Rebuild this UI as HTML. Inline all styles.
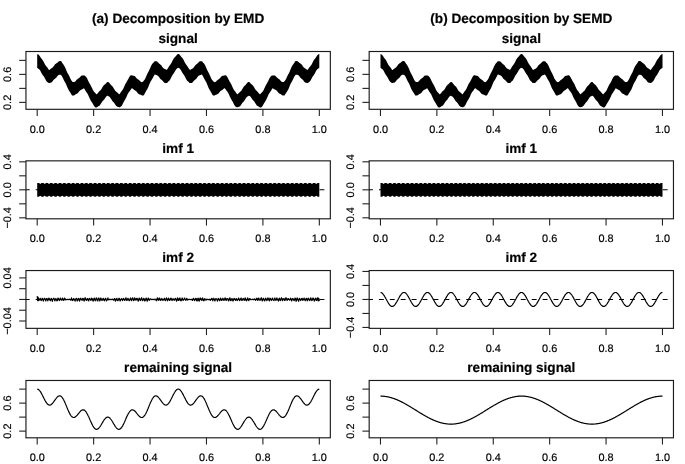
<!DOCTYPE html>
<html><head><meta charset="utf-8"><style>
html,body{margin:0;padding:0;background:#fff;}
svg{display:block;will-change:transform;}
text{font-family:"Liberation Sans", sans-serif;fill:#000;stroke:#000;stroke-width:0.18px;text-rendering:geometricPrecision;}
</style></head><body>
<svg width="685" height="464" viewBox="0 0 685 464">
<rect width="685" height="464" fill="#fff"/>
<text x="178.14" y="22.7" text-anchor="middle" font-size="13.6" font-weight="bold">(a) Decomposition by EMD</text>
<text x="178.14" y="43.00" text-anchor="middle" font-size="13.6" font-weight="bold">signal</text>
<rect x="25.95" y="51.50" width="304.38" height="57.80" fill="none" stroke="#1a1a1a" stroke-width="1.15"/>
<line x1="37.20" y1="109.30" x2="37.20" y2="116.05" stroke="#222" stroke-width="1.1"/>
<text x="37.20" y="132.70" text-anchor="middle" font-size="10.9">0.0</text>
<line x1="93.63" y1="109.30" x2="93.63" y2="116.05" stroke="#222" stroke-width="1.1"/>
<text x="93.63" y="132.70" text-anchor="middle" font-size="10.9">0.2</text>
<line x1="150.05" y1="109.30" x2="150.05" y2="116.05" stroke="#222" stroke-width="1.1"/>
<text x="150.05" y="132.70" text-anchor="middle" font-size="10.9">0.4</text>
<line x1="206.48" y1="109.30" x2="206.48" y2="116.05" stroke="#222" stroke-width="1.1"/>
<text x="206.48" y="132.70" text-anchor="middle" font-size="10.9">0.6</text>
<line x1="262.90" y1="109.30" x2="262.90" y2="116.05" stroke="#222" stroke-width="1.1"/>
<text x="262.90" y="132.70" text-anchor="middle" font-size="10.9">0.8</text>
<line x1="319.33" y1="109.30" x2="319.33" y2="116.05" stroke="#222" stroke-width="1.1"/>
<text x="319.33" y="132.70" text-anchor="middle" font-size="10.9">1.0</text>
<line x1="19.20" y1="102.38" x2="25.95" y2="102.38" stroke="#222" stroke-width="1.1"/>
<text x="11.15" y="102.38" transform="rotate(-90 11.15 102.38)" text-anchor="middle" font-size="10.9">0.2</text>
<line x1="19.20" y1="88.38" x2="25.95" y2="88.38" stroke="#222" stroke-width="1.1"/>
<line x1="19.20" y1="74.38" x2="25.95" y2="74.38" stroke="#222" stroke-width="1.1"/>
<text x="11.15" y="74.38" transform="rotate(-90 11.15 74.38)" text-anchor="middle" font-size="10.9">0.6</text>
<line x1="19.20" y1="60.38" x2="25.95" y2="60.38" stroke="#222" stroke-width="1.1"/>
<polygon points="37.2,54.2 37.4,54.2 37.6,54.2 37.8,54.2 38.0,54.3 38.2,54.4 38.4,54.5 38.6,54.7 38.8,54.9 39.0,55.1 39.2,55.4 39.4,55.6 39.6,55.9 39.8,56.2 40.0,56.5 40.2,56.8 40.4,57.1 40.6,57.4 40.8,57.7 41.0,58.0 41.2,58.2 41.4,58.5 41.6,58.7 41.8,58.9 42.0,59.2 42.2,59.5 42.4,59.7 42.6,60.0 42.8,60.4 43.0,60.7 43.2,61.1 43.5,61.5 43.7,61.9 43.9,62.3 44.1,62.7 44.3,63.1 44.5,63.6 44.7,64.0 44.9,64.3 45.1,64.7 45.3,65.0 45.5,65.3 45.7,65.6 45.9,65.8 46.1,66.1 46.3,66.3 46.5,66.6 46.7,66.8 46.9,67.1 47.1,67.3 47.3,67.6 47.5,67.8 47.7,68.1 47.9,68.4 48.1,68.7 48.3,69.0 48.5,69.3 48.7,69.6 48.9,69.9 49.1,70.1 49.3,70.0 49.5,69.9 49.7,69.7 49.9,69.5 50.1,69.3 50.3,69.2 50.5,69.0 50.7,68.8 50.9,68.7 51.1,68.5 51.3,68.4 51.5,68.3 51.7,68.1 51.9,68.0 52.1,67.9 52.3,67.8 52.5,67.6 52.7,67.4 52.9,67.2 53.1,67.0 53.3,66.8 53.5,66.5 53.7,66.2 53.9,65.9 54.1,65.7 54.3,65.4 54.5,65.1 54.7,64.8 54.9,64.5 55.1,64.3 55.3,64.1 55.6,63.9 55.8,63.7 56.0,63.6 56.2,63.4 56.4,63.3 56.6,63.2 56.8,63.1 57.0,62.9 57.2,62.8 57.4,62.7 57.6,62.5 57.8,62.3 58.0,62.2 58.2,62.0 58.4,61.8 58.6,61.6 58.8,61.5 59.0,61.3 59.2,61.2 59.4,61.1 59.6,61.1 59.8,61.0 60.0,61.0 60.2,61.0 60.4,61.0 60.6,61.0 60.8,61.0 61.0,61.1 61.2,61.2 61.4,61.5 61.6,61.8 61.8,62.1 62.0,62.5 62.2,62.8 62.4,63.1 62.6,63.4 62.8,63.7 63.0,64.0 63.2,64.3 63.4,64.5 63.6,64.8 63.8,65.1 64.0,65.4 64.2,65.7 64.4,66.1 64.6,66.4 64.8,66.8 65.0,67.2 65.2,67.7 65.4,68.1 65.6,68.6 65.8,69.1 66.0,69.6 66.2,70.1 66.4,70.6 66.6,71.1 66.8,71.5 67.0,72.0 67.2,72.4 67.4,72.8 67.7,73.2 67.9,73.5 68.1,73.9 68.3,74.3 68.5,74.6 68.7,75.0 68.9,75.4 69.1,75.8 69.3,76.2 69.5,76.6 69.7,77.0 69.9,77.5 70.1,77.9 70.3,78.3 70.5,78.8 70.7,79.2 70.9,79.6 71.1,80.0 71.3,80.3 71.5,80.6 71.7,80.9 71.9,81.1 72.1,81.4 72.3,81.6 72.5,81.8 72.7,81.9 72.9,82.0 73.1,82.0 73.3,82.0 73.5,82.0 73.7,82.0 73.9,82.0 74.1,81.9 74.3,81.9 74.5,81.9 74.7,81.8 74.9,81.7 75.1,81.5 75.3,81.4 75.5,81.2 75.7,81.0 75.9,80.7 76.1,80.5 76.3,80.2 76.5,80.0 76.7,79.8 76.9,79.6 77.1,79.4 77.3,79.2 77.5,79.0 77.7,78.9 77.9,78.8 78.1,78.6 78.3,78.5 78.5,78.4 78.7,78.3 78.9,78.1 79.1,78.0 79.3,77.8 79.5,77.6 79.8,77.4 80.0,77.2 80.2,76.9 80.4,76.7 80.6,76.5 80.8,76.3 81.0,76.1 81.2,75.9 81.4,75.7 81.6,75.6 81.8,75.5 82.0,75.5 82.2,75.4 82.4,75.4 82.6,75.4 82.8,75.4 83.0,75.4 83.2,75.4 83.4,75.4 83.6,75.4 83.8,75.4 84.0,75.5 84.2,75.5 84.4,75.5 84.6,75.5 84.8,75.6 85.0,75.8 85.2,76.0 85.4,76.2 85.6,76.4 85.8,76.6 86.0,76.8 86.2,77.1 86.4,77.3 86.6,77.6 86.8,77.9 87.0,78.3 87.2,78.7 87.4,79.1 87.6,79.5 87.8,79.9 88.0,80.4 88.2,80.8 88.4,81.2 88.6,81.6 88.8,82.0 89.0,82.4 89.2,82.8 89.4,83.2 89.6,83.5 89.8,83.8 90.0,84.2 90.2,84.5 90.4,84.8 90.6,85.2 90.8,85.6 91.0,86.0 91.2,86.4 91.4,86.8 91.6,87.2 91.9,87.7 92.1,88.1 92.3,88.6 92.5,89.0 92.7,89.4 92.9,89.9 93.1,90.2 93.3,90.6 93.5,90.9 93.7,91.2 93.9,91.5 94.1,91.7 94.3,91.9 94.5,92.2 94.7,92.4 94.9,92.6 95.1,92.8 95.3,93.0 95.5,93.2 95.7,93.5 95.9,93.7 96.1,93.9 96.3,94.2 96.5,94.2 96.7,94.2 96.9,94.0 97.1,93.9 97.3,93.7 97.5,93.5 97.7,93.3 97.9,93.1 98.1,92.8 98.3,92.5 98.5,92.3 98.7,92.0 98.9,91.8 99.1,91.6 99.3,91.3 99.5,91.1 99.7,90.9 99.9,90.8 100.1,90.6 100.3,90.4 100.5,90.2 100.7,90.0 100.9,89.7 101.1,89.5 101.3,89.2 101.5,88.9 101.7,88.5 101.9,88.2 102.1,87.9 102.3,87.5 102.5,87.1 102.7,86.8 102.9,86.5 103.1,86.2 103.3,85.9 103.5,85.6 103.7,85.4 104.0,85.2 104.2,85.0 104.4,84.8 104.6,84.6 104.8,84.5 105.0,84.3 105.2,84.2 105.4,84.0 105.6,83.8 105.8,83.6 106.0,83.4 106.2,83.2 106.4,83.0 106.6,82.7 106.8,82.5 107.0,82.3 107.2,82.2 107.4,82.0 107.6,82.0 107.8,82.0 108.0,82.0 108.2,82.0 108.4,82.1 108.6,82.2 108.8,82.4 109.0,82.6 109.2,82.8 109.4,83.0 109.6,83.2 109.8,83.5 110.0,83.8 110.2,84.0 110.4,84.3 110.6,84.5 110.8,84.8 111.0,85.0 111.2,85.2 111.4,85.4 111.6,85.6 111.8,85.8 112.0,85.9 112.2,86.1 112.4,86.4 112.6,86.6 112.8,86.8 113.0,87.1 113.2,87.4 113.4,87.7 113.6,88.1 113.8,88.4 114.0,88.8 114.2,89.1 114.4,89.5 114.6,89.8 114.8,90.1 115.0,90.4 115.2,90.7 115.4,90.9 115.6,91.2 115.8,91.3 116.1,91.5 116.3,91.7 116.5,91.9 116.7,92.0 116.9,92.2 117.1,92.3 117.3,92.5 117.5,92.7 117.7,92.9 117.9,93.1 118.1,93.3 118.3,93.5 118.5,93.7 118.7,93.9 118.9,94.1 119.1,94.3 119.3,94.4 119.5,94.1 119.7,93.9 119.9,93.6 120.1,93.3 120.3,93.0 120.5,92.7 120.7,92.4 120.9,92.1 121.1,91.8 121.3,91.6 121.5,91.3 121.7,91.0 121.9,90.8 122.1,90.5 122.3,90.3 122.5,90.0 122.7,89.7 122.9,89.3 123.1,89.0 123.3,88.6 123.5,88.2 123.7,87.8 123.9,87.3 124.1,86.8 124.3,86.4 124.5,85.9 124.7,85.4 124.9,85.0 125.1,84.6 125.3,84.1 125.5,83.8 125.7,83.4 125.9,83.0 126.1,82.7 126.3,82.4 126.5,82.0 126.7,81.7 126.9,81.4 127.1,81.1 127.3,80.7 127.5,80.3 127.7,80.0 127.9,79.6 128.2,79.2 128.4,78.8 128.6,78.4 128.8,78.0 129.0,77.6 129.2,77.2 129.4,76.9 129.6,76.6 129.8,76.3 130.0,76.0 130.2,75.8 130.4,75.6 130.6,75.5 130.8,75.3 131.0,75.3 131.2,75.3 131.4,75.3 131.6,75.3 131.8,75.3 132.0,75.4 132.2,75.5 132.4,75.5 132.6,75.6 132.8,75.6 133.0,75.7 133.2,75.7 133.4,75.7 133.6,75.8 133.8,75.8 134.0,75.8 134.2,75.9 134.4,76.0 134.6,76.1 134.8,76.2 135.0,76.4 135.2,76.5 135.4,76.7 135.6,77.0 135.8,77.2 136.0,77.4 136.2,77.7 136.4,77.9 136.6,78.2 136.8,78.4 137.0,78.6 137.2,78.8 137.4,79.0 137.6,79.1 137.8,79.3 138.0,79.4 138.2,79.5 138.4,79.6 138.6,79.7 138.8,79.9 139.0,80.0 139.2,80.2 139.4,80.4 139.6,80.6 139.8,80.8 140.0,81.0 140.3,81.2 140.5,81.4 140.7,81.6 140.9,81.8 141.1,81.9 141.3,82.0 141.5,82.1 141.7,82.2 141.9,82.2 142.1,82.1 142.3,82.1 142.5,82.0 142.7,81.9 142.9,81.6 143.1,81.4 143.3,81.2 143.5,80.9 143.7,80.7 143.9,80.5 144.1,80.3 144.3,80.0 144.5,79.7 144.7,79.4 144.9,79.1 145.1,78.8 145.3,78.4 145.5,78.0 145.7,77.5 145.9,77.1 146.1,76.6 146.3,76.1 146.5,75.7 146.7,75.2 146.9,74.7 147.1,74.3 147.3,73.9 147.5,73.5 147.7,73.1 147.9,72.7 148.1,72.3 148.3,71.9 148.5,71.6 148.7,71.2 148.9,70.8 149.1,70.4 149.3,70.0 149.5,69.6 149.7,69.1 149.9,68.7 150.1,68.2 150.3,67.7 150.5,67.2 150.7,66.8 150.9,66.3 151.1,65.9 151.3,65.5 151.5,65.1 151.7,64.7 151.9,64.4 152.1,64.1 152.4,63.8 152.6,63.6 152.8,63.3 153.0,63.1 153.2,62.9 153.4,62.6 153.6,62.4 153.8,62.2 154.0,61.9 154.2,61.6 154.4,61.4 154.6,61.3 154.8,61.3 155.0,61.3 155.2,61.2 155.4,61.2 155.6,61.2 155.8,61.2 156.0,61.2 156.2,61.2 156.4,61.2 156.6,61.3 156.8,61.4 157.0,61.5 157.2,61.6 157.4,61.8 157.6,62.0 157.8,62.2 158.0,62.4 158.2,62.6 158.4,62.8 158.6,63.0 158.8,63.2 159.0,63.4 159.2,63.6 159.4,63.8 159.6,63.9 159.8,64.1 160.0,64.2 160.2,64.4 160.4,64.5 160.6,64.7 160.8,64.9 161.0,65.1 161.2,65.3 161.4,65.5 161.6,65.8 161.8,66.1 162.0,66.4 162.2,66.7 162.4,66.9 162.6,67.2 162.8,67.5 163.0,67.8 163.2,68.0 163.4,68.2 163.6,68.3 163.8,68.5 164.0,68.6 164.2,68.7 164.5,68.8 164.7,68.9 164.9,69.0 165.1,69.1 165.3,69.2 165.5,69.3 165.7,69.4 165.9,69.5 166.1,69.6 166.3,69.8 166.5,69.9 166.7,69.8 166.9,69.6 167.1,69.4 167.3,69.2 167.5,68.9 167.7,68.6 167.9,68.3 168.1,67.9 168.3,67.6 168.5,67.3 168.7,66.9 168.9,66.6 169.1,66.3 169.3,66.0 169.5,65.7 169.7,65.4 169.9,65.1 170.1,64.9 170.3,64.6 170.5,64.4 170.7,64.1 170.9,63.8 171.1,63.5 171.3,63.1 171.5,62.8 171.7,62.4 171.9,62.0 172.1,61.6 172.3,61.2 172.5,60.8 172.7,60.3 172.9,59.9 173.1,59.6 173.3,59.2 173.5,58.9 173.7,58.6 173.9,58.3 174.1,58.0 174.3,57.8 174.5,57.6 174.7,57.4 174.9,57.1 175.1,56.9 175.3,56.7 175.5,56.5 175.7,56.3 175.9,56.0 176.1,55.8 176.3,55.5 176.6,55.3 176.8,55.0 177.0,54.8 177.2,54.6 177.4,54.4 177.6,54.2 177.8,54.0 178.0,54.0 178.2,54.0 178.4,54.0 178.6,54.0 178.8,54.0 179.0,54.2 179.2,54.3 179.4,54.5 179.6,54.8 179.8,55.0 180.0,55.3 180.2,55.5 180.4,55.8 180.6,56.0 180.8,56.3 181.0,56.5 181.2,56.7 181.4,57.0 181.6,57.2 181.8,57.4 182.0,57.6 182.2,57.8 182.4,58.0 182.6,58.3 182.8,58.6 183.0,58.9 183.2,59.2 183.4,59.6 183.6,59.9 183.8,60.3 184.0,60.7 184.2,61.2 184.4,61.6 184.6,62.0 184.8,62.4 185.0,62.8 185.2,63.1 185.4,63.5 185.6,63.8 185.8,64.1 186.0,64.4 186.2,64.6 186.4,64.9 186.6,65.2 186.8,65.4 187.0,65.7 187.2,66.0 187.4,66.3 187.6,66.6 187.8,66.9 188.0,67.2 188.2,67.6 188.4,67.9 188.7,68.3 188.9,68.6 189.1,68.9 189.3,69.2 189.5,69.4 189.7,69.6 189.9,69.8 190.1,69.9 190.3,69.8 190.5,69.7 190.7,69.5 190.9,69.4 191.1,69.3 191.3,69.2 191.5,69.1 191.7,69.0 191.9,68.9 192.1,68.8 192.3,68.7 192.5,68.6 192.7,68.5 192.9,68.3 193.1,68.2 193.3,68.0 193.5,67.8 193.7,67.5 193.9,67.2 194.1,67.0 194.3,66.7 194.5,66.4 194.7,66.1 194.9,65.8 195.1,65.5 195.3,65.3 195.5,65.1 195.7,64.9 195.9,64.7 196.1,64.5 196.3,64.4 196.5,64.2 196.7,64.1 196.9,63.9 197.1,63.8 197.3,63.6 197.5,63.4 197.7,63.2 197.9,63.0 198.1,62.8 198.3,62.6 198.5,62.4 198.7,62.2 198.9,62.0 199.1,61.8 199.3,61.6 199.5,61.5 199.7,61.4 199.9,61.3 200.1,61.2 200.3,61.2 200.5,61.2 200.8,61.2 201.0,61.2 201.2,61.2 201.4,61.2 201.6,61.2 201.8,61.3 202.0,61.3 202.2,61.4 202.4,61.6 202.6,61.9 202.8,62.2 203.0,62.4 203.2,62.7 203.4,62.9 203.6,63.1 203.8,63.3 204.0,63.6 204.2,63.8 204.4,64.1 204.6,64.4 204.8,64.7 205.0,65.1 205.2,65.5 205.4,65.9 205.6,66.3 205.8,66.8 206.0,67.2 206.2,67.7 206.4,68.2 206.6,68.7 206.8,69.1 207.0,69.6 207.2,70.0 207.4,70.4 207.6,70.8 207.8,71.2 208.0,71.6 208.2,72.0 208.4,72.3 208.6,72.7 208.8,73.1 209.0,73.5 209.2,73.9 209.4,74.3 209.6,74.7 209.8,75.2 210.0,75.7 210.2,76.1 210.4,76.6 210.6,77.1 210.8,77.5 211.0,78.0 211.2,78.4 211.4,78.8 211.6,79.1 211.8,79.4 212.0,79.7 212.2,80.0 212.4,80.3 212.6,80.5 212.9,80.7 213.1,81.0 213.3,81.2 213.5,81.4 213.7,81.6 213.9,81.9 214.1,82.0 214.3,82.1 214.5,82.1 214.7,82.2 214.9,82.2 215.1,82.1 215.3,82.0 215.5,81.9 215.7,81.8 215.9,81.6 216.1,81.4 216.3,81.2 216.5,81.0 216.7,80.8 216.9,80.6 217.1,80.4 217.3,80.2 217.5,80.0 217.7,79.9 217.9,79.7 218.1,79.6 218.3,79.5 218.5,79.4 218.7,79.2 218.9,79.1 219.1,79.0 219.3,78.8 219.5,78.6 219.7,78.4 219.9,78.2 220.1,78.0 220.3,77.7 220.5,77.5 220.7,77.2 220.9,77.0 221.1,76.7 221.3,76.5 221.5,76.4 221.7,76.2 221.9,76.1 222.1,76.0 222.3,75.9 222.5,75.8 222.7,75.8 222.9,75.8 223.1,75.7 223.3,75.7 223.5,75.7 223.7,75.6 223.9,75.6 224.1,75.5 224.3,75.5 224.5,75.4 224.7,75.3 225.0,75.3 225.2,75.3 225.4,75.3 225.6,75.3 225.8,75.3 226.0,75.5 226.2,75.6 226.4,75.8 226.6,76.0 226.8,76.3 227.0,76.6 227.2,76.9 227.4,77.2 227.6,77.6 227.8,78.0 228.0,78.3 228.2,78.8 228.4,79.2 228.6,79.6 228.8,80.0 229.0,80.3 229.2,80.7 229.4,81.1 229.6,81.4 229.8,81.7 230.0,82.1 230.2,82.4 230.4,82.7 230.6,83.0 230.8,83.4 231.0,83.8 231.2,84.1 231.4,84.6 231.6,85.0 231.8,85.4 232.0,85.9 232.2,86.4 232.4,86.8 232.6,87.3 232.8,87.7 233.0,88.2 233.2,88.6 233.4,89.0 233.6,89.3 233.8,89.7 234.0,90.0 234.2,90.3 234.4,90.5 234.6,90.8 234.8,91.1 235.0,91.3 235.2,91.6 235.4,91.8 235.6,92.1 235.8,92.4 236.0,92.7 236.2,93.0 236.4,93.3 236.6,93.6 236.8,93.8 237.1,94.1 237.3,94.4 237.5,94.3 237.7,94.1 237.9,94.0 238.1,93.8 238.3,93.6 238.5,93.3 238.7,93.1 238.9,92.9 239.1,92.7 239.3,92.5 239.5,92.3 239.7,92.2 239.9,92.0 240.1,91.8 240.3,91.7 240.5,91.5 240.7,91.3 240.9,91.1 241.1,90.9 241.3,90.7 241.5,90.4 241.7,90.1 241.9,89.8 242.1,89.5 242.3,89.1 242.5,88.8 242.7,88.4 242.9,88.1 243.1,87.7 243.3,87.4 243.5,87.1 243.7,86.8 243.9,86.6 244.1,86.3 244.3,86.1 244.5,85.9 244.7,85.7 244.9,85.6 245.1,85.4 245.3,85.2 245.5,85.0 245.7,84.8 245.9,84.5 246.1,84.3 246.3,84.0 246.5,83.8 246.7,83.5 246.9,83.3 247.1,83.0 247.3,82.8 247.5,82.6 247.7,82.4 247.9,82.2 248.1,82.1 248.3,82.0 248.5,82.0 248.7,82.0 248.9,82.0 249.2,82.0 249.4,82.1 249.6,82.3 249.8,82.5 250.0,82.7 250.2,83.0 250.4,83.2 250.6,83.4 250.8,83.6 251.0,83.8 251.2,84.0 251.4,84.2 251.6,84.3 251.8,84.5 252.0,84.7 252.2,84.8 252.4,85.0 252.6,85.2 252.8,85.4 253.0,85.6 253.2,85.9 253.4,86.2 253.6,86.5 253.8,86.8 254.0,87.1 254.2,87.5 254.4,87.8 254.6,88.2 254.8,88.5 255.0,88.9 255.2,89.2 255.4,89.5 255.6,89.7 255.8,90.0 256.0,90.2 256.2,90.4 256.4,90.6 256.6,90.8 256.8,91.0 257.0,91.2 257.2,91.4 257.4,91.6 257.6,91.8 257.8,92.0 258.0,92.3 258.2,92.5 258.4,92.8 258.6,93.0 258.8,93.3 259.0,93.5 259.2,93.7 259.4,93.9 259.6,94.0 259.8,94.2 260.0,94.3 260.2,94.2 260.4,94.0 260.6,93.7 260.8,93.5 261.0,93.2 261.3,93.0 261.5,92.8 261.7,92.6 261.9,92.4 262.1,92.1 262.3,91.9 262.5,91.7 262.7,91.5 262.9,91.2 263.1,90.9 263.3,90.6 263.5,90.2 263.7,89.9 263.9,89.5 264.1,89.0 264.3,88.6 264.5,88.1 264.7,87.7 264.9,87.2 265.1,86.8 265.3,86.4 265.5,86.0 265.7,85.6 265.9,85.2 266.1,84.8 266.3,84.5 266.5,84.2 266.7,83.8 266.9,83.5 267.1,83.1 267.3,82.8 267.5,82.4 267.7,82.0 267.9,81.6 268.1,81.2 268.3,80.8 268.5,80.4 268.7,79.9 268.9,79.5 269.1,79.1 269.3,78.7 269.5,78.3 269.7,77.9 269.9,77.6 270.1,77.3 270.3,77.0 270.5,76.8 270.7,76.6 270.9,76.4 271.1,76.2 271.3,76.0 271.5,75.8 271.7,75.6 271.9,75.5 272.1,75.5 272.3,75.5 272.5,75.5 272.7,75.5 272.9,75.4 273.1,75.4 273.4,75.4 273.6,75.4 273.8,75.4 274.0,75.4 274.2,75.4 274.4,75.4 274.6,75.5 274.8,75.5 275.0,75.6 275.2,75.7 275.4,75.9 275.6,76.0 275.8,76.2 276.0,76.5 276.2,76.7 276.4,76.9 276.6,77.1 276.8,77.4 277.0,77.6 277.2,77.8 277.4,78.0 277.6,78.1 277.8,78.3 278.0,78.4 278.2,78.5 278.4,78.7 278.6,78.8 278.8,78.9 279.0,79.0 279.2,79.2 279.4,79.4 279.6,79.6 279.8,79.8 280.0,80.0 280.2,80.2 280.4,80.5 280.6,80.7 280.8,80.9 281.0,81.2 281.2,81.3 281.4,81.5 281.6,81.7 281.8,81.8 282.0,81.9 282.2,81.9 282.4,82.0 282.6,82.0 282.8,82.0 283.0,82.0 283.2,82.0 283.4,82.0 283.6,82.0 283.8,81.9 284.0,81.7 284.2,81.6 284.4,81.4 284.6,81.1 284.8,80.9 285.0,80.6 285.2,80.3 285.5,80.0 285.7,79.6 285.9,79.2 286.1,78.8 286.3,78.4 286.5,77.9 286.7,77.5 286.9,77.0 287.1,76.6 287.3,76.2 287.5,75.8 287.7,75.4 287.9,75.0 288.1,74.6 288.3,74.2 288.5,73.9 288.7,73.5 288.9,73.2 289.1,72.8 289.3,72.4 289.5,72.0 289.7,71.5 289.9,71.1 290.1,70.6 290.3,70.1 290.5,69.6 290.7,69.1 290.9,68.6 291.1,68.1 291.3,67.7 291.5,67.2 291.7,66.8 291.9,66.4 292.1,66.0 292.3,65.7 292.5,65.4 292.7,65.1 292.9,64.8 293.1,64.5 293.3,64.3 293.5,64.0 293.7,63.7 293.9,63.4 294.1,63.1 294.3,62.8 294.5,62.5 294.7,62.2 294.9,61.8 295.1,61.5 295.3,61.2 295.5,61.1 295.7,61.0 295.9,61.0 296.1,61.0 296.3,61.0 296.5,61.0 296.7,61.0 296.9,61.1 297.1,61.1 297.3,61.2 297.6,61.3 297.8,61.4 298.0,61.6 298.2,61.8 298.4,62.0 298.6,62.1 298.8,62.3 299.0,62.5 299.2,62.7 299.4,62.8 299.6,62.9 299.8,63.1 300.0,63.2 300.2,63.3 300.4,63.4 300.6,63.6 300.8,63.7 301.0,63.9 301.2,64.1 301.4,64.3 301.6,64.5 301.8,64.8 302.0,65.0 302.2,65.3 302.4,65.6 302.6,65.9 302.8,66.2 303.0,66.5 303.2,66.8 303.4,67.0 303.6,67.2 303.8,67.4 304.0,67.6 304.2,67.8 304.4,67.9 304.6,68.0 304.8,68.2 305.0,68.3 305.2,68.4 305.4,68.5 305.6,68.7 305.8,68.8 306.0,69.0 306.2,69.1 306.4,69.3 306.6,69.5 306.8,69.7 307.0,69.8 307.2,70.0 307.4,70.1 307.6,69.9 307.8,69.6 308.0,69.3 308.2,69.1 308.4,68.8 308.6,68.4 308.8,68.1 309.0,67.9 309.2,67.6 309.4,67.3 309.7,67.0 309.9,66.8 310.1,66.6 310.3,66.3 310.5,66.1 310.7,65.8 310.9,65.6 311.1,65.3 311.3,65.0 311.5,64.7 311.7,64.3 311.9,64.0 312.1,63.6 312.3,63.2 312.5,62.7 312.7,62.3 312.9,61.9 313.1,61.5 313.3,61.1 313.5,60.7 313.7,60.4 313.9,60.0 314.1,59.7 314.3,59.4 314.5,59.2 314.7,58.9 314.9,58.7 315.1,58.4 315.3,58.2 315.5,57.9 315.7,57.7 315.9,57.4 316.1,57.1 316.3,56.8 316.5,56.5 316.7,56.2 316.9,55.9 317.1,55.6 317.3,55.4 317.5,55.1 317.7,54.9 317.9,54.7 318.1,54.5 318.3,54.4 318.5,54.3 318.7,54.2 318.9,54.1 319.1,54.1 319.3,54.1 319.3,67.8 319.1,67.9 318.9,68.1 318.7,68.3 318.5,68.4 318.3,68.6 318.1,68.7 317.9,68.8 317.7,69.0 317.5,69.1 317.3,69.3 317.1,69.5 316.9,69.8 316.7,70.0 316.5,70.3 316.3,70.6 316.1,71.0 315.9,71.3 315.7,71.7 315.5,72.1 315.3,72.5 315.1,72.9 314.9,73.3 314.7,73.6 314.5,74.0 314.3,74.3 314.1,74.6 313.9,74.9 313.7,75.2 313.5,75.5 313.3,75.8 313.1,76.0 312.9,76.3 312.7,76.6 312.5,76.9 312.3,77.3 312.1,77.6 311.9,78.0 311.7,78.4 311.5,78.8 311.3,79.1 311.1,79.5 310.9,79.9 310.7,80.3 310.5,80.6 310.3,80.9 310.1,81.2 309.9,81.4 309.7,81.6 309.4,81.8 309.2,82.0 309.0,82.2 308.8,82.3 308.6,82.5 308.4,82.6 308.2,82.8 308.0,82.9 307.8,82.9 307.6,82.9 307.4,82.9 307.2,82.9 307.0,82.9 306.8,82.9 306.6,82.9 306.4,82.8 306.2,82.8 306.0,82.8 305.8,82.7 305.6,82.7 305.4,82.6 305.2,82.5 305.0,82.4 304.8,82.2 304.6,82.1 304.4,81.9 304.2,81.6 304.0,81.4 303.8,81.1 303.6,80.8 303.4,80.6 303.2,80.3 303.0,80.1 302.8,79.8 302.6,79.6 302.4,79.4 302.2,79.3 302.0,79.1 301.8,78.9 301.6,78.8 301.4,78.6 301.2,78.5 301.0,78.3 300.8,78.1 300.6,77.9 300.4,77.7 300.2,77.4 300.0,77.2 299.8,76.9 299.6,76.6 299.4,76.4 299.2,76.1 299.0,75.9 298.8,75.6 298.6,75.4 298.4,75.3 298.2,75.1 298.0,75.0 297.8,74.9 297.6,74.9 297.3,74.8 297.1,74.8 296.9,74.8 296.7,74.7 296.5,74.7 296.3,74.7 296.1,74.7 295.9,74.7 295.7,74.8 295.5,75.0 295.3,75.2 295.1,75.5 294.9,75.7 294.7,76.0 294.5,76.3 294.3,76.7 294.1,77.1 293.9,77.5 293.7,77.9 293.5,78.3 293.3,78.7 293.1,79.2 292.9,79.6 292.7,80.0 292.5,80.4 292.3,80.8 292.1,81.2 291.9,81.5 291.7,81.9 291.5,82.2 291.3,82.6 291.1,82.9 290.9,83.3 290.7,83.7 290.5,84.1 290.3,84.6 290.1,85.0 289.9,85.5 289.7,86.0 289.5,86.5 289.3,87.0 289.1,87.5 288.9,88.0 288.7,88.5 288.5,88.9 288.3,89.4 288.1,89.8 287.9,90.1 287.7,90.5 287.5,90.8 287.3,91.1 287.1,91.4 286.9,91.7 286.7,92.0 286.5,92.3 286.3,92.6 286.1,92.9 285.9,93.2 285.7,93.5 285.5,93.9 285.2,94.2 285.0,94.6 284.8,94.9 284.6,95.2 284.4,95.5 284.2,95.6 284.0,95.6 283.8,95.6 283.6,95.6 283.4,95.6 283.2,95.6 283.0,95.6 282.8,95.5 282.6,95.5 282.4,95.4 282.2,95.3 282.0,95.1 281.8,95.0 281.6,94.8 281.4,94.7 281.2,94.5 281.0,94.4 280.8,94.3 280.6,94.1 280.4,94.0 280.2,93.9 280.0,93.9 279.8,93.8 279.6,93.7 279.4,93.6 279.2,93.5 279.0,93.3 278.8,93.2 278.6,93.0 278.4,92.8 278.2,92.5 278.0,92.3 277.8,92.0 277.6,91.8 277.4,91.5 277.2,91.3 277.0,91.0 276.8,90.8 276.6,90.6 276.4,90.4 276.2,90.2 276.0,90.1 275.8,90.0 275.6,89.9 275.4,89.8 275.2,89.7 275.0,89.6 274.8,89.5 274.6,89.4 274.4,89.3 274.2,89.2 274.0,89.1 273.8,88.9 273.6,88.8 273.4,88.7 273.1,88.5 272.9,88.4 272.7,88.3 272.5,88.3 272.3,88.6 272.1,88.9 271.9,89.2 271.7,89.5 271.5,89.9 271.3,90.2 271.1,90.6 270.9,90.9 270.7,91.2 270.5,91.5 270.3,91.8 270.1,92.1 269.9,92.4 269.7,92.7 269.5,93.0 269.3,93.3 269.1,93.6 268.9,93.9 268.7,94.3 268.5,94.6 268.3,95.0 268.1,95.5 267.9,95.9 267.7,96.4 267.5,96.9 267.3,97.3 267.1,97.8 266.9,98.3 266.7,98.7 266.5,99.2 266.3,99.6 266.1,99.9 265.9,100.3 265.7,100.7 265.5,101.0 265.3,101.3 265.1,101.6 264.9,101.9 264.7,102.2 264.5,102.5 264.3,102.9 264.1,103.2 263.9,103.5 263.7,103.9 263.5,104.3 263.3,104.6 263.1,105.0 262.9,105.4 262.7,105.7 262.5,106.0 262.3,106.3 262.1,106.6 261.9,106.8 261.7,107.0 261.5,107.2 261.3,107.3 261.0,107.5 260.8,107.5 260.6,107.5 260.4,107.5 260.2,107.5 260.0,107.4 259.8,107.3 259.6,107.2 259.4,107.0 259.2,106.9 259.0,106.8 258.8,106.7 258.6,106.5 258.4,106.4 258.2,106.3 258.0,106.3 257.8,106.2 257.6,106.0 257.4,105.9 257.2,105.8 257.0,105.6 256.8,105.4 256.6,105.2 256.4,104.9 256.2,104.6 256.0,104.3 255.8,104.0 255.6,103.7 255.4,103.3 255.2,103.0 255.0,102.7 254.8,102.3 254.6,102.1 254.4,101.8 254.2,101.5 254.0,101.3 253.8,101.1 253.6,100.8 253.4,100.6 253.2,100.4 253.0,100.2 252.8,100.0 252.6,99.7 252.4,99.5 252.2,99.2 252.0,98.9 251.8,98.6 251.6,98.3 251.4,98.0 251.2,97.7 251.0,97.4 250.8,97.1 250.6,96.8 250.4,96.6 250.2,96.4 250.0,96.2 249.8,96.1 249.6,96.0 249.4,95.9 249.2,95.8 248.9,95.7 248.7,95.8 248.5,96.0 248.3,96.1 248.1,96.2 247.9,96.3 247.7,96.4 247.5,96.5 247.3,96.6 247.1,96.8 246.9,96.9 246.7,97.1 246.5,97.4 246.3,97.6 246.1,97.9 245.9,98.2 245.7,98.5 245.5,98.8 245.3,99.2 245.1,99.5 244.9,99.8 244.7,100.1 244.5,100.4 244.3,100.7 244.1,101.0 243.9,101.2 243.7,101.4 243.5,101.7 243.3,101.9 243.1,102.1 242.9,102.3 242.7,102.5 242.5,102.8 242.3,103.0 242.1,103.3 241.9,103.6 241.7,103.9 241.5,104.2 241.3,104.5 241.1,104.8 240.9,105.1 240.7,105.4 240.5,105.7 240.3,105.9 240.1,106.1 239.9,106.3 239.7,106.5 239.5,106.6 239.3,106.7 239.1,106.8 238.9,106.8 238.7,106.9 238.5,106.9 238.3,107.0 238.1,107.0 237.9,107.1 237.7,107.2 237.5,107.2 237.3,107.2 237.1,107.2 236.8,107.2 236.6,107.2 236.4,107.1 236.2,107.0 236.0,106.9 235.8,106.7 235.6,106.6 235.4,106.4 235.2,106.2 235.0,106.0 234.8,105.7 234.6,105.4 234.4,105.1 234.2,104.7 234.0,104.4 233.8,104.0 233.6,103.6 233.4,103.2 233.2,102.7 233.0,102.3 232.8,102.0 232.6,101.6 232.4,101.2 232.2,100.9 232.0,100.5 231.8,100.2 231.6,99.9 231.4,99.6 231.2,99.2 231.0,98.9 230.8,98.5 230.6,98.1 230.4,97.7 230.2,97.3 230.0,96.9 229.8,96.4 229.6,96.0 229.4,95.5 229.2,95.0 229.0,94.6 228.8,94.1 228.6,93.7 228.4,93.3 228.2,92.9 228.0,92.6 227.8,92.3 227.6,92.0 227.4,91.7 227.2,91.4 227.0,91.2 226.8,90.9 226.6,90.7 226.4,90.4 226.2,90.2 226.0,89.9 225.8,89.6 225.6,89.3 225.4,89.0 225.2,88.7 225.0,88.4 224.7,88.3 224.5,88.2 224.3,88.3 224.1,88.5 223.9,88.6 223.7,88.8 223.5,88.9 223.3,89.1 223.1,89.3 222.9,89.5 222.7,89.6 222.5,89.8 222.3,89.9 222.1,90.1 221.9,90.2 221.7,90.3 221.5,90.4 221.3,90.5 221.1,90.6 220.9,90.7 220.7,90.9 220.5,91.0 220.3,91.2 220.1,91.4 219.9,91.7 219.7,91.9 219.5,92.1 219.3,92.4 219.1,92.7 218.9,92.9 218.7,93.2 218.5,93.4 218.3,93.6 218.1,93.8 217.9,93.9 217.7,94.1 217.5,94.2 217.3,94.3 217.1,94.3 216.9,94.4 216.7,94.5 216.5,94.5 216.3,94.6 216.1,94.7 215.9,94.7 215.7,94.8 215.5,94.9 215.3,95.1 215.1,95.2 214.9,95.3 214.7,95.4 214.5,95.5 214.3,95.5 214.1,95.6 213.9,95.6 213.7,95.6 213.5,95.6 213.3,95.6 213.1,95.5 212.9,95.2 212.6,95.0 212.4,94.7 212.2,94.3 212.0,94.0 211.8,93.6 211.6,93.2 211.4,92.9 211.2,92.5 211.0,92.1 210.8,91.7 210.6,91.4 210.4,91.0 210.2,90.7 210.0,90.4 209.8,90.0 209.6,89.7 209.4,89.4 209.2,89.0 209.0,88.7 208.8,88.3 208.6,87.9 208.4,87.5 208.2,87.0 208.0,86.5 207.8,86.0 207.6,85.5 207.4,85.0 207.2,84.5 207.0,84.0 206.8,83.5 206.6,83.1 206.4,82.6 206.2,82.2 206.0,81.8 205.8,81.4 205.6,81.1 205.4,80.7 205.2,80.4 205.0,80.1 204.8,79.7 204.6,79.4 204.4,79.0 204.2,78.7 204.0,78.3 203.8,77.9 203.6,77.5 203.4,77.1 203.2,76.8 203.0,76.4 202.8,76.0 202.6,75.7 202.4,75.3 202.2,75.0 202.0,74.8 201.8,74.5 201.6,74.4 201.4,74.5 201.2,74.7 201.0,74.8 200.8,74.9 200.5,75.0 200.3,75.0 200.1,75.1 199.9,75.2 199.7,75.2 199.5,75.3 199.3,75.4 199.1,75.5 198.9,75.6 198.7,75.7 198.5,75.9 198.3,76.0 198.1,76.3 197.9,76.5 197.7,76.7 197.5,77.0 197.3,77.3 197.1,77.6 196.9,77.9 196.7,78.2 196.5,78.4 196.3,78.7 196.1,78.9 195.9,79.1 195.7,79.3 195.5,79.5 195.3,79.6 195.1,79.8 194.9,79.9 194.7,80.1 194.5,80.2 194.3,80.4 194.1,80.6 193.9,80.8 193.7,81.0 193.5,81.2 193.3,81.5 193.1,81.7 192.9,81.9 192.7,82.2 192.5,82.4 192.3,82.6 192.1,82.7 191.9,82.9 191.7,83.0 191.5,83.1 191.3,83.1 191.1,83.1 190.9,83.1 190.7,83.1 190.5,83.1 190.3,83.1 190.1,83.1 189.9,83.1 189.7,83.1 189.5,82.9 189.3,82.7 189.1,82.5 188.9,82.2 188.7,82.0 188.4,81.8 188.2,81.6 188.0,81.5 187.8,81.3 187.6,81.1 187.4,80.9 187.2,80.7 187.0,80.4 186.8,80.2 186.6,79.9 186.4,79.6 186.2,79.2 186.0,78.8 185.8,78.5 185.6,78.1 185.4,77.6 185.2,77.2 185.0,76.8 184.8,76.5 184.6,76.1 184.4,75.7 184.2,75.4 184.0,75.1 183.8,74.8 183.6,74.5 183.4,74.2 183.2,73.9 183.0,73.7 182.8,73.4 182.6,73.1 182.4,72.8 182.2,72.5 182.0,72.1 181.8,71.8 181.6,71.4 181.4,71.1 181.2,70.7 181.0,70.3 180.8,70.0 180.6,69.7 180.4,69.4 180.2,69.1 180.0,68.9 179.8,68.7 179.6,68.5 179.4,68.3 179.2,68.2 179.0,68.1 178.8,68.0 178.6,67.9 178.4,67.8 178.2,67.8 178.0,67.9 177.8,68.0 177.6,68.1 177.4,68.2 177.2,68.3 177.0,68.5 176.8,68.7 176.6,68.9 176.3,69.1 176.1,69.4 175.9,69.7 175.7,70.0 175.5,70.4 175.3,70.7 175.1,71.1 174.9,71.4 174.7,71.8 174.5,72.1 174.3,72.5 174.1,72.8 173.9,73.1 173.7,73.4 173.5,73.7 173.3,73.9 173.1,74.2 172.9,74.5 172.7,74.8 172.5,75.1 172.3,75.4 172.1,75.7 171.9,76.1 171.7,76.5 171.5,76.9 171.3,77.3 171.1,77.7 170.9,78.1 170.7,78.5 170.5,78.9 170.3,79.2 170.1,79.6 169.9,79.9 169.7,80.2 169.5,80.4 169.3,80.7 169.1,80.9 168.9,81.1 168.7,81.3 168.5,81.4 168.3,81.6 168.1,81.8 167.9,82.0 167.7,82.2 167.5,82.5 167.3,82.7 167.1,82.9 166.9,83.1 166.7,83.1 166.5,83.1 166.3,83.1 166.1,83.1 165.9,83.1 165.7,83.1 165.5,83.1 165.3,83.1 165.1,83.1 164.9,83.0 164.7,82.9 164.5,82.7 164.2,82.6 164.0,82.4 163.8,82.1 163.6,81.9 163.4,81.7 163.2,81.4 163.0,81.2 162.8,81.0 162.6,80.8 162.4,80.6 162.2,80.4 162.0,80.2 161.8,80.1 161.6,79.9 161.4,79.8 161.2,79.6 161.0,79.5 160.8,79.3 160.6,79.1 160.4,78.9 160.2,78.7 160.0,78.4 159.8,78.1 159.6,77.9 159.4,77.6 159.2,77.3 159.0,77.0 158.8,76.7 158.6,76.5 158.4,76.2 158.2,76.0 158.0,75.9 157.8,75.7 157.6,75.6 157.4,75.5 157.2,75.4 157.0,75.3 156.8,75.3 156.6,75.2 156.4,75.1 156.2,75.0 156.0,75.0 155.8,74.9 155.6,74.8 155.4,74.6 155.2,74.5 155.0,74.4 154.8,74.5 154.6,74.8 154.4,75.0 154.2,75.3 154.0,75.7 153.8,76.0 153.6,76.4 153.4,76.8 153.2,77.2 153.0,77.6 152.8,77.9 152.6,78.3 152.4,78.7 152.1,79.0 151.9,79.4 151.7,79.7 151.5,80.0 151.3,80.4 151.1,80.7 150.9,81.0 150.7,81.4 150.5,81.8 150.3,82.2 150.1,82.6 149.9,83.1 149.7,83.5 149.5,84.0 149.3,84.5 149.1,85.0 148.9,85.6 148.7,86.1 148.5,86.5 148.3,87.0 148.1,87.5 147.9,87.9 147.7,88.3 147.5,88.7 147.3,89.0 147.1,89.4 146.9,89.7 146.7,90.0 146.5,90.3 146.3,90.7 146.1,91.0 145.9,91.4 145.7,91.7 145.5,92.1 145.3,92.5 145.1,92.9 144.9,93.3 144.7,93.6 144.5,94.0 144.3,94.4 144.1,94.7 143.9,95.0 143.7,95.2 143.5,95.5 143.3,95.6 143.1,95.6 142.9,95.6 142.7,95.6 142.5,95.6 142.3,95.5 142.1,95.4 141.9,95.4 141.7,95.3 141.5,95.2 141.3,95.0 141.1,94.9 140.9,94.8 140.7,94.7 140.5,94.7 140.3,94.6 140.0,94.5 139.8,94.5 139.6,94.4 139.4,94.4 139.2,94.3 139.0,94.2 138.8,94.1 138.6,93.9 138.4,93.8 138.2,93.6 138.0,93.4 137.8,93.2 137.6,92.9 137.4,92.7 137.2,92.4 137.0,92.1 136.8,91.9 136.6,91.6 136.4,91.4 136.2,91.2 136.0,91.0 135.8,90.9 135.6,90.8 135.4,90.6 135.2,90.5 135.0,90.4 134.8,90.3 134.6,90.2 134.4,90.1 134.2,89.9 134.0,89.8 133.8,89.6 133.6,89.5 133.4,89.3 133.2,89.1 133.0,88.9 132.8,88.7 132.6,88.6 132.4,88.4 132.2,88.3 132.0,88.2 131.8,88.3 131.6,88.4 131.4,88.7 131.2,89.0 131.0,89.3 130.8,89.6 130.6,89.9 130.4,90.2 130.2,90.4 130.0,90.7 129.8,90.9 129.6,91.2 129.4,91.4 129.2,91.7 129.0,92.0 128.8,92.3 128.6,92.6 128.4,92.9 128.2,93.3 127.9,93.7 127.7,94.1 127.5,94.6 127.3,95.0 127.1,95.5 126.9,96.0 126.7,96.4 126.5,96.9 126.3,97.3 126.1,97.7 125.9,98.1 125.7,98.5 125.5,98.9 125.3,99.2 125.1,99.5 124.9,99.9 124.7,100.2 124.5,100.5 124.3,100.9 124.1,101.2 123.9,101.6 123.7,102.0 123.5,102.4 123.3,102.8 123.1,103.2 122.9,103.6 122.7,104.0 122.5,104.4 122.3,104.7 122.1,105.1 121.9,105.4 121.7,105.7 121.5,105.9 121.3,106.2 121.1,106.4 120.9,106.5 120.7,106.7 120.5,106.8 120.3,107.0 120.1,107.1 119.9,107.2 119.7,107.2 119.5,107.2 119.3,107.2 119.1,107.2 118.9,107.2 118.7,107.1 118.5,107.0 118.3,107.0 118.1,106.9 117.9,106.9 117.7,106.8 117.5,106.8 117.3,106.7 117.1,106.6 116.9,106.5 116.7,106.3 116.5,106.1 116.3,105.9 116.1,105.7 115.8,105.4 115.6,105.1 115.4,104.8 115.2,104.5 115.0,104.2 114.8,103.9 114.6,103.6 114.4,103.3 114.2,103.0 114.0,102.8 113.8,102.5 113.6,102.3 113.4,102.1 113.2,101.9 113.0,101.7 112.8,101.5 112.6,101.2 112.4,101.0 112.2,100.7 112.0,100.4 111.8,100.1 111.6,99.8 111.4,99.5 111.2,99.1 111.0,98.8 110.8,98.5 110.6,98.2 110.4,97.9 110.2,97.6 110.0,97.4 109.8,97.1 109.6,96.9 109.4,96.8 109.2,96.6 109.0,96.5 108.8,96.4 108.6,96.3 108.4,96.2 108.2,96.1 108.0,96.0 107.8,95.8 107.6,95.7 107.4,95.8 107.2,95.8 107.0,95.9 106.8,96.1 106.6,96.2 106.4,96.4 106.2,96.6 106.0,96.9 105.8,97.1 105.6,97.4 105.4,97.7 105.2,98.0 105.0,98.3 104.8,98.6 104.6,98.9 104.4,99.2 104.2,99.5 104.0,99.7 103.7,100.0 103.5,100.2 103.3,100.4 103.1,100.6 102.9,100.8 102.7,101.0 102.5,101.3 102.3,101.5 102.1,101.8 101.9,102.1 101.7,102.4 101.5,102.7 101.3,103.0 101.1,103.3 100.9,103.7 100.7,104.0 100.5,104.3 100.3,104.6 100.1,104.9 99.9,105.2 99.7,105.4 99.5,105.6 99.3,105.8 99.1,105.9 98.9,106.0 98.7,106.1 98.5,106.2 98.3,106.3 98.1,106.4 97.9,106.5 97.7,106.7 97.5,106.8 97.3,106.9 97.1,107.0 96.9,107.2 96.7,107.3 96.5,107.4 96.3,107.5 96.1,107.5 95.9,107.5 95.7,107.5 95.5,107.5 95.3,107.3 95.1,107.2 94.9,107.0 94.7,106.8 94.5,106.6 94.3,106.3 94.1,106.0 93.9,105.7 93.7,105.3 93.5,105.0 93.3,104.6 93.1,104.3 92.9,103.9 92.7,103.5 92.5,103.2 92.3,102.9 92.1,102.5 91.9,102.2 91.6,101.9 91.4,101.6 91.2,101.3 91.0,101.0 90.8,100.7 90.6,100.3 90.4,100.0 90.2,99.6 90.0,99.1 89.8,98.7 89.6,98.3 89.4,97.8 89.2,97.3 89.0,96.8 88.8,96.4 88.6,95.9 88.4,95.5 88.2,95.0 88.0,94.6 87.8,94.3 87.6,93.9 87.4,93.6 87.2,93.3 87.0,93.0 86.8,92.7 86.6,92.4 86.4,92.1 86.2,91.8 86.0,91.5 85.8,91.2 85.6,90.9 85.4,90.5 85.2,90.2 85.0,89.8 84.8,89.5 84.6,89.2 84.4,88.9 84.2,88.6 84.0,88.3 83.8,88.3 83.6,88.4 83.4,88.5 83.2,88.7 83.0,88.8 82.8,89.0 82.6,89.1 82.4,89.2 82.2,89.3 82.0,89.4 81.8,89.5 81.6,89.6 81.4,89.7 81.2,89.8 81.0,89.8 80.8,89.9 80.6,90.1 80.4,90.2 80.2,90.4 80.0,90.6 79.8,90.8 79.5,91.0 79.3,91.3 79.1,91.5 78.9,91.8 78.7,92.1 78.5,92.3 78.3,92.6 78.1,92.8 77.9,93.0 77.7,93.2 77.5,93.3 77.3,93.4 77.1,93.6 76.9,93.7 76.7,93.7 76.5,93.8 76.3,93.9 76.1,94.0 75.9,94.1 75.7,94.3 75.5,94.4 75.3,94.5 75.1,94.7 74.9,94.9 74.7,95.0 74.5,95.2 74.3,95.3 74.1,95.4 73.9,95.5 73.7,95.6 73.5,95.6 73.3,95.6 73.1,95.6 72.9,95.6 72.7,95.6 72.5,95.6 72.3,95.5 72.1,95.5 71.9,95.2 71.7,94.9 71.5,94.6 71.3,94.2 71.1,93.9 70.9,93.5 70.7,93.2 70.5,92.9 70.3,92.6 70.1,92.3 69.9,92.0 69.7,91.7 69.5,91.4 69.3,91.1 69.1,90.8 68.9,90.5 68.7,90.1 68.5,89.8 68.3,89.3 68.1,88.9 67.9,88.5 67.7,88.0 67.4,87.5 67.2,87.0 67.0,86.5 66.8,86.0 66.6,85.5 66.4,85.0 66.2,84.6 66.0,84.1 65.8,83.7 65.6,83.3 65.4,83.0 65.2,82.6 65.0,82.2 64.8,81.9 64.6,81.5 64.4,81.2 64.2,80.8 64.0,80.4 63.8,80.0 63.6,79.6 63.4,79.2 63.2,78.7 63.0,78.3 62.8,77.9 62.6,77.5 62.4,77.1 62.2,76.7 62.0,76.3 61.8,76.0 61.6,75.7 61.4,75.5 61.2,75.2 61.0,75.0 60.8,74.9 60.6,74.7 60.4,74.7 60.2,74.7 60.0,74.7 59.8,74.7 59.6,74.8 59.4,74.8 59.2,74.8 59.0,74.8 58.8,74.9 58.6,75.0 58.4,75.1 58.2,75.3 58.0,75.4 57.8,75.6 57.6,75.9 57.4,76.1 57.2,76.4 57.0,76.6 56.8,76.9 56.6,77.2 56.4,77.4 56.2,77.7 56.0,77.9 55.8,78.1 55.6,78.3 55.3,78.4 55.1,78.6 54.9,78.8 54.7,78.9 54.5,79.1 54.3,79.2 54.1,79.4 53.9,79.6 53.7,79.9 53.5,80.1 53.3,80.3 53.1,80.6 52.9,80.9 52.7,81.1 52.5,81.4 52.3,81.6 52.1,81.9 51.9,82.1 51.7,82.2 51.5,82.4 51.3,82.5 51.1,82.6 50.9,82.7 50.7,82.7 50.5,82.8 50.3,82.8 50.1,82.8 49.9,82.8 49.7,82.9 49.5,82.9 49.3,82.9 49.1,82.9 48.9,82.9 48.7,82.9 48.5,82.9 48.3,82.8 48.1,82.6 47.9,82.5 47.7,82.3 47.5,82.2 47.3,82.0 47.1,81.8 46.9,81.6 46.7,81.4 46.5,81.2 46.3,80.9 46.1,80.6 45.9,80.2 45.7,79.9 45.5,79.5 45.3,79.1 45.1,78.7 44.9,78.4 44.7,78.0 44.5,77.6 44.3,77.3 44.1,76.9 43.9,76.6 43.7,76.3 43.5,76.1 43.2,75.8 43.0,75.5 42.8,75.2 42.6,74.9 42.4,74.6 42.2,74.3 42.0,74.0 41.8,73.6 41.6,73.2 41.4,72.9 41.2,72.5 41.0,72.1 40.8,71.7 40.6,71.3 40.4,71.0 40.2,70.6 40.0,70.3 39.8,70.0 39.6,69.8 39.4,69.5 39.2,69.3 39.0,69.2 38.8,69.0 38.6,68.9 38.4,68.7 38.2,68.6 38.0,68.4 37.8,68.3 37.6,68.1 37.4,67.9 37.2,67.8" fill="#000"/>
<text x="178.14" y="152.70" text-anchor="middle" font-size="13.6" font-weight="bold">imf 1</text>
<rect x="25.95" y="160.85" width="304.38" height="57.95" fill="none" stroke="#1a1a1a" stroke-width="1.15"/>
<line x1="37.20" y1="218.80" x2="37.20" y2="225.55" stroke="#222" stroke-width="1.1"/>
<text x="37.20" y="242.20" text-anchor="middle" font-size="10.9">0.0</text>
<line x1="93.63" y1="218.80" x2="93.63" y2="225.55" stroke="#222" stroke-width="1.1"/>
<text x="93.63" y="242.20" text-anchor="middle" font-size="10.9">0.2</text>
<line x1="150.05" y1="218.80" x2="150.05" y2="225.55" stroke="#222" stroke-width="1.1"/>
<text x="150.05" y="242.20" text-anchor="middle" font-size="10.9">0.4</text>
<line x1="206.48" y1="218.80" x2="206.48" y2="225.55" stroke="#222" stroke-width="1.1"/>
<text x="206.48" y="242.20" text-anchor="middle" font-size="10.9">0.6</text>
<line x1="262.90" y1="218.80" x2="262.90" y2="225.55" stroke="#222" stroke-width="1.1"/>
<text x="262.90" y="242.20" text-anchor="middle" font-size="10.9">0.8</text>
<line x1="319.33" y1="218.80" x2="319.33" y2="225.55" stroke="#222" stroke-width="1.1"/>
<text x="319.33" y="242.20" text-anchor="middle" font-size="10.9">1.0</text>
<line x1="19.20" y1="217.82" x2="25.95" y2="217.82" stroke="#222" stroke-width="1.1"/>
<text x="11.15" y="217.82" transform="rotate(-90 11.15 217.82)" text-anchor="middle" font-size="10.9">−0.4</text>
<line x1="19.20" y1="203.82" x2="25.95" y2="203.82" stroke="#222" stroke-width="1.1"/>
<line x1="19.20" y1="189.82" x2="25.95" y2="189.82" stroke="#222" stroke-width="1.1"/>
<text x="11.15" y="189.82" transform="rotate(-90 11.15 189.82)" text-anchor="middle" font-size="10.9">0.0</text>
<line x1="19.20" y1="175.82" x2="25.95" y2="175.82" stroke="#222" stroke-width="1.1"/>
<line x1="19.20" y1="161.82" x2="25.95" y2="161.82" stroke="#222" stroke-width="1.1"/>
<text x="11.15" y="161.82" transform="rotate(-90 11.15 161.82)" text-anchor="middle" font-size="10.9">0.4</text>
<line x1="25.95" y1="189.82" x2="330.33" y2="189.82" stroke="#000" stroke-width="1.1" stroke-dasharray="4.9 6.016" stroke-dashoffset="1.19"/>
<polygon points="37.2,183.1 37.4,183.0 37.6,182.9 37.8,182.9 38.0,182.9 38.2,182.9 38.4,182.9 38.6,182.9 38.8,183.0 39.0,183.1 39.2,183.2 39.4,183.3 39.6,183.5 39.8,183.6 40.0,183.8 40.2,183.9 40.4,183.9 40.6,183.7 40.8,183.6 41.0,183.4 41.2,183.3 41.4,183.1 41.6,183.0 41.8,183.0 42.0,182.9 42.2,182.9 42.4,182.9 42.6,182.9 42.8,182.9 43.0,182.9 43.2,183.0 43.5,183.1 43.7,183.2 43.9,183.4 44.1,183.5 44.3,183.7 44.5,183.8 44.7,183.9 44.9,183.8 45.1,183.7 45.3,183.6 45.5,183.4 45.7,183.2 45.9,183.1 46.1,183.0 46.3,182.9 46.5,182.9 46.7,182.9 46.9,182.9 47.1,182.9 47.3,182.9 47.5,183.0 47.7,183.0 47.9,183.1 48.1,183.3 48.3,183.4 48.5,183.6 48.7,183.7 48.9,183.9 49.1,183.9 49.3,183.8 49.5,183.7 49.7,183.5 49.9,183.3 50.1,183.2 50.3,183.1 50.5,183.0 50.7,182.9 50.9,182.9 51.1,182.9 51.3,182.9 51.5,182.9 51.7,182.9 51.9,183.0 52.1,183.0 52.3,183.2 52.5,183.3 52.7,183.5 52.9,183.6 53.1,183.8 53.3,183.9 53.5,183.9 53.7,183.8 53.9,183.6 54.1,183.5 54.3,183.3 54.5,183.2 54.7,183.0 54.9,183.0 55.1,182.9 55.3,182.9 55.6,182.9 55.8,182.9 56.0,182.9 56.2,182.9 56.4,183.0 56.6,183.1 56.8,183.2 57.0,183.4 57.2,183.5 57.4,183.7 57.6,183.8 57.8,183.9 58.0,183.9 58.2,183.7 58.4,183.6 58.6,183.4 58.8,183.3 59.0,183.1 59.2,183.0 59.4,183.0 59.6,182.9 59.8,182.9 60.0,182.9 60.2,182.9 60.4,182.9 60.6,182.9 60.8,183.0 61.0,183.1 61.2,183.2 61.4,183.4 61.6,183.6 61.8,183.7 62.0,183.8 62.2,183.9 62.4,183.8 62.6,183.7 62.8,183.5 63.0,183.4 63.2,183.2 63.4,183.1 63.6,183.0 63.8,182.9 64.0,182.9 64.2,182.9 64.4,182.9 64.6,182.9 64.8,182.9 65.0,183.0 65.2,183.0 65.4,183.1 65.6,183.3 65.8,183.4 66.0,183.6 66.2,183.7 66.4,183.9 66.6,183.9 66.8,183.8 67.0,183.6 67.2,183.5 67.4,183.3 67.7,183.2 67.9,183.1 68.1,183.0 68.3,182.9 68.5,182.9 68.7,182.9 68.9,182.9 69.1,182.9 69.3,182.9 69.5,183.0 69.7,183.1 69.9,183.2 70.1,183.3 70.3,183.5 70.5,183.6 70.7,183.8 70.9,183.9 71.1,183.9 71.3,183.8 71.5,183.6 71.7,183.4 71.9,183.3 72.1,183.2 72.3,183.0 72.5,183.0 72.7,182.9 72.9,182.9 73.1,182.9 73.3,182.9 73.5,182.9 73.7,182.9 73.9,183.0 74.1,183.1 74.3,183.2 74.5,183.4 74.7,183.5 74.9,183.7 75.1,183.8 75.3,183.9 75.5,183.8 75.7,183.7 75.9,183.6 76.1,183.4 76.3,183.2 76.5,183.1 76.7,183.0 76.9,182.9 77.1,182.9 77.3,182.9 77.5,182.9 77.7,182.9 77.9,182.9 78.1,182.9 78.3,183.0 78.5,183.1 78.7,183.3 78.9,183.4 79.1,183.6 79.3,183.7 79.5,183.9 79.8,183.9 80.0,183.8 80.2,183.7 80.4,183.5 80.6,183.4 80.8,183.2 81.0,183.1 81.2,183.0 81.4,182.9 81.6,182.9 81.8,182.9 82.0,182.9 82.2,182.9 82.4,182.9 82.6,183.0 82.8,183.0 83.0,183.2 83.2,183.3 83.4,183.5 83.6,183.6 83.8,183.8 84.0,183.9 84.2,183.9 84.4,183.8 84.6,183.6 84.8,183.5 85.0,183.3 85.2,183.2 85.4,183.1 85.6,183.0 85.8,182.9 86.0,182.9 86.2,182.9 86.4,182.9 86.6,182.9 86.8,182.9 87.0,183.0 87.2,183.1 87.4,183.2 87.6,183.3 87.8,183.5 88.0,183.7 88.2,183.8 88.4,183.9 88.6,183.9 88.8,183.7 89.0,183.6 89.2,183.4 89.4,183.3 89.6,183.1 89.8,183.0 90.0,183.0 90.2,182.9 90.4,182.9 90.6,182.9 90.8,182.9 91.0,182.9 91.2,182.9 91.4,183.0 91.6,183.1 91.9,183.2 92.1,183.4 92.3,183.5 92.5,183.7 92.7,183.8 92.9,183.9 93.1,183.8 93.3,183.7 93.5,183.5 93.7,183.4 93.9,183.2 94.1,183.1 94.3,183.0 94.5,182.9 94.7,182.9 94.9,182.9 95.1,182.9 95.3,182.9 95.5,182.9 95.7,183.0 95.9,183.0 96.1,183.1 96.3,183.3 96.5,183.4 96.7,183.6 96.9,183.7 97.1,183.9 97.3,183.9 97.5,183.8 97.7,183.7 97.9,183.5 98.1,183.3 98.3,183.2 98.5,183.1 98.7,183.0 98.9,182.9 99.1,182.9 99.3,182.9 99.5,182.9 99.7,182.9 99.9,182.9 100.1,183.0 100.3,183.1 100.5,183.2 100.7,183.3 100.9,183.5 101.1,183.6 101.3,183.8 101.5,183.9 101.7,183.9 101.9,183.8 102.1,183.6 102.3,183.5 102.5,183.3 102.7,183.2 102.9,183.0 103.1,183.0 103.3,182.9 103.5,182.9 103.7,182.9 104.0,182.9 104.2,182.9 104.4,182.9 104.6,183.0 104.8,183.1 105.0,183.2 105.2,183.4 105.4,183.5 105.6,183.7 105.8,183.8 106.0,183.9 106.2,183.9 106.4,183.7 106.6,183.6 106.8,183.4 107.0,183.3 107.2,183.1 107.4,183.0 107.6,182.9 107.8,182.9 108.0,182.9 108.2,182.9 108.4,182.9 108.6,182.9 108.8,182.9 109.0,183.0 109.2,183.1 109.4,183.2 109.6,183.4 109.8,183.6 110.0,183.7 110.2,183.8 110.4,183.9 110.6,183.8 110.8,183.7 111.0,183.5 111.2,183.4 111.4,183.2 111.6,183.1 111.8,183.0 112.0,182.9 112.2,182.9 112.4,182.9 112.6,182.9 112.8,182.9 113.0,182.9 113.2,183.0 113.4,183.0 113.6,183.1 113.8,183.3 114.0,183.4 114.2,183.6 114.4,183.7 114.6,183.9 114.8,183.9 115.0,183.8 115.2,183.6 115.4,183.5 115.6,183.3 115.8,183.2 116.1,183.1 116.3,183.0 116.5,182.9 116.7,182.9 116.9,182.9 117.1,182.9 117.3,182.9 117.5,182.9 117.7,183.0 117.9,183.1 118.1,183.2 118.3,183.3 118.5,183.5 118.7,183.6 118.9,183.8 119.1,183.9 119.3,183.9 119.5,183.7 119.7,183.6 119.9,183.4 120.1,183.3 120.3,183.1 120.5,183.0 120.7,183.0 120.9,182.9 121.1,182.9 121.3,182.9 121.5,182.9 121.7,182.9 121.9,182.9 122.1,183.0 122.3,183.1 122.5,183.2 122.7,183.4 122.9,183.5 123.1,183.7 123.3,183.8 123.5,183.9 123.7,183.8 123.9,183.7 124.1,183.6 124.3,183.4 124.5,183.2 124.7,183.1 124.9,183.0 125.1,182.9 125.3,182.9 125.5,182.9 125.7,182.9 125.9,182.9 126.1,182.9 126.3,183.0 126.5,183.0 126.7,183.1 126.9,183.3 127.1,183.4 127.3,183.6 127.5,183.7 127.7,183.9 127.9,183.9 128.2,183.8 128.4,183.7 128.6,183.5 128.8,183.4 129.0,183.2 129.2,183.1 129.4,183.0 129.6,182.9 129.8,182.9 130.0,182.9 130.2,182.9 130.4,182.9 130.6,182.9 130.8,183.0 131.0,183.0 131.2,183.2 131.4,183.3 131.6,183.5 131.8,183.6 132.0,183.8 132.2,183.9 132.4,183.9 132.6,183.8 132.8,183.6 133.0,183.5 133.2,183.3 133.4,183.2 133.6,183.1 133.8,183.0 134.0,182.9 134.2,182.9 134.4,182.9 134.6,182.9 134.8,182.9 135.0,182.9 135.2,183.0 135.4,183.1 135.6,183.2 135.8,183.3 136.0,183.5 136.2,183.7 136.4,183.8 136.6,183.9 136.8,183.9 137.0,183.7 137.2,183.6 137.4,183.4 137.6,183.3 137.8,183.1 138.0,183.0 138.2,183.0 138.4,182.9 138.6,182.9 138.8,182.9 139.0,182.9 139.2,182.9 139.4,182.9 139.6,183.0 139.8,183.1 140.0,183.2 140.3,183.4 140.5,183.5 140.7,183.7 140.9,183.8 141.1,183.9 141.3,183.8 141.5,183.7 141.7,183.5 141.9,183.4 142.1,183.2 142.3,183.1 142.5,183.0 142.7,182.9 142.9,182.9 143.1,182.9 143.3,182.9 143.5,182.9 143.7,182.9 143.9,183.0 144.1,183.0 144.3,183.1 144.5,183.3 144.7,183.4 144.9,183.6 145.1,183.7 145.3,183.9 145.5,183.9 145.7,183.8 145.9,183.6 146.1,183.5 146.3,183.3 146.5,183.2 146.7,183.1 146.9,183.0 147.1,182.9 147.3,182.9 147.5,182.9 147.7,182.9 147.9,182.9 148.1,182.9 148.3,183.0 148.5,183.1 148.7,183.2 148.9,183.3 149.1,183.5 149.3,183.6 149.5,183.8 149.7,183.9 149.9,183.9 150.1,183.8 150.3,183.6 150.5,183.5 150.7,183.3 150.9,183.2 151.1,183.0 151.3,183.0 151.5,182.9 151.7,182.9 151.9,182.9 152.1,182.9 152.4,182.9 152.6,182.9 152.8,183.0 153.0,183.1 153.2,183.2 153.4,183.4 153.6,183.5 153.8,183.7 154.0,183.8 154.2,183.9 154.4,183.8 154.6,183.7 154.8,183.6 155.0,183.4 155.2,183.3 155.4,183.1 155.6,183.0 155.8,182.9 156.0,182.9 156.2,182.9 156.4,182.9 156.6,182.9 156.8,182.9 157.0,182.9 157.2,183.0 157.4,183.1 157.6,183.3 157.8,183.4 158.0,183.6 158.2,183.7 158.4,183.8 158.6,183.9 158.8,183.8 159.0,183.7 159.2,183.5 159.4,183.4 159.6,183.2 159.8,183.1 160.0,183.0 160.2,182.9 160.4,182.9 160.6,182.9 160.8,182.9 161.0,182.9 161.2,182.9 161.4,183.0 161.6,183.0 161.8,183.2 162.0,183.3 162.2,183.5 162.4,183.6 162.6,183.8 162.8,183.9 163.0,183.9 163.2,183.8 163.4,183.6 163.6,183.5 163.8,183.3 164.0,183.2 164.2,183.1 164.5,183.0 164.7,182.9 164.9,182.9 165.1,182.9 165.3,182.9 165.5,182.9 165.7,182.9 165.9,183.0 166.1,183.1 166.3,183.2 166.5,183.3 166.7,183.5 166.9,183.7 167.1,183.8 167.3,183.9 167.5,183.9 167.7,183.7 167.9,183.6 168.1,183.4 168.3,183.3 168.5,183.1 168.7,183.0 168.9,183.0 169.1,182.9 169.3,182.9 169.5,182.9 169.7,182.9 169.9,182.9 170.1,182.9 170.3,183.0 170.5,183.1 170.7,183.2 170.9,183.4 171.1,183.5 171.3,183.7 171.5,183.8 171.7,183.9 171.9,183.8 172.1,183.7 172.3,183.5 172.5,183.4 172.7,183.2 172.9,183.1 173.1,183.0 173.3,182.9 173.5,182.9 173.7,182.9 173.9,182.9 174.1,182.9 174.3,182.9 174.5,183.0 174.7,183.0 174.9,183.1 175.1,183.3 175.3,183.4 175.5,183.6 175.7,183.7 175.9,183.9 176.1,183.9 176.3,183.8 176.6,183.7 176.8,183.5 177.0,183.3 177.2,183.2 177.4,183.1 177.6,183.0 177.8,182.9 178.0,182.9 178.2,182.9 178.4,182.9 178.6,182.9 178.8,182.9 179.0,183.0 179.2,183.1 179.4,183.2 179.6,183.3 179.8,183.5 180.0,183.6 180.2,183.8 180.4,183.9 180.6,183.9 180.8,183.8 181.0,183.6 181.2,183.5 181.4,183.3 181.6,183.2 181.8,183.0 182.0,183.0 182.2,182.9 182.4,182.9 182.6,182.9 182.8,182.9 183.0,182.9 183.2,182.9 183.4,183.0 183.6,183.1 183.8,183.2 184.0,183.4 184.2,183.5 184.4,183.7 184.6,183.8 184.8,183.9 185.0,183.9 185.2,183.7 185.4,183.6 185.6,183.4 185.8,183.3 186.0,183.1 186.2,183.0 186.4,183.0 186.6,182.9 186.8,182.9 187.0,182.9 187.2,182.9 187.4,182.9 187.6,182.9 187.8,183.0 188.0,183.1 188.2,183.2 188.4,183.4 188.7,183.6 188.9,183.7 189.1,183.8 189.3,183.9 189.5,183.8 189.7,183.7 189.9,183.5 190.1,183.4 190.3,183.2 190.5,183.1 190.7,183.0 190.9,182.9 191.1,182.9 191.3,182.9 191.5,182.9 191.7,182.9 191.9,182.9 192.1,183.0 192.3,183.0 192.5,183.1 192.7,183.3 192.9,183.4 193.1,183.6 193.3,183.7 193.5,183.9 193.7,183.9 193.9,183.8 194.1,183.6 194.3,183.5 194.5,183.3 194.7,183.2 194.9,183.1 195.1,183.0 195.3,182.9 195.5,182.9 195.7,182.9 195.9,182.9 196.1,182.9 196.3,182.9 196.5,183.0 196.7,183.1 196.9,183.2 197.1,183.3 197.3,183.5 197.5,183.6 197.7,183.8 197.9,183.9 198.1,183.9 198.3,183.7 198.5,183.6 198.7,183.4 198.9,183.3 199.1,183.1 199.3,183.0 199.5,183.0 199.7,182.9 199.9,182.9 200.1,182.9 200.3,182.9 200.5,182.9 200.8,182.9 201.0,183.0 201.2,183.1 201.4,183.2 201.6,183.4 201.8,183.5 202.0,183.7 202.2,183.8 202.4,183.9 202.6,183.8 202.8,183.7 203.0,183.6 203.2,183.4 203.4,183.2 203.6,183.1 203.8,183.0 204.0,182.9 204.2,182.9 204.4,182.9 204.6,182.9 204.8,182.9 205.0,182.9 205.2,182.9 205.4,183.0 205.6,183.1 205.8,183.3 206.0,183.4 206.2,183.6 206.4,183.7 206.6,183.9 206.8,183.9 207.0,183.8 207.2,183.7 207.4,183.5 207.6,183.4 207.8,183.2 208.0,183.1 208.2,183.0 208.4,182.9 208.6,182.9 208.8,182.9 209.0,182.9 209.2,182.9 209.4,182.9 209.6,183.0 209.8,183.0 210.0,183.2 210.2,183.3 210.4,183.5 210.6,183.6 210.8,183.8 211.0,183.9 211.2,183.9 211.4,183.8 211.6,183.6 211.8,183.5 212.0,183.3 212.2,183.2 212.4,183.1 212.6,183.0 212.9,182.9 213.1,182.9 213.3,182.9 213.5,182.9 213.7,182.9 213.9,182.9 214.1,183.0 214.3,183.1 214.5,183.2 214.7,183.3 214.9,183.5 215.1,183.7 215.3,183.8 215.5,183.9 215.7,183.9 215.9,183.7 216.1,183.6 216.3,183.4 216.5,183.3 216.7,183.1 216.9,183.0 217.1,183.0 217.3,182.9 217.5,182.9 217.7,182.9 217.9,182.9 218.1,182.9 218.3,182.9 218.5,183.0 218.7,183.1 218.9,183.2 219.1,183.4 219.3,183.5 219.5,183.7 219.7,183.8 219.9,183.9 220.1,183.8 220.3,183.7 220.5,183.5 220.7,183.4 220.9,183.2 221.1,183.1 221.3,183.0 221.5,182.9 221.7,182.9 221.9,182.9 222.1,182.9 222.3,182.9 222.5,182.9 222.7,183.0 222.9,183.0 223.1,183.1 223.3,183.3 223.5,183.4 223.7,183.6 223.9,183.7 224.1,183.9 224.3,183.9 224.5,183.8 224.7,183.7 225.0,183.5 225.2,183.3 225.4,183.2 225.6,183.1 225.8,183.0 226.0,182.9 226.2,182.9 226.4,182.9 226.6,182.9 226.8,182.9 227.0,182.9 227.2,183.0 227.4,183.1 227.6,183.2 227.8,183.3 228.0,183.5 228.2,183.6 228.4,183.8 228.6,183.9 228.8,183.9 229.0,183.8 229.2,183.6 229.4,183.5 229.6,183.3 229.8,183.2 230.0,183.0 230.2,183.0 230.4,182.9 230.6,182.9 230.8,182.9 231.0,182.9 231.2,182.9 231.4,182.9 231.6,183.0 231.8,183.1 232.0,183.2 232.2,183.4 232.4,183.5 232.6,183.7 232.8,183.8 233.0,183.9 233.2,183.8 233.4,183.7 233.6,183.6 233.8,183.4 234.0,183.3 234.2,183.1 234.4,183.0 234.6,182.9 234.8,182.9 235.0,182.9 235.2,182.9 235.4,182.9 235.6,182.9 235.8,182.9 236.0,183.0 236.2,183.1 236.4,183.3 236.6,183.4 236.8,183.6 237.1,183.7 237.3,183.8 237.5,183.9 237.7,183.8 237.9,183.7 238.1,183.5 238.3,183.4 238.5,183.2 238.7,183.1 238.9,183.0 239.1,182.9 239.3,182.9 239.5,182.9 239.7,182.9 239.9,182.9 240.1,182.9 240.3,183.0 240.5,183.0 240.7,183.2 240.9,183.3 241.1,183.4 241.3,183.6 241.5,183.8 241.7,183.9 241.9,183.9 242.1,183.8 242.3,183.6 242.5,183.5 242.7,183.3 242.9,183.2 243.1,183.1 243.3,183.0 243.5,182.9 243.7,182.9 243.9,182.9 244.1,182.9 244.3,182.9 244.5,182.9 244.7,183.0 244.9,183.1 245.1,183.2 245.3,183.3 245.5,183.5 245.7,183.6 245.9,183.8 246.1,183.9 246.3,183.9 246.5,183.7 246.7,183.6 246.9,183.4 247.1,183.3 247.3,183.1 247.5,183.0 247.7,183.0 247.9,182.9 248.1,182.9 248.3,182.9 248.5,182.9 248.7,182.9 248.9,182.9 249.2,183.0 249.4,183.1 249.6,183.2 249.8,183.4 250.0,183.5 250.2,183.7 250.4,183.8 250.6,183.9 250.8,183.8 251.0,183.7 251.2,183.6 251.4,183.4 251.6,183.2 251.8,183.1 252.0,183.0 252.2,182.9 252.4,182.9 252.6,182.9 252.8,182.9 253.0,182.9 253.2,182.9 253.4,183.0 253.6,183.0 253.8,183.1 254.0,183.3 254.2,183.4 254.4,183.6 254.6,183.7 254.8,183.9 255.0,183.9 255.2,183.8 255.4,183.7 255.6,183.5 255.8,183.4 256.0,183.2 256.2,183.1 256.4,183.0 256.6,182.9 256.8,182.9 257.0,182.9 257.2,182.9 257.4,182.9 257.6,182.9 257.8,183.0 258.0,183.0 258.2,183.2 258.4,183.3 258.6,183.5 258.8,183.6 259.0,183.8 259.2,183.9 259.4,183.9 259.6,183.8 259.8,183.6 260.0,183.5 260.2,183.3 260.4,183.2 260.6,183.0 260.8,183.0 261.0,182.9 261.3,182.9 261.5,182.9 261.7,182.9 261.9,182.9 262.1,182.9 262.3,183.0 262.5,183.1 262.7,183.2 262.9,183.3 263.1,183.5 263.3,183.7 263.5,183.8 263.7,183.9 263.9,183.9 264.1,183.7 264.3,183.6 264.5,183.4 264.7,183.3 264.9,183.1 265.1,183.0 265.3,183.0 265.5,182.9 265.7,182.9 265.9,182.9 266.1,182.9 266.3,182.9 266.5,182.9 266.7,183.0 266.9,183.1 267.1,183.2 267.3,183.4 267.5,183.6 267.7,183.7 267.9,183.8 268.1,183.9 268.3,183.8 268.5,183.7 268.7,183.5 268.9,183.4 269.1,183.2 269.3,183.1 269.5,183.0 269.7,182.9 269.9,182.9 270.1,182.9 270.3,182.9 270.5,182.9 270.7,182.9 270.9,183.0 271.1,183.0 271.3,183.1 271.5,183.3 271.7,183.4 271.9,183.6 272.1,183.7 272.3,183.9 272.5,183.9 272.7,183.8 272.9,183.6 273.1,183.5 273.4,183.3 273.6,183.2 273.8,183.1 274.0,183.0 274.2,182.9 274.4,182.9 274.6,182.9 274.8,182.9 275.0,182.9 275.2,182.9 275.4,183.0 275.6,183.1 275.8,183.2 276.0,183.3 276.2,183.5 276.4,183.6 276.6,183.8 276.8,183.9 277.0,183.9 277.2,183.8 277.4,183.6 277.6,183.4 277.8,183.3 278.0,183.2 278.2,183.0 278.4,183.0 278.6,182.9 278.8,182.9 279.0,182.9 279.2,182.9 279.4,182.9 279.6,182.9 279.8,183.0 280.0,183.1 280.2,183.2 280.4,183.4 280.6,183.5 280.8,183.7 281.0,183.8 281.2,183.9 281.4,183.8 281.6,183.7 281.8,183.6 282.0,183.4 282.2,183.3 282.4,183.1 282.6,183.0 282.8,182.9 283.0,182.9 283.2,182.9 283.4,182.9 283.6,182.9 283.8,182.9 284.0,182.9 284.2,183.0 284.4,183.1 284.6,183.3 284.8,183.4 285.0,183.6 285.2,183.7 285.5,183.8 285.7,183.9 285.9,183.8 286.1,183.7 286.3,183.5 286.5,183.4 286.7,183.2 286.9,183.1 287.1,183.0 287.3,182.9 287.5,182.9 287.7,182.9 287.9,182.9 288.1,182.9 288.3,182.9 288.5,183.0 288.7,183.0 288.9,183.2 289.1,183.3 289.3,183.5 289.5,183.6 289.7,183.8 289.9,183.9 290.1,183.9 290.3,183.8 290.5,183.6 290.7,183.5 290.9,183.3 291.1,183.2 291.3,183.1 291.5,183.0 291.7,182.9 291.9,182.9 292.1,182.9 292.3,182.9 292.5,182.9 292.7,182.9 292.9,183.0 293.1,183.1 293.3,183.2 293.5,183.3 293.7,183.5 293.9,183.7 294.1,183.8 294.3,183.9 294.5,183.9 294.7,183.7 294.9,183.6 295.1,183.4 295.3,183.3 295.5,183.1 295.7,183.0 295.9,183.0 296.1,182.9 296.3,182.9 296.5,182.9 296.7,182.9 296.9,182.9 297.1,182.9 297.3,183.0 297.6,183.1 297.8,183.2 298.0,183.4 298.2,183.5 298.4,183.7 298.6,183.8 298.8,183.9 299.0,183.8 299.2,183.7 299.4,183.5 299.6,183.4 299.8,183.2 300.0,183.1 300.2,183.0 300.4,182.9 300.6,182.9 300.8,182.9 301.0,182.9 301.2,182.9 301.4,182.9 301.6,183.0 301.8,183.0 302.0,183.1 302.2,183.3 302.4,183.4 302.6,183.6 302.8,183.7 303.0,183.9 303.2,183.9 303.4,183.8 303.6,183.7 303.8,183.5 304.0,183.3 304.2,183.2 304.4,183.1 304.6,183.0 304.8,182.9 305.0,182.9 305.2,182.9 305.4,182.9 305.6,182.9 305.8,182.9 306.0,183.0 306.2,183.1 306.4,183.2 306.6,183.3 306.8,183.5 307.0,183.6 307.2,183.8 307.4,183.9 307.6,183.9 307.8,183.8 308.0,183.6 308.2,183.5 308.4,183.3 308.6,183.2 308.8,183.0 309.0,183.0 309.2,182.9 309.4,182.9 309.7,182.9 309.9,182.9 310.1,182.9 310.3,182.9 310.5,183.0 310.7,183.1 310.9,183.2 311.1,183.4 311.3,183.5 311.5,183.7 311.7,183.8 311.9,183.9 312.1,183.9 312.3,183.7 312.5,183.6 312.7,183.4 312.9,183.3 313.1,183.1 313.3,183.0 313.5,183.0 313.7,182.9 313.9,182.9 314.1,182.9 314.3,182.9 314.5,182.9 314.7,182.9 314.9,183.0 315.1,183.1 315.3,183.2 315.5,183.4 315.7,183.6 315.9,183.7 316.1,183.8 316.3,183.9 316.5,183.8 316.7,183.7 316.9,183.5 317.1,183.4 317.3,183.2 317.5,183.1 317.7,183.0 317.9,182.9 318.1,182.9 318.3,182.9 318.5,182.9 318.7,182.9 318.9,182.9 319.1,183.0 319.3,183.0 319.3,196.6 319.1,196.7 318.9,196.7 318.7,196.7 318.5,196.7 318.3,196.7 318.1,196.7 317.9,196.7 317.7,196.7 317.5,196.6 317.3,196.4 317.1,196.3 316.9,196.1 316.7,196.0 316.5,195.8 316.3,195.7 316.1,195.8 315.9,195.9 315.7,196.1 315.5,196.3 315.3,196.4 315.1,196.5 314.9,196.6 314.7,196.7 314.5,196.7 314.3,196.7 314.1,196.7 313.9,196.7 313.7,196.7 313.5,196.7 313.3,196.6 313.1,196.5 312.9,196.4 312.7,196.2 312.5,196.1 312.3,195.9 312.1,195.8 311.9,195.7 311.7,195.8 311.5,196.0 311.3,196.1 311.1,196.3 310.9,196.4 310.7,196.6 310.5,196.7 310.3,196.7 310.1,196.7 309.9,196.7 309.7,196.7 309.4,196.7 309.2,196.7 309.0,196.7 308.8,196.6 308.6,196.5 308.4,196.3 308.2,196.2 308.0,196.0 307.8,195.9 307.6,195.8 307.4,195.8 307.2,195.9 307.0,196.0 306.8,196.2 306.6,196.3 306.4,196.5 306.2,196.6 306.0,196.7 305.8,196.7 305.6,196.7 305.4,196.7 305.2,196.7 305.0,196.7 304.8,196.7 304.6,196.7 304.4,196.6 304.2,196.5 304.0,196.3 303.8,196.1 303.6,196.0 303.4,195.9 303.2,195.7 303.0,195.8 302.8,195.9 302.6,196.1 302.4,196.2 302.2,196.4 302.0,196.5 301.8,196.6 301.6,196.7 301.4,196.7 301.2,196.7 301.0,196.7 300.8,196.7 300.6,196.7 300.4,196.7 300.2,196.6 300.0,196.5 299.8,196.4 299.6,196.3 299.4,196.1 299.2,196.0 299.0,195.8 298.8,195.7 298.6,195.8 298.4,196.0 298.2,196.1 298.0,196.3 297.8,196.4 297.6,196.5 297.3,196.6 297.1,196.7 296.9,196.7 296.7,196.7 296.5,196.7 296.3,196.7 296.1,196.7 295.9,196.7 295.7,196.6 295.5,196.5 295.3,196.4 295.1,196.2 294.9,196.1 294.7,195.9 294.5,195.8 294.3,195.7 294.1,195.9 293.9,196.0 293.7,196.2 293.5,196.3 293.3,196.5 293.1,196.6 292.9,196.7 292.7,196.7 292.5,196.7 292.3,196.7 292.1,196.7 291.9,196.7 291.7,196.7 291.5,196.7 291.3,196.6 291.1,196.5 290.9,196.3 290.7,196.2 290.5,196.0 290.3,195.9 290.1,195.8 289.9,195.8 289.7,195.9 289.5,196.0 289.3,196.2 289.1,196.4 288.9,196.5 288.7,196.6 288.5,196.7 288.3,196.7 288.1,196.7 287.9,196.7 287.7,196.7 287.5,196.7 287.3,196.7 287.1,196.7 286.9,196.6 286.7,196.4 286.5,196.3 286.3,196.1 286.1,196.0 285.9,195.8 285.7,195.7 285.5,195.8 285.2,195.9 285.0,196.1 284.8,196.2 284.6,196.4 284.4,196.5 284.2,196.6 284.0,196.7 283.8,196.7 283.6,196.7 283.4,196.7 283.2,196.7 283.0,196.7 282.8,196.7 282.6,196.6 282.4,196.5 282.2,196.4 282.0,196.2 281.8,196.1 281.6,195.9 281.4,195.8 281.2,195.7 281.0,195.8 280.8,196.0 280.6,196.1 280.4,196.3 280.2,196.4 280.0,196.6 279.8,196.7 279.6,196.7 279.4,196.7 279.2,196.7 279.0,196.7 278.8,196.7 278.6,196.7 278.4,196.7 278.2,196.6 278.0,196.5 277.8,196.4 277.6,196.2 277.4,196.0 277.2,195.9 277.0,195.8 276.8,195.8 276.6,195.9 276.4,196.0 276.2,196.2 276.0,196.3 275.8,196.5 275.6,196.6 275.4,196.7 275.2,196.7 275.0,196.7 274.8,196.7 274.6,196.7 274.4,196.7 274.2,196.7 274.0,196.7 273.8,196.6 273.6,196.5 273.4,196.3 273.1,196.2 272.9,196.0 272.7,195.9 272.5,195.7 272.3,195.8 272.1,195.9 271.9,196.1 271.7,196.2 271.5,196.4 271.3,196.5 271.1,196.6 270.9,196.7 270.7,196.7 270.5,196.7 270.3,196.7 270.1,196.7 269.9,196.7 269.7,196.7 269.5,196.7 269.3,196.6 269.1,196.4 268.9,196.3 268.7,196.1 268.5,196.0 268.3,195.8 268.1,195.7 267.9,195.8 267.7,195.9 267.5,196.1 267.3,196.3 267.1,196.4 266.9,196.5 266.7,196.6 266.5,196.7 266.3,196.7 266.1,196.7 265.9,196.7 265.7,196.7 265.5,196.7 265.3,196.7 265.1,196.6 264.9,196.5 264.7,196.4 264.5,196.2 264.3,196.1 264.1,195.9 263.9,195.8 263.7,195.7 263.5,195.8 263.3,196.0 263.1,196.1 262.9,196.3 262.7,196.4 262.5,196.6 262.3,196.7 262.1,196.7 261.9,196.7 261.7,196.7 261.5,196.7 261.3,196.7 261.0,196.7 260.8,196.7 260.6,196.6 260.4,196.5 260.2,196.3 260.0,196.2 259.8,196.0 259.6,195.9 259.4,195.8 259.2,195.8 259.0,195.9 258.8,196.0 258.6,196.2 258.4,196.3 258.2,196.5 258.0,196.6 257.8,196.7 257.6,196.7 257.4,196.7 257.2,196.7 257.0,196.7 256.8,196.7 256.6,196.7 256.4,196.7 256.2,196.6 256.0,196.4 255.8,196.3 255.6,196.1 255.4,196.0 255.2,195.8 255.0,195.7 254.8,195.8 254.6,195.9 254.4,196.1 254.2,196.2 254.0,196.4 253.8,196.5 253.6,196.6 253.4,196.7 253.2,196.7 253.0,196.7 252.8,196.7 252.6,196.7 252.4,196.7 252.2,196.7 252.0,196.6 251.8,196.5 251.6,196.4 251.4,196.3 251.2,196.1 251.0,195.9 250.8,195.8 250.6,195.7 250.4,195.8 250.2,196.0 250.0,196.1 249.8,196.3 249.6,196.4 249.4,196.6 249.2,196.7 248.9,196.7 248.7,196.7 248.5,196.7 248.3,196.7 248.1,196.7 247.9,196.7 247.7,196.7 247.5,196.6 247.3,196.5 247.1,196.4 246.9,196.2 246.7,196.1 246.5,195.9 246.3,195.8 246.1,195.7 245.9,195.9 245.7,196.0 245.5,196.2 245.3,196.3 245.1,196.5 244.9,196.6 244.7,196.7 244.5,196.7 244.3,196.7 244.1,196.7 243.9,196.7 243.7,196.7 243.5,196.7 243.3,196.7 243.1,196.6 242.9,196.5 242.7,196.3 242.5,196.2 242.3,196.0 242.1,195.9 241.9,195.8 241.7,195.8 241.5,195.9 241.3,196.0 241.1,196.2 240.9,196.4 240.7,196.5 240.5,196.6 240.3,196.7 240.1,196.7 239.9,196.7 239.7,196.7 239.5,196.7 239.3,196.7 239.1,196.7 238.9,196.7 238.7,196.6 238.5,196.4 238.3,196.3 238.1,196.1 237.9,196.0 237.7,195.8 237.5,195.7 237.3,195.8 237.1,195.9 236.8,196.1 236.6,196.2 236.4,196.4 236.2,196.5 236.0,196.6 235.8,196.7 235.6,196.7 235.4,196.7 235.2,196.7 235.0,196.7 234.8,196.7 234.6,196.7 234.4,196.6 234.2,196.5 234.0,196.4 233.8,196.2 233.6,196.1 233.4,195.9 233.2,195.8 233.0,195.7 232.8,195.8 232.6,196.0 232.4,196.1 232.2,196.3 232.0,196.4 231.8,196.6 231.6,196.7 231.4,196.7 231.2,196.7 231.0,196.7 230.8,196.7 230.6,196.7 230.4,196.7 230.2,196.7 230.0,196.6 229.8,196.5 229.6,196.4 229.4,196.2 229.2,196.0 229.0,195.9 228.8,195.8 228.6,195.8 228.4,195.9 228.2,196.0 228.0,196.2 227.8,196.3 227.6,196.5 227.4,196.6 227.2,196.7 227.0,196.7 226.8,196.7 226.6,196.7 226.4,196.7 226.2,196.7 226.0,196.7 225.8,196.7 225.6,196.6 225.4,196.5 225.2,196.3 225.0,196.2 224.7,196.0 224.5,195.9 224.3,195.7 224.1,195.8 223.9,195.9 223.7,196.1 223.5,196.2 223.3,196.4 223.1,196.5 222.9,196.6 222.7,196.7 222.5,196.7 222.3,196.7 222.1,196.7 221.9,196.7 221.7,196.7 221.5,196.7 221.3,196.6 221.1,196.5 220.9,196.4 220.7,196.3 220.5,196.1 220.3,196.0 220.1,195.8 219.9,195.7 219.7,195.8 219.5,196.0 219.3,196.1 219.1,196.3 218.9,196.4 218.7,196.5 218.5,196.6 218.3,196.7 218.1,196.7 217.9,196.7 217.7,196.7 217.5,196.7 217.3,196.7 217.1,196.7 216.9,196.6 216.7,196.5 216.5,196.4 216.3,196.2 216.1,196.1 215.9,195.9 215.7,195.8 215.5,195.7 215.3,195.9 215.1,196.0 214.9,196.1 214.7,196.3 214.5,196.5 214.3,196.6 214.1,196.7 213.9,196.7 213.7,196.7 213.5,196.7 213.3,196.7 213.1,196.7 212.9,196.7 212.6,196.7 212.4,196.6 212.2,196.5 212.0,196.3 211.8,196.2 211.6,196.0 211.4,195.9 211.2,195.8 211.0,195.8 210.8,195.9 210.6,196.0 210.4,196.2 210.2,196.3 210.0,196.5 209.8,196.6 209.6,196.7 209.4,196.7 209.2,196.7 209.0,196.7 208.8,196.7 208.6,196.7 208.4,196.7 208.2,196.7 208.0,196.6 207.8,196.4 207.6,196.3 207.4,196.1 207.2,196.0 207.0,195.8 206.8,195.7 206.6,195.8 206.4,195.9 206.2,196.1 206.0,196.2 205.8,196.4 205.6,196.5 205.4,196.6 205.2,196.7 205.0,196.7 204.8,196.7 204.6,196.7 204.4,196.7 204.2,196.7 204.0,196.7 203.8,196.6 203.6,196.5 203.4,196.4 203.2,196.3 203.0,196.1 202.8,195.9 202.6,195.8 202.4,195.7 202.2,195.8 202.0,196.0 201.8,196.1 201.6,196.3 201.4,196.4 201.2,196.6 201.0,196.7 200.8,196.7 200.5,196.7 200.3,196.7 200.1,196.7 199.9,196.7 199.7,196.7 199.5,196.7 199.3,196.6 199.1,196.5 198.9,196.4 198.7,196.2 198.5,196.0 198.3,195.9 198.1,195.8 197.9,195.7 197.7,195.9 197.5,196.0 197.3,196.2 197.1,196.3 196.9,196.5 196.7,196.6 196.5,196.7 196.3,196.7 196.1,196.7 195.9,196.7 195.7,196.7 195.5,196.7 195.3,196.7 195.1,196.7 194.9,196.6 194.7,196.5 194.5,196.3 194.3,196.2 194.1,196.0 193.9,195.9 193.7,195.7 193.5,195.8 193.3,195.9 193.1,196.1 192.9,196.2 192.7,196.4 192.5,196.5 192.3,196.6 192.1,196.7 191.9,196.7 191.7,196.7 191.5,196.7 191.3,196.7 191.1,196.7 190.9,196.7 190.7,196.7 190.5,196.6 190.3,196.4 190.1,196.3 189.9,196.1 189.7,196.0 189.5,195.8 189.3,195.7 189.1,195.8 188.9,195.9 188.7,196.1 188.4,196.3 188.2,196.4 188.0,196.5 187.8,196.6 187.6,196.7 187.4,196.7 187.2,196.7 187.0,196.7 186.8,196.7 186.6,196.7 186.4,196.7 186.2,196.6 186.0,196.5 185.8,196.4 185.6,196.2 185.4,196.1 185.2,195.9 185.0,195.8 184.8,195.7 184.6,195.8 184.4,196.0 184.2,196.1 184.0,196.3 183.8,196.4 183.6,196.6 183.4,196.7 183.2,196.7 183.0,196.7 182.8,196.7 182.6,196.7 182.4,196.7 182.2,196.7 182.0,196.7 181.8,196.6 181.6,196.5 181.4,196.3 181.2,196.2 181.0,196.0 180.8,195.9 180.6,195.8 180.4,195.8 180.2,195.9 180.0,196.0 179.8,196.2 179.6,196.3 179.4,196.5 179.2,196.6 179.0,196.7 178.8,196.7 178.6,196.7 178.4,196.7 178.2,196.7 178.0,196.7 177.8,196.7 177.6,196.7 177.4,196.6 177.2,196.5 177.0,196.3 176.8,196.1 176.6,196.0 176.3,195.9 176.1,195.7 175.9,195.8 175.7,195.9 175.5,196.1 175.3,196.2 175.1,196.4 174.9,196.5 174.7,196.6 174.5,196.7 174.3,196.7 174.1,196.7 173.9,196.7 173.7,196.7 173.5,196.7 173.3,196.7 173.1,196.6 172.9,196.5 172.7,196.4 172.5,196.3 172.3,196.1 172.1,195.9 171.9,195.8 171.7,195.7 171.5,195.8 171.3,196.0 171.1,196.1 170.9,196.3 170.7,196.4 170.5,196.6 170.3,196.6 170.1,196.7 169.9,196.7 169.7,196.7 169.5,196.7 169.3,196.7 169.1,196.7 168.9,196.7 168.7,196.6 168.5,196.5 168.3,196.4 168.1,196.2 167.9,196.1 167.7,195.9 167.5,195.8 167.3,195.7 167.1,195.9 166.9,196.0 166.7,196.2 166.5,196.3 166.3,196.5 166.1,196.6 165.9,196.7 165.7,196.7 165.5,196.7 165.3,196.7 165.1,196.7 164.9,196.7 164.7,196.7 164.5,196.7 164.2,196.6 164.0,196.5 163.8,196.3 163.6,196.2 163.4,196.0 163.2,195.9 163.0,195.8 162.8,195.8 162.6,195.9 162.4,196.0 162.2,196.2 162.0,196.4 161.8,196.5 161.6,196.6 161.4,196.7 161.2,196.7 161.0,196.7 160.8,196.7 160.6,196.7 160.4,196.7 160.2,196.7 160.0,196.7 159.8,196.6 159.6,196.4 159.4,196.3 159.2,196.1 159.0,196.0 158.8,195.8 158.6,195.7 158.4,195.8 158.2,195.9 158.0,196.1 157.8,196.2 157.6,196.4 157.4,196.5 157.2,196.6 157.0,196.7 156.8,196.7 156.6,196.7 156.4,196.7 156.2,196.7 156.0,196.7 155.8,196.7 155.6,196.6 155.4,196.5 155.2,196.4 155.0,196.2 154.8,196.1 154.6,195.9 154.4,195.8 154.2,195.7 154.0,195.8 153.8,196.0 153.6,196.1 153.4,196.3 153.2,196.4 153.0,196.6 152.8,196.7 152.6,196.7 152.4,196.7 152.1,196.7 151.9,196.7 151.7,196.7 151.5,196.7 151.3,196.7 151.1,196.6 150.9,196.5 150.7,196.4 150.5,196.2 150.3,196.0 150.1,195.9 149.9,195.8 149.7,195.8 149.5,195.9 149.3,196.0 149.1,196.2 148.9,196.3 148.7,196.5 148.5,196.6 148.3,196.7 148.1,196.7 147.9,196.7 147.7,196.7 147.5,196.7 147.3,196.7 147.1,196.7 146.9,196.7 146.7,196.6 146.5,196.5 146.3,196.3 146.1,196.2 145.9,196.0 145.7,195.9 145.5,195.7 145.3,195.8 145.1,195.9 144.9,196.1 144.7,196.2 144.5,196.4 144.3,196.5 144.1,196.6 143.9,196.7 143.7,196.7 143.5,196.7 143.3,196.7 143.1,196.7 142.9,196.7 142.7,196.7 142.5,196.7 142.3,196.6 142.1,196.4 141.9,196.3 141.7,196.1 141.5,196.0 141.3,195.8 141.1,195.7 140.9,195.8 140.7,195.9 140.5,196.1 140.3,196.3 140.0,196.4 139.8,196.5 139.6,196.6 139.4,196.7 139.2,196.7 139.0,196.7 138.8,196.7 138.6,196.7 138.4,196.7 138.2,196.7 138.0,196.6 137.8,196.5 137.6,196.4 137.4,196.2 137.2,196.1 137.0,195.9 136.8,195.8 136.6,195.7 136.4,195.8 136.2,196.0 136.0,196.1 135.8,196.3 135.6,196.4 135.4,196.6 135.2,196.7 135.0,196.7 134.8,196.7 134.6,196.7 134.4,196.7 134.2,196.7 134.0,196.7 133.8,196.7 133.6,196.6 133.4,196.5 133.2,196.3 133.0,196.2 132.8,196.0 132.6,195.9 132.4,195.8 132.2,195.8 132.0,195.9 131.8,196.0 131.6,196.2 131.4,196.3 131.2,196.5 131.0,196.6 130.8,196.7 130.6,196.7 130.4,196.7 130.2,196.7 130.0,196.7 129.8,196.7 129.6,196.7 129.4,196.7 129.2,196.6 129.0,196.4 128.8,196.3 128.6,196.1 128.4,196.0 128.2,195.8 127.9,195.7 127.7,195.8 127.5,195.9 127.3,196.1 127.1,196.2 126.9,196.4 126.7,196.5 126.5,196.6 126.3,196.7 126.1,196.7 125.9,196.7 125.7,196.7 125.5,196.7 125.3,196.7 125.1,196.7 124.9,196.6 124.7,196.5 124.5,196.4 124.3,196.3 124.1,196.1 123.9,195.9 123.7,195.8 123.5,195.7 123.3,195.8 123.1,196.0 122.9,196.1 122.7,196.3 122.5,196.4 122.3,196.6 122.1,196.7 121.9,196.7 121.7,196.7 121.5,196.7 121.3,196.7 121.1,196.7 120.9,196.7 120.7,196.7 120.5,196.6 120.3,196.5 120.1,196.4 119.9,196.2 119.7,196.1 119.5,195.9 119.3,195.8 119.1,195.7 118.9,195.9 118.7,196.0 118.5,196.2 118.3,196.3 118.1,196.5 117.9,196.6 117.7,196.7 117.5,196.7 117.3,196.7 117.1,196.7 116.9,196.7 116.7,196.7 116.5,196.7 116.3,196.7 116.1,196.6 115.8,196.5 115.6,196.3 115.4,196.2 115.2,196.0 115.0,195.9 114.8,195.7 114.6,195.8 114.4,195.9 114.2,196.0 114.0,196.2 113.8,196.4 113.6,196.5 113.4,196.6 113.2,196.7 113.0,196.7 112.8,196.7 112.6,196.7 112.4,196.7 112.2,196.7 112.0,196.7 111.8,196.7 111.6,196.6 111.4,196.4 111.2,196.3 111.0,196.1 110.8,196.0 110.6,195.8 110.4,195.7 110.2,195.8 110.0,195.9 109.8,196.1 109.6,196.2 109.4,196.4 109.2,196.5 109.0,196.6 108.8,196.7 108.6,196.7 108.4,196.7 108.2,196.7 108.0,196.7 107.8,196.7 107.6,196.7 107.4,196.6 107.2,196.5 107.0,196.4 106.8,196.2 106.6,196.1 106.4,195.9 106.2,195.8 106.0,195.7 105.8,195.8 105.6,196.0 105.4,196.1 105.2,196.3 105.0,196.4 104.8,196.6 104.6,196.7 104.4,196.7 104.2,196.7 104.0,196.7 103.7,196.7 103.5,196.7 103.3,196.7 103.1,196.7 102.9,196.6 102.7,196.5 102.5,196.3 102.3,196.2 102.1,196.0 101.9,195.9 101.7,195.8 101.5,195.8 101.3,195.9 101.1,196.0 100.9,196.2 100.7,196.3 100.5,196.5 100.3,196.6 100.1,196.7 99.9,196.7 99.7,196.7 99.5,196.7 99.3,196.7 99.1,196.7 98.9,196.7 98.7,196.7 98.5,196.6 98.3,196.5 98.1,196.3 97.9,196.1 97.7,196.0 97.5,195.9 97.3,195.7 97.1,195.8 96.9,195.9 96.7,196.1 96.5,196.2 96.3,196.4 96.1,196.5 95.9,196.6 95.7,196.7 95.5,196.7 95.3,196.7 95.1,196.7 94.9,196.7 94.7,196.7 94.5,196.7 94.3,196.6 94.1,196.5 93.9,196.4 93.7,196.3 93.5,196.1 93.3,196.0 93.1,195.8 92.9,195.7 92.7,195.8 92.5,196.0 92.3,196.1 92.1,196.3 91.9,196.4 91.6,196.5 91.4,196.6 91.2,196.7 91.0,196.7 90.8,196.7 90.6,196.7 90.4,196.7 90.2,196.7 90.0,196.7 89.8,196.6 89.6,196.5 89.4,196.4 89.2,196.2 89.0,196.1 88.8,195.9 88.6,195.8 88.4,195.7 88.2,195.9 88.0,196.0 87.8,196.2 87.6,196.3 87.4,196.5 87.2,196.6 87.0,196.7 86.8,196.7 86.6,196.7 86.4,196.7 86.2,196.7 86.0,196.7 85.8,196.7 85.6,196.7 85.4,196.6 85.2,196.5 85.0,196.3 84.8,196.2 84.6,196.0 84.4,195.9 84.2,195.8 84.0,195.8 83.8,195.9 83.6,196.0 83.4,196.2 83.2,196.4 83.0,196.5 82.8,196.6 82.6,196.7 82.4,196.7 82.2,196.7 82.0,196.7 81.8,196.7 81.6,196.7 81.4,196.7 81.2,196.7 81.0,196.6 80.8,196.4 80.6,196.3 80.4,196.1 80.2,196.0 80.0,195.8 79.8,195.7 79.5,195.8 79.3,195.9 79.1,196.1 78.9,196.2 78.7,196.4 78.5,196.5 78.3,196.6 78.1,196.7 77.9,196.7 77.7,196.7 77.5,196.7 77.3,196.7 77.1,196.7 76.9,196.7 76.7,196.6 76.5,196.5 76.3,196.4 76.1,196.2 75.9,196.1 75.7,195.9 75.5,195.8 75.3,195.7 75.1,195.8 74.9,196.0 74.7,196.1 74.5,196.3 74.3,196.4 74.1,196.6 73.9,196.7 73.7,196.7 73.5,196.7 73.3,196.7 73.1,196.7 72.9,196.7 72.7,196.7 72.5,196.7 72.3,196.6 72.1,196.5 71.9,196.4 71.7,196.2 71.5,196.0 71.3,195.9 71.1,195.8 70.9,195.8 70.7,195.9 70.5,196.0 70.3,196.2 70.1,196.3 69.9,196.5 69.7,196.6 69.5,196.7 69.3,196.7 69.1,196.7 68.9,196.7 68.7,196.7 68.5,196.7 68.3,196.7 68.1,196.7 67.9,196.6 67.7,196.5 67.4,196.3 67.2,196.2 67.0,196.0 66.8,195.9 66.6,195.7 66.4,195.8 66.2,195.9 66.0,196.1 65.8,196.2 65.6,196.4 65.4,196.5 65.2,196.6 65.0,196.7 64.8,196.7 64.6,196.7 64.4,196.7 64.2,196.7 64.0,196.7 63.8,196.7 63.6,196.7 63.4,196.6 63.2,196.4 63.0,196.3 62.8,196.1 62.6,196.0 62.4,195.8 62.2,195.7 62.0,195.8 61.8,195.9 61.6,196.1 61.4,196.3 61.2,196.4 61.0,196.5 60.8,196.6 60.6,196.7 60.4,196.7 60.2,196.7 60.0,196.7 59.8,196.7 59.6,196.7 59.4,196.7 59.2,196.6 59.0,196.5 58.8,196.4 58.6,196.2 58.4,196.1 58.2,195.9 58.0,195.8 57.8,195.7 57.6,195.8 57.4,196.0 57.2,196.1 57.0,196.3 56.8,196.4 56.6,196.6 56.4,196.7 56.2,196.7 56.0,196.7 55.8,196.7 55.6,196.7 55.3,196.7 55.1,196.7 54.9,196.7 54.7,196.6 54.5,196.5 54.3,196.3 54.1,196.2 53.9,196.0 53.7,195.9 53.5,195.8 53.3,195.8 53.1,195.9 52.9,196.0 52.7,196.2 52.5,196.3 52.3,196.5 52.1,196.6 51.9,196.7 51.7,196.7 51.5,196.7 51.3,196.7 51.1,196.7 50.9,196.7 50.7,196.7 50.5,196.7 50.3,196.6 50.1,196.4 49.9,196.3 49.7,196.1 49.5,196.0 49.3,195.8 49.1,195.7 48.9,195.8 48.7,195.9 48.5,196.1 48.3,196.2 48.1,196.4 47.9,196.5 47.7,196.6 47.5,196.7 47.3,196.7 47.1,196.7 46.9,196.7 46.7,196.7 46.5,196.7 46.3,196.7 46.1,196.6 45.9,196.5 45.7,196.4 45.5,196.3 45.3,196.1 45.1,195.9 44.9,195.8 44.7,195.7 44.5,195.8 44.3,196.0 44.1,196.1 43.9,196.3 43.7,196.4 43.5,196.6 43.2,196.7 43.0,196.7 42.8,196.7 42.6,196.7 42.4,196.7 42.2,196.7 42.0,196.7 41.8,196.7 41.6,196.6 41.4,196.5 41.2,196.4 41.0,196.2 40.8,196.1 40.6,195.9 40.4,195.8 40.2,195.7 40.0,195.9 39.8,196.0 39.6,196.2 39.4,196.3 39.2,196.5 39.0,196.6 38.8,196.7 38.6,196.7 38.4,196.7 38.2,196.7 38.0,196.7 37.8,196.7 37.6,196.7 37.4,196.7 37.2,196.6" fill="#000"/>
<text x="178.14" y="262.40" text-anchor="middle" font-size="13.6" font-weight="bold">imf 2</text>
<rect x="25.95" y="270.55" width="304.38" height="57.80" fill="none" stroke="#1a1a1a" stroke-width="1.15"/>
<line x1="37.20" y1="328.35" x2="37.20" y2="335.10" stroke="#222" stroke-width="1.1"/>
<text x="37.20" y="351.75" text-anchor="middle" font-size="10.9">0.0</text>
<line x1="93.63" y1="328.35" x2="93.63" y2="335.10" stroke="#222" stroke-width="1.1"/>
<text x="93.63" y="351.75" text-anchor="middle" font-size="10.9">0.2</text>
<line x1="150.05" y1="328.35" x2="150.05" y2="335.10" stroke="#222" stroke-width="1.1"/>
<text x="150.05" y="351.75" text-anchor="middle" font-size="10.9">0.4</text>
<line x1="206.48" y1="328.35" x2="206.48" y2="335.10" stroke="#222" stroke-width="1.1"/>
<text x="206.48" y="351.75" text-anchor="middle" font-size="10.9">0.6</text>
<line x1="262.90" y1="328.35" x2="262.90" y2="335.10" stroke="#222" stroke-width="1.1"/>
<text x="262.90" y="351.75" text-anchor="middle" font-size="10.9">0.8</text>
<line x1="319.33" y1="328.35" x2="319.33" y2="335.10" stroke="#222" stroke-width="1.1"/>
<text x="319.33" y="351.75" text-anchor="middle" font-size="10.9">1.0</text>
<line x1="19.20" y1="321.00" x2="25.95" y2="321.00" stroke="#222" stroke-width="1.1"/>
<text x="11.15" y="321.00" transform="rotate(-90 11.15 321.00)" text-anchor="middle" font-size="10.9">−0.04</text>
<line x1="19.20" y1="310.23" x2="25.95" y2="310.23" stroke="#222" stroke-width="1.1"/>
<line x1="19.20" y1="299.45" x2="25.95" y2="299.45" stroke="#222" stroke-width="1.1"/>
<line x1="19.20" y1="288.68" x2="25.95" y2="288.68" stroke="#222" stroke-width="1.1"/>
<line x1="19.20" y1="277.90" x2="25.95" y2="277.90" stroke="#222" stroke-width="1.1"/>
<text x="11.15" y="277.90" transform="rotate(-90 11.15 277.90)" text-anchor="middle" font-size="10.9">0.04</text>
<line x1="25.95" y1="299.45" x2="330.33" y2="299.45" stroke="#000" stroke-width="1.1" stroke-dasharray="4.9 6.016" stroke-dashoffset="1.19"/>
<polyline points="37.2,296.1 37.7,300.7 38.2,297.3 38.7,300.7 39.2,300.2 39.7,298.9 40.2,298.3 40.7,299.7 41.2,300.6 41.7,299.6 42.2,298.2 42.8,299.5 43.3,301.2 43.8,299.5 44.3,298.3 44.8,298.5 45.3,299.8 45.8,301.0 46.3,298.8 46.8,298.5 47.3,299.0 47.8,300.9 48.3,299.5 48.8,298.2 49.3,298.4 49.8,300.0 50.3,300.7 50.8,299.3 51.3,298.4 51.8,299.2 52.3,301.3 52.8,299.2 53.4,298.8 53.9,298.2 54.4,299.9 54.9,300.9 55.4,299.4 55.9,298.5 56.4,299.9 56.9,300.8 57.4,300.7 57.9,298.0 58.4,298.6 58.9,299.8 59.4,300.5 59.9,299.1 60.4,298.0 60.9,299.6 61.4,300.2 61.9,300.0 62.4,298.1 62.9,298.9 63.4,300.3 63.9,300.3 64.5,298.1 65.0,298.4 65.5,299.7 66.0,299.9 66.5,299.5 67.0,299.3 67.5,299.4 68.0,299.7 68.5,299.6 69.0,299.2 69.5,299.0 70.0,299.7 70.5,300.2 71.0,300.0 71.5,297.9 72.0,299.7 72.5,300.5 73.0,300.2 73.5,298.6 74.0,298.6 74.5,299.9 75.1,301.1 75.6,299.2 76.1,298.5 76.6,298.3 77.1,301.0 77.6,300.8 78.1,298.8 78.6,298.3 79.1,299.6 79.6,301.1 80.1,299.0 80.6,298.2 81.1,298.9 81.6,299.7 82.1,300.4 82.6,298.6 83.1,298.3 83.6,299.6 84.1,301.1 84.6,299.5 85.1,297.6 85.7,299.4 86.2,300.3 86.7,300.5 87.2,298.5 87.7,298.5 88.2,299.7 88.7,300.9 89.2,298.9 89.7,298.3 90.2,299.3 90.7,300.3 91.2,300.2 91.7,298.2 92.2,298.7 92.7,300.2 93.2,301.1 93.7,299.3 94.2,298.1 94.7,299.0 95.2,300.9 95.7,299.6 96.3,297.9 96.8,298.3 97.3,300.8 97.8,301.0 98.3,298.9 98.8,297.9 99.3,298.9 99.8,301.0 100.3,299.7 100.8,298.0 101.3,298.8 101.8,300.4 102.3,300.4 102.8,298.9 103.3,298.3 103.8,300.0 104.3,300.8 104.8,299.5 105.3,298.4 105.8,298.4 106.3,300.9 106.8,300.6 107.4,299.4 107.9,297.9 108.4,299.7 108.9,299.9 109.4,299.4 109.9,299.2 110.4,299.4 110.9,299.6 111.4,299.6 111.9,299.3 112.4,299.1 112.9,299.5 113.4,300.2 113.9,299.9 114.4,298.5 114.9,298.8 115.4,301.1 115.9,300.2 116.4,298.9 116.9,298.3 117.4,300.5 118.0,300.8 118.5,299.4 119.0,298.3 119.5,298.6 120.0,301.0 120.5,300.4 121.0,299.1 121.5,298.7 122.0,299.6 122.5,300.6 123.0,299.1 123.5,298.4 124.0,298.9 124.5,300.4 125.0,300.1 125.5,299.1 126.0,297.7 126.5,300.3 127.0,300.5 127.5,299.1 128.0,298.3 128.6,299.5 129.1,300.7 129.6,300.3 130.1,298.9 130.6,298.0 131.1,299.9 131.6,300.7 132.1,299.0 132.6,297.8 133.1,299.0 133.6,300.6 134.1,300.0 134.6,297.9 135.1,298.4 135.6,300.2 136.1,300.2 136.6,298.3 137.1,298.3 137.6,299.2 138.1,301.2 138.6,300.0 139.2,298.0 139.7,298.7 140.2,300.7 140.7,300.2 141.2,298.7 141.7,297.7 142.2,299.7 142.7,300.7 143.2,300.0 143.7,298.4 144.2,298.7 144.7,301.0 145.2,300.5 145.7,298.8 146.2,298.1 146.7,299.6 147.2,301.2 147.7,299.8 148.2,298.0 148.7,298.6 149.2,300.4 149.7,299.8 150.3,298.9 150.8,299.0 151.3,299.3 151.8,299.7 152.3,299.4 152.8,299.3 153.3,299.4 153.8,299.6 154.3,299.6 154.8,299.1 155.3,299.2 155.8,299.7 156.3,300.8 156.8,299.7 157.3,297.9 157.8,298.6 158.3,300.4 158.8,299.4 159.3,298.0 159.8,298.2 160.3,300.5 160.9,300.3 161.4,299.2 161.9,298.4 162.4,299.5 162.9,300.5 163.4,299.6 163.9,299.3 164.4,298.2 164.9,300.0 165.4,300.6 165.9,299.3 166.4,297.9 166.9,299.0 167.4,300.8 167.9,300.0 168.4,298.2 168.9,298.7 169.4,300.3 169.9,300.4 170.4,299.1 170.9,298.0 171.5,298.8 172.0,300.5 172.5,300.0 173.0,298.7 173.5,299.0 174.0,300.1 174.5,300.2 175.0,298.7 175.5,298.3 176.0,299.4 176.5,301.2 177.0,300.4 177.5,297.9 178.0,298.4 178.5,300.5 179.0,300.3 179.5,298.8 180.0,297.9 180.5,300.4 181.0,300.9 181.5,300.1 182.1,298.0 182.6,298.5 183.1,300.5 183.6,299.8 184.1,299.4 184.6,298.0 185.1,299.2 185.6,300.3 186.1,300.1 186.6,298.4 187.1,298.7 187.6,300.1 188.1,299.7 188.6,299.4 189.1,299.2 189.6,299.5 190.1,299.7 190.6,299.5 191.1,299.3 191.6,299.3 192.1,300.1 192.6,300.4 193.2,298.4 193.7,298.4 194.2,299.8 194.7,300.6 195.2,299.5 195.7,298.3 196.2,298.5 196.7,300.8 197.2,301.0 197.7,298.6 198.2,298.1 198.7,300.5 199.2,301.2 199.7,298.9 200.2,298.0 200.7,298.4 201.2,300.0 201.7,300.4 202.2,298.4 202.7,298.0 203.2,300.4 203.8,300.9 204.3,299.9 204.8,298.5 205.3,299.8 205.8,300.1 206.3,299.9 206.8,299.2 207.3,299.3 207.8,299.6 208.3,299.7 208.8,299.4 209.3,299.2 209.8,299.5 210.3,300.4 210.8,299.5 211.3,298.9 211.8,298.3 212.3,299.0 212.8,300.8 213.3,299.1 213.8,298.2 214.4,299.5 214.9,301.0 215.4,299.6 215.9,298.6 216.4,298.8 216.9,299.5 217.4,301.2 217.9,299.2 218.4,298.4 218.9,299.5 219.4,300.6 219.9,300.4 220.4,298.1 220.9,298.7 221.4,300.3 221.9,300.4 222.4,299.1 222.9,298.2 223.4,299.4 223.9,300.5 224.4,299.8 225.0,297.9 225.5,298.2 226.0,300.4 226.5,300.4 227.0,298.7 227.5,298.6 228.0,299.2 228.5,300.9 229.0,300.2 229.5,298.0 230.0,297.9 230.5,300.6 231.0,300.6 231.5,299.2 232.0,298.5 232.5,300.0 233.0,301.1 233.5,299.8 234.0,298.4 234.5,298.7 235.0,299.7 235.5,300.4 236.1,298.6 236.6,298.8 237.1,300.6 237.6,300.3 238.1,299.4 238.6,298.0 239.1,299.0 239.6,300.7 240.1,300.0 240.6,298.8 241.1,298.0 241.6,300.3 242.1,300.5 242.6,299.2 243.1,298.5 243.6,299.0 244.1,300.3 244.6,300.2 245.1,297.9 245.6,298.6 246.1,300.5 246.7,300.8 247.2,299.4 247.7,297.9 248.2,299.0 248.7,300.6 249.2,299.7 249.7,298.6 250.2,298.8 250.7,299.6 251.2,299.7 251.7,299.5 252.2,299.2 252.7,299.5 253.2,299.7 253.7,299.6 254.2,298.9 254.7,299.0 255.2,299.8 255.7,300.4 256.2,299.1 256.7,298.2 257.3,298.6 257.8,300.5 258.3,299.5 258.8,298.0 259.3,299.3 259.8,300.3 260.3,300.1 260.8,298.7 261.3,297.7 261.8,299.7 262.3,300.9 262.8,299.6 263.3,298.2 263.8,299.1 264.3,300.6 264.8,300.9 265.3,298.8 265.8,298.2 266.3,299.5 266.8,300.6 267.3,299.8 267.9,297.9 268.4,298.8 268.9,300.1 269.4,300.8 269.9,298.1 270.4,298.5 270.9,299.8 271.4,300.3 271.9,299.7 272.4,298.0 272.9,299.3 273.4,300.3 273.9,300.6 274.4,298.9 274.9,298.0 275.4,299.5 275.9,300.5 276.4,299.4 276.9,297.9 277.4,299.1 277.9,300.2 278.4,301.0 279.0,298.7 279.5,298.2 280.0,300.3 280.5,300.6 281.0,299.0 281.5,297.7 282.0,298.5 282.5,300.6 283.0,299.8 283.5,298.9 284.0,298.5 284.5,300.4 285.0,300.5 285.5,298.6 286.0,297.7 286.5,298.8 287.0,300.4 287.5,300.1 288.0,298.5 288.5,298.7 289.0,299.4 289.6,300.2 290.1,299.5 290.6,298.1 291.1,299.2 291.6,301.0 292.1,299.7 292.6,298.6 293.1,298.7 293.6,300.0 294.1,300.7 294.6,299.2 295.1,298.1 295.6,299.1 296.1,301.3 296.6,300.2 297.1,297.9 297.6,298.8 298.1,300.1 298.6,301.3 299.1,299.3 299.6,298.3 300.2,299.5 300.7,300.5 301.2,299.5 301.7,298.5 302.2,298.3 302.7,300.4 303.2,300.0 303.7,298.6 304.2,298.1 304.7,299.8 305.2,300.7 305.7,299.4 306.2,298.3 306.7,298.7 307.2,300.8 307.7,300.4 308.2,298.2 308.7,298.7 309.2,299.4 309.7,300.6 310.2,299.7 310.8,297.8 311.3,299.1 311.8,300.6 312.3,300.1 312.8,298.1 313.3,298.2 313.8,299.4 314.3,301.1 314.8,300.1 315.3,298.5 315.8,298.1 316.3,300.4 316.8,300.4 317.3,298.8 317.8,297.7 318.3,300.9 318.8,298.4 319.3,301.1" fill="none" stroke="#000" stroke-width="1.2" stroke-linejoin="round"/>
<text x="178.14" y="372.10" text-anchor="middle" font-size="13.6" font-weight="bold">remaining signal</text>
<rect x="25.95" y="380.48" width="304.38" height="57.32" fill="none" stroke="#1a1a1a" stroke-width="1.15"/>
<line x1="37.20" y1="437.80" x2="37.20" y2="444.55" stroke="#222" stroke-width="1.1"/>
<text x="37.20" y="461.20" text-anchor="middle" font-size="10.9">0.0</text>
<line x1="93.63" y1="437.80" x2="93.63" y2="444.55" stroke="#222" stroke-width="1.1"/>
<text x="93.63" y="461.20" text-anchor="middle" font-size="10.9">0.2</text>
<line x1="150.05" y1="437.80" x2="150.05" y2="444.55" stroke="#222" stroke-width="1.1"/>
<text x="150.05" y="461.20" text-anchor="middle" font-size="10.9">0.4</text>
<line x1="206.48" y1="437.80" x2="206.48" y2="444.55" stroke="#222" stroke-width="1.1"/>
<text x="206.48" y="461.20" text-anchor="middle" font-size="10.9">0.6</text>
<line x1="262.90" y1="437.80" x2="262.90" y2="444.55" stroke="#222" stroke-width="1.1"/>
<text x="262.90" y="461.20" text-anchor="middle" font-size="10.9">0.8</text>
<line x1="319.33" y1="437.80" x2="319.33" y2="444.55" stroke="#222" stroke-width="1.1"/>
<text x="319.33" y="461.20" text-anchor="middle" font-size="10.9">1.0</text>
<line x1="19.20" y1="431.12" x2="25.95" y2="431.12" stroke="#222" stroke-width="1.1"/>
<text x="11.15" y="431.12" transform="rotate(-90 11.15 431.12)" text-anchor="middle" font-size="10.9">0.2</text>
<line x1="19.20" y1="417.12" x2="25.95" y2="417.12" stroke="#222" stroke-width="1.1"/>
<line x1="19.20" y1="403.12" x2="25.95" y2="403.12" stroke="#222" stroke-width="1.1"/>
<text x="11.15" y="403.12" transform="rotate(-90 11.15 403.12)" text-anchor="middle" font-size="10.9">0.6</text>
<line x1="19.20" y1="389.12" x2="25.95" y2="389.12" stroke="#222" stroke-width="1.1"/>
<polyline points="37.2,389.1 37.6,389.2 37.9,389.3 38.3,389.4 38.6,389.6 39.0,389.9 39.3,390.3 39.7,390.7 40.0,391.1 40.4,391.6 40.7,392.2 41.1,392.8 41.4,393.4 41.8,394.1 42.1,394.7 42.5,395.4 42.8,396.1 43.2,396.9 43.6,397.6 43.9,398.3 44.3,399.0 44.6,399.7 45.0,400.3 45.3,401.0 45.7,401.6 46.0,402.2 46.4,402.7 46.7,403.2 47.1,403.6 47.4,404.0 47.8,404.3 48.1,404.6 48.5,404.8 48.9,405.0 49.2,405.1 49.6,405.1 49.9,405.1 50.3,405.0 50.6,404.9 51.0,404.7 51.3,404.4 51.7,404.2 52.0,403.8 52.4,403.5 52.7,403.1 53.1,402.6 53.4,402.2 53.8,401.7 54.1,401.2 54.5,400.7 54.9,400.2 55.2,399.7 55.6,399.2 55.9,398.7 56.3,398.3 56.6,397.8 57.0,397.4 57.3,397.1 57.7,396.7 58.0,396.4 58.4,396.2 58.7,396.0 59.1,395.9 59.4,395.8 59.8,395.8 60.2,395.9 60.5,396.0 60.9,396.2 61.2,396.5 61.6,396.8 61.9,397.1 62.3,397.6 62.6,398.1 63.0,398.6 63.3,399.2 63.7,399.9 64.0,400.6 64.4,401.3 64.7,402.1 65.1,402.9 65.4,403.7 65.8,404.6 66.2,405.4 66.5,406.3 66.9,407.2 67.2,408.0 67.6,408.9 67.9,409.7 68.3,410.6 68.6,411.4 69.0,412.1 69.3,412.9 69.7,413.5 70.0,414.2 70.4,414.8 70.7,415.3 71.1,415.8 71.5,416.2 71.8,416.6 72.2,416.9 72.5,417.1 72.9,417.3 73.2,417.4 73.6,417.5 73.9,417.5 74.3,417.4 74.6,417.3 75.0,417.2 75.3,416.9 75.7,416.7 76.0,416.4 76.4,416.0 76.7,415.7 77.1,415.3 77.5,414.9 77.8,414.4 78.2,414.0 78.5,413.5 78.9,413.1 79.2,412.6 79.6,412.2 79.9,411.8 80.3,411.4 80.6,411.1 81.0,410.8 81.3,410.5 81.7,410.3 82.0,410.1 82.4,409.9 82.8,409.8 83.1,409.8 83.5,409.8 83.8,409.9 84.2,410.1 84.5,410.3 84.9,410.6 85.2,410.9 85.6,411.3 85.9,411.7 86.3,412.2 86.6,412.8 87.0,413.4 87.3,414.0 87.7,414.7 88.0,415.4 88.4,416.2 88.8,416.9 89.1,417.7 89.5,418.5 89.8,419.4 90.2,420.2 90.5,421.0 90.9,421.8 91.2,422.6 91.6,423.3 91.9,424.1 92.3,424.8 92.6,425.5 93.0,426.1 93.3,426.7 93.7,427.2 94.0,427.7 94.4,428.1 94.8,428.5 95.1,428.8 95.5,429.0 95.8,429.2 96.2,429.3 96.5,429.3 96.9,429.3 97.2,429.2 97.6,429.1 97.9,428.9 98.3,428.6 98.6,428.3 99.0,427.9 99.3,427.5 99.7,427.0 100.1,426.6 100.4,426.0 100.8,425.5 101.1,424.9 101.5,424.3 101.8,423.7 102.2,423.1 102.5,422.5 102.9,421.9 103.2,421.3 103.6,420.8 103.9,420.2 104.3,419.7 104.6,419.2 105.0,418.8 105.3,418.4 105.7,418.1 106.1,417.8 106.4,417.5 106.8,417.3 107.1,417.2 107.5,417.1 107.8,417.1 108.2,417.2 108.5,417.3 108.9,417.4 109.2,417.6 109.6,417.9 109.9,418.2 110.3,418.6 110.6,419.0 111.0,419.5 111.4,420.0 111.7,420.5 112.1,421.0 112.4,421.6 112.8,422.2 113.1,422.8 113.5,423.4 113.8,424.0 114.2,424.6 114.5,425.2 114.9,425.8 115.2,426.3 115.6,426.8 115.9,427.3 116.3,427.7 116.6,428.1 117.0,428.5 117.4,428.7 117.7,429.0 118.1,429.2 118.4,429.3 118.8,429.3 119.1,429.3 119.5,429.2 119.8,429.1 120.2,428.9 120.5,428.6 120.9,428.3 121.2,427.9 121.6,427.5 121.9,427.0 122.3,426.4 122.7,425.8 123.0,425.1 123.4,424.4 123.7,423.7 124.1,423.0 124.4,422.2 124.8,421.4 125.1,420.6 125.5,419.8 125.8,418.9 126.2,418.1 126.5,417.3 126.9,416.6 127.2,415.8 127.6,415.1 127.9,414.4 128.3,413.7 128.7,413.1 129.0,412.5 129.4,412.0 129.7,411.5 130.1,411.1 130.4,410.7 130.8,410.4 131.1,410.2 131.5,410.0 131.8,409.9 132.2,409.8 132.5,409.8 132.9,409.9 133.2,410.0 133.6,410.2 134.0,410.4 134.3,410.6 134.7,410.9 135.0,411.3 135.4,411.6 135.7,412.0 136.1,412.4 136.4,412.9 136.8,413.3 137.1,413.8 137.5,414.2 137.8,414.6 138.2,415.1 138.5,415.5 138.9,415.9 139.2,416.2 139.6,416.5 140.0,416.8 140.3,417.1 140.7,417.3 141.0,417.4 141.4,417.5 141.7,417.5 142.1,417.5 142.4,417.4 142.8,417.2 143.1,417.0 143.5,416.8 143.8,416.4 144.2,416.0 144.5,415.6 144.9,415.1 145.2,414.5 145.6,413.9 146.0,413.2 146.3,412.5 146.7,411.8 147.0,411.0 147.4,410.2 147.7,409.3 148.1,408.5 148.4,407.6 148.8,406.7 149.1,405.9 149.5,405.0 149.8,404.1 150.2,403.3 150.5,402.5 150.9,401.7 151.3,400.9 151.6,400.2 152.0,399.5 152.3,398.9 152.7,398.3 153.0,397.8 153.4,397.4 153.7,396.9 154.1,396.6 154.4,396.3 154.8,396.1 155.1,396.0 155.5,395.9 155.8,395.8 156.2,395.9 156.5,396.0 156.9,396.1 157.3,396.3 157.6,396.6 158.0,396.9 158.3,397.2 158.7,397.6 159.0,398.0 159.4,398.5 159.7,399.0 160.1,399.4 160.4,399.9 160.8,400.4 161.1,400.9 161.5,401.4 161.8,401.9 162.2,402.4 162.6,402.8 162.9,403.3 163.3,403.7 163.6,404.0 164.0,404.3 164.3,404.6 164.7,404.8 165.0,404.9 165.4,405.0 165.7,405.1 166.1,405.1 166.4,405.0 166.8,404.9 167.1,404.7 167.5,404.5 167.8,404.2 168.2,403.8 168.6,403.4 168.9,402.9 169.3,402.4 169.6,401.9 170.0,401.3 170.3,400.7 170.7,400.0 171.0,399.3 171.4,398.6 171.7,397.9 172.1,397.2 172.4,396.5 172.8,395.8 173.1,395.1 173.5,394.4 173.9,393.7 174.2,393.1 174.6,392.5 174.9,391.9 175.3,391.4 175.6,390.9 176.0,390.5 176.3,390.1 176.7,389.8 177.0,389.5 177.4,389.3 177.7,389.2 178.1,389.1 178.4,389.1 178.8,389.2 179.1,389.3 179.5,389.5 179.9,389.8 180.2,390.1 180.6,390.5 180.9,390.9 181.3,391.4 181.6,391.9 182.0,392.5 182.3,393.1 182.7,393.7 183.0,394.4 183.4,395.1 183.7,395.8 184.1,396.5 184.4,397.2 184.8,397.9 185.2,398.6 185.5,399.3 185.9,400.0 186.2,400.7 186.6,401.3 186.9,401.9 187.3,402.4 187.6,402.9 188.0,403.4 188.3,403.8 188.7,404.2 189.0,404.5 189.4,404.7 189.7,404.9 190.1,405.0 190.4,405.1 190.8,405.1 191.2,405.0 191.5,404.9 191.9,404.8 192.2,404.6 192.6,404.3 192.9,404.0 193.3,403.7 193.6,403.3 194.0,402.8 194.3,402.4 194.7,401.9 195.0,401.4 195.4,400.9 195.7,400.4 196.1,399.9 196.4,399.4 196.8,399.0 197.2,398.5 197.5,398.0 197.9,397.6 198.2,397.2 198.6,396.9 198.9,396.6 199.3,396.3 199.6,396.1 200.0,396.0 200.3,395.9 200.7,395.8 201.0,395.9 201.4,396.0 201.7,396.1 202.1,396.3 202.5,396.6 202.8,396.9 203.2,397.4 203.5,397.8 203.9,398.3 204.2,398.9 204.6,399.5 204.9,400.2 205.3,400.9 205.6,401.7 206.0,402.5 206.3,403.3 206.7,404.1 207.0,405.0 207.4,405.9 207.7,406.7 208.1,407.6 208.5,408.5 208.8,409.3 209.2,410.2 209.5,411.0 209.9,411.8 210.2,412.5 210.6,413.2 210.9,413.9 211.3,414.5 211.6,415.1 212.0,415.6 212.3,416.0 212.7,416.4 213.0,416.8 213.4,417.0 213.8,417.2 214.1,417.4 214.5,417.5 214.8,417.5 215.2,417.5 215.5,417.4 215.9,417.3 216.2,417.1 216.6,416.8 216.9,416.5 217.3,416.2 217.6,415.9 218.0,415.5 218.3,415.1 218.7,414.6 219.0,414.2 219.4,413.8 219.8,413.3 220.1,412.9 220.5,412.4 220.8,412.0 221.2,411.6 221.5,411.3 221.9,410.9 222.2,410.6 222.6,410.4 222.9,410.2 223.3,410.0 223.6,409.9 224.0,409.8 224.3,409.8 224.7,409.9 225.1,410.0 225.4,410.2 225.8,410.4 226.1,410.7 226.5,411.1 226.8,411.5 227.2,412.0 227.5,412.5 227.9,413.1 228.2,413.7 228.6,414.4 228.9,415.1 229.3,415.8 229.6,416.6 230.0,417.3 230.3,418.1 230.7,418.9 231.1,419.8 231.4,420.6 231.8,421.4 232.1,422.2 232.5,423.0 232.8,423.7 233.2,424.4 233.5,425.1 233.9,425.8 234.2,426.4 234.6,427.0 234.9,427.5 235.3,427.9 235.6,428.3 236.0,428.6 236.4,428.9 236.7,429.1 237.1,429.2 237.4,429.3 237.8,429.3 238.1,429.3 238.5,429.2 238.8,429.0 239.2,428.7 239.5,428.5 239.9,428.1 240.2,427.7 240.6,427.3 240.9,426.8 241.3,426.3 241.6,425.8 242.0,425.2 242.4,424.6 242.7,424.0 243.1,423.4 243.4,422.8 243.8,422.2 244.1,421.6 244.5,421.0 244.8,420.5 245.2,420.0 245.5,419.5 245.9,419.0 246.2,418.6 246.6,418.2 246.9,417.9 247.3,417.6 247.6,417.4 248.0,417.3 248.4,417.2 248.7,417.1 249.1,417.1 249.4,417.2 249.8,417.3 250.1,417.5 250.5,417.8 250.8,418.1 251.2,418.4 251.5,418.8 251.9,419.2 252.2,419.7 252.6,420.2 252.9,420.8 253.3,421.3 253.7,421.9 254.0,422.5 254.4,423.1 254.7,423.7 255.1,424.3 255.4,424.9 255.8,425.5 256.1,426.0 256.5,426.6 256.8,427.0 257.2,427.5 257.5,427.9 257.9,428.3 258.2,428.6 258.6,428.9 258.9,429.1 259.3,429.2 259.7,429.3 260.0,429.3 260.4,429.3 260.7,429.2 261.1,429.0 261.4,428.8 261.8,428.5 262.1,428.1 262.5,427.7 262.8,427.2 263.2,426.7 263.5,426.1 263.9,425.5 264.2,424.8 264.6,424.1 265.0,423.3 265.3,422.6 265.7,421.8 266.0,421.0 266.4,420.2 266.7,419.4 267.1,418.5 267.4,417.7 267.8,416.9 268.1,416.2 268.5,415.4 268.8,414.7 269.2,414.0 269.5,413.4 269.9,412.8 270.2,412.2 270.6,411.7 271.0,411.3 271.3,410.9 271.7,410.6 272.0,410.3 272.4,410.1 272.7,409.9 273.1,409.8 273.4,409.8 273.8,409.8 274.1,409.9 274.5,410.1 274.8,410.3 275.2,410.5 275.5,410.8 275.9,411.1 276.3,411.4 276.6,411.8 277.0,412.2 277.3,412.6 277.7,413.1 278.0,413.5 278.4,414.0 278.7,414.4 279.1,414.9 279.4,415.3 279.8,415.7 280.1,416.0 280.5,416.4 280.8,416.7 281.2,416.9 281.5,417.2 281.9,417.3 282.3,417.4 282.6,417.5 283.0,417.5 283.3,417.4 283.7,417.3 284.0,417.1 284.4,416.9 284.7,416.6 285.1,416.2 285.4,415.8 285.8,415.3 286.1,414.8 286.5,414.2 286.8,413.5 287.2,412.9 287.6,412.1 287.9,411.4 288.3,410.6 288.6,409.7 289.0,408.9 289.3,408.0 289.7,407.2 290.0,406.3 290.4,405.4 290.7,404.6 291.1,403.7 291.4,402.9 291.8,402.1 292.1,401.3 292.5,400.6 292.8,399.9 293.2,399.2 293.6,398.6 293.9,398.1 294.3,397.6 294.6,397.1 295.0,396.8 295.3,396.5 295.7,396.2 296.0,396.0 296.4,395.9 296.7,395.8 297.1,395.8 297.4,395.9 297.8,396.0 298.1,396.2 298.5,396.4 298.8,396.7 299.2,397.1 299.6,397.4 299.9,397.8 300.3,398.3 300.6,398.7 301.0,399.2 301.3,399.7 301.7,400.2 302.0,400.7 302.4,401.2 302.7,401.7 303.1,402.2 303.4,402.6 303.8,403.1 304.1,403.5 304.5,403.8 304.9,404.2 305.2,404.4 305.6,404.7 305.9,404.9 306.3,405.0 306.6,405.1 307.0,405.1 307.3,405.1 307.7,405.0 308.0,404.8 308.4,404.6 308.7,404.3 309.1,404.0 309.4,403.6 309.8,403.2 310.1,402.7 310.5,402.2 310.9,401.6 311.2,401.0 311.6,400.3 311.9,399.7 312.3,399.0 312.6,398.3 313.0,397.6 313.3,396.9 313.7,396.1 314.0,395.4 314.4,394.7 314.7,394.1 315.1,393.4 315.4,392.8 315.8,392.2 316.2,391.6 316.5,391.1 316.9,390.7 317.2,390.3 317.6,389.9 317.9,389.6 318.3,389.4 318.6,389.3 319.0,389.2 319.3,389.1" fill="none" stroke="#000" stroke-width="1.2" stroke-linejoin="round"/>
<text x="521.32" y="22.7" text-anchor="middle" font-size="13.6" font-weight="bold">(b) Decomposition by SEMD</text>
<text x="521.32" y="43.00" text-anchor="middle" font-size="13.6" font-weight="bold">signal</text>
<rect x="369.17" y="51.50" width="304.29" height="57.80" fill="none" stroke="#1a1a1a" stroke-width="1.15"/>
<line x1="380.46" y1="109.30" x2="380.46" y2="116.05" stroke="#222" stroke-width="1.1"/>
<text x="380.46" y="132.70" text-anchor="middle" font-size="10.9">0.0</text>
<line x1="436.86" y1="109.30" x2="436.86" y2="116.05" stroke="#222" stroke-width="1.1"/>
<text x="436.86" y="132.70" text-anchor="middle" font-size="10.9">0.2</text>
<line x1="493.26" y1="109.30" x2="493.26" y2="116.05" stroke="#222" stroke-width="1.1"/>
<text x="493.26" y="132.70" text-anchor="middle" font-size="10.9">0.4</text>
<line x1="549.66" y1="109.30" x2="549.66" y2="116.05" stroke="#222" stroke-width="1.1"/>
<text x="549.66" y="132.70" text-anchor="middle" font-size="10.9">0.6</text>
<line x1="606.06" y1="109.30" x2="606.06" y2="116.05" stroke="#222" stroke-width="1.1"/>
<text x="606.06" y="132.70" text-anchor="middle" font-size="10.9">0.8</text>
<line x1="662.46" y1="109.30" x2="662.46" y2="116.05" stroke="#222" stroke-width="1.1"/>
<text x="662.46" y="132.70" text-anchor="middle" font-size="10.9">1.0</text>
<line x1="362.42" y1="102.38" x2="369.17" y2="102.38" stroke="#222" stroke-width="1.1"/>
<text x="354.37" y="102.38" transform="rotate(-90 354.37 102.38)" text-anchor="middle" font-size="10.9">0.2</text>
<line x1="362.42" y1="88.38" x2="369.17" y2="88.38" stroke="#222" stroke-width="1.1"/>
<line x1="362.42" y1="74.38" x2="369.17" y2="74.38" stroke="#222" stroke-width="1.1"/>
<text x="354.37" y="74.38" transform="rotate(-90 354.37 74.38)" text-anchor="middle" font-size="10.9">0.6</text>
<line x1="362.42" y1="60.38" x2="369.17" y2="60.38" stroke="#222" stroke-width="1.1"/>
<polygon points="380.5,54.2 380.7,54.2 380.9,54.2 381.1,54.2 381.3,54.3 381.5,54.4 381.7,54.5 381.9,54.7 382.1,54.9 382.3,55.1 382.5,55.4 382.7,55.6 382.9,55.9 383.1,56.2 383.3,56.5 383.5,56.8 383.7,57.1 383.9,57.4 384.1,57.7 384.3,58.0 384.5,58.2 384.7,58.5 384.9,58.7 385.1,58.9 385.3,59.2 385.5,59.5 385.7,59.7 385.9,60.0 386.1,60.4 386.3,60.7 386.5,61.1 386.7,61.5 386.9,61.9 387.1,62.3 387.3,62.7 387.5,63.1 387.7,63.6 387.9,64.0 388.1,64.3 388.3,64.7 388.5,65.0 388.7,65.3 388.9,65.6 389.1,65.8 389.3,66.1 389.5,66.3 389.7,66.6 389.9,66.8 390.1,67.1 390.3,67.3 390.5,67.6 390.7,67.8 390.9,68.1 391.1,68.4 391.3,68.7 391.5,69.0 391.7,69.3 391.9,69.6 392.2,69.9 392.4,70.1 392.6,70.0 392.8,69.9 393.0,69.7 393.2,69.5 393.4,69.3 393.6,69.2 393.8,69.0 394.0,68.8 394.2,68.7 394.4,68.5 394.6,68.4 394.8,68.3 395.0,68.1 395.2,68.0 395.4,67.9 395.6,67.8 395.8,67.6 396.0,67.4 396.2,67.2 396.4,67.0 396.6,66.8 396.8,66.5 397.0,66.2 397.2,65.9 397.4,65.7 397.6,65.4 397.8,65.1 398.0,64.8 398.2,64.5 398.4,64.3 398.6,64.1 398.8,63.9 399.0,63.7 399.2,63.6 399.4,63.4 399.6,63.3 399.8,63.2 400.0,63.1 400.2,62.9 400.4,62.8 400.6,62.7 400.8,62.5 401.0,62.3 401.2,62.2 401.4,62.0 401.6,61.8 401.8,61.6 402.0,61.5 402.2,61.3 402.4,61.2 402.6,61.1 402.8,61.1 403.0,61.0 403.2,61.0 403.4,61.0 403.6,61.0 403.8,61.0 404.0,61.0 404.2,61.1 404.4,61.2 404.6,61.5 404.9,61.8 405.1,62.1 405.3,62.5 405.5,62.8 405.7,63.1 405.9,63.4 406.1,63.7 406.3,64.0 406.5,64.3 406.7,64.5 406.9,64.8 407.1,65.1 407.3,65.4 407.5,65.7 407.7,66.1 407.9,66.4 408.1,66.8 408.3,67.2 408.5,67.7 408.7,68.1 408.9,68.6 409.1,69.1 409.3,69.6 409.5,70.1 409.7,70.6 409.9,71.1 410.1,71.5 410.3,72.0 410.5,72.4 410.7,72.8 410.9,73.2 411.1,73.5 411.3,73.9 411.5,74.3 411.7,74.6 411.9,75.0 412.1,75.4 412.3,75.8 412.5,76.2 412.7,76.6 412.9,77.0 413.1,77.5 413.3,77.9 413.5,78.3 413.7,78.8 413.9,79.2 414.1,79.6 414.3,80.0 414.5,80.3 414.7,80.6 414.9,80.9 415.1,81.1 415.3,81.4 415.5,81.6 415.7,81.8 415.9,81.9 416.1,82.0 416.3,82.0 416.5,82.0 416.7,82.0 416.9,82.0 417.1,82.0 417.3,81.9 417.5,81.9 417.8,81.9 418.0,81.8 418.2,81.7 418.4,81.5 418.6,81.4 418.8,81.2 419.0,81.0 419.2,80.7 419.4,80.5 419.6,80.2 419.8,80.0 420.0,79.8 420.2,79.6 420.4,79.4 420.6,79.2 420.8,79.0 421.0,78.9 421.2,78.8 421.4,78.6 421.6,78.5 421.8,78.4 422.0,78.3 422.2,78.1 422.4,78.0 422.6,77.8 422.8,77.6 423.0,77.4 423.2,77.2 423.4,76.9 423.6,76.7 423.8,76.5 424.0,76.3 424.2,76.1 424.4,75.9 424.6,75.7 424.8,75.6 425.0,75.5 425.2,75.5 425.4,75.4 425.6,75.4 425.8,75.4 426.0,75.4 426.2,75.4 426.4,75.4 426.6,75.4 426.8,75.4 427.0,75.4 427.2,75.5 427.4,75.5 427.6,75.5 427.8,75.5 428.0,75.6 428.2,75.8 428.4,76.0 428.6,76.2 428.8,76.4 429.0,76.6 429.2,76.8 429.4,77.1 429.6,77.3 429.8,77.6 430.0,77.9 430.2,78.3 430.4,78.7 430.7,79.1 430.9,79.5 431.1,79.9 431.3,80.4 431.5,80.8 431.7,81.2 431.9,81.6 432.1,82.0 432.3,82.4 432.5,82.8 432.7,83.2 432.9,83.5 433.1,83.8 433.3,84.2 433.5,84.5 433.7,84.8 433.9,85.2 434.1,85.6 434.3,86.0 434.5,86.4 434.7,86.8 434.9,87.2 435.1,87.7 435.3,88.1 435.5,88.6 435.7,89.0 435.9,89.4 436.1,89.9 436.3,90.2 436.5,90.6 436.7,90.9 436.9,91.2 437.1,91.5 437.3,91.7 437.5,91.9 437.7,92.2 437.9,92.4 438.1,92.6 438.3,92.8 438.5,93.0 438.7,93.2 438.9,93.5 439.1,93.7 439.3,93.9 439.5,94.2 439.7,94.2 439.9,94.2 440.1,94.0 440.3,93.9 440.5,93.7 440.7,93.5 440.9,93.3 441.1,93.1 441.3,92.8 441.5,92.5 441.7,92.3 441.9,92.0 442.1,91.8 442.3,91.6 442.5,91.3 442.7,91.1 442.9,90.9 443.1,90.8 443.4,90.6 443.6,90.4 443.8,90.2 444.0,90.0 444.2,89.7 444.4,89.5 444.6,89.2 444.8,88.9 445.0,88.5 445.2,88.2 445.4,87.9 445.6,87.5 445.8,87.1 446.0,86.8 446.2,86.5 446.4,86.2 446.6,85.9 446.8,85.6 447.0,85.4 447.2,85.2 447.4,85.0 447.6,84.8 447.8,84.6 448.0,84.5 448.2,84.3 448.4,84.2 448.6,84.0 448.8,83.8 449.0,83.6 449.2,83.4 449.4,83.2 449.6,83.0 449.8,82.7 450.0,82.5 450.2,82.3 450.4,82.2 450.6,82.0 450.8,82.0 451.0,82.0 451.2,82.0 451.4,82.0 451.6,82.1 451.8,82.2 452.0,82.4 452.2,82.6 452.4,82.8 452.6,83.0 452.8,83.2 453.0,83.5 453.2,83.8 453.4,84.0 453.6,84.3 453.8,84.5 454.0,84.8 454.2,85.0 454.4,85.2 454.6,85.4 454.8,85.6 455.0,85.8 455.2,85.9 455.4,86.1 455.6,86.4 455.8,86.6 456.0,86.8 456.3,87.1 456.5,87.4 456.7,87.7 456.9,88.1 457.1,88.4 457.3,88.8 457.5,89.1 457.7,89.5 457.9,89.8 458.1,90.1 458.3,90.4 458.5,90.7 458.7,90.9 458.9,91.2 459.1,91.3 459.3,91.5 459.5,91.7 459.7,91.9 459.9,92.0 460.1,92.2 460.3,92.3 460.5,92.5 460.7,92.7 460.9,92.9 461.1,93.1 461.3,93.3 461.5,93.5 461.7,93.7 461.9,93.9 462.1,94.1 462.3,94.3 462.5,94.4 462.7,94.1 462.9,93.9 463.1,93.6 463.3,93.3 463.5,93.0 463.7,92.7 463.9,92.4 464.1,92.1 464.3,91.8 464.5,91.6 464.7,91.3 464.9,91.0 465.1,90.8 465.3,90.5 465.5,90.3 465.7,90.0 465.9,89.7 466.1,89.3 466.3,89.0 466.5,88.6 466.7,88.2 466.9,87.8 467.1,87.3 467.3,86.8 467.5,86.4 467.7,85.9 467.9,85.4 468.1,85.0 468.3,84.6 468.5,84.1 468.7,83.8 469.0,83.4 469.2,83.0 469.4,82.7 469.6,82.4 469.8,82.0 470.0,81.7 470.2,81.4 470.4,81.1 470.6,80.7 470.8,80.3 471.0,80.0 471.2,79.6 471.4,79.2 471.6,78.8 471.8,78.4 472.0,78.0 472.2,77.6 472.4,77.2 472.6,76.9 472.8,76.6 473.0,76.3 473.2,76.0 473.4,75.8 473.6,75.6 473.8,75.5 474.0,75.3 474.2,75.3 474.4,75.3 474.6,75.3 474.8,75.3 475.0,75.3 475.2,75.4 475.4,75.5 475.6,75.5 475.8,75.6 476.0,75.6 476.2,75.7 476.4,75.7 476.6,75.7 476.8,75.8 477.0,75.8 477.2,75.8 477.4,75.9 477.6,76.0 477.8,76.1 478.0,76.2 478.2,76.4 478.4,76.5 478.6,76.7 478.8,77.0 479.0,77.2 479.2,77.4 479.4,77.7 479.6,77.9 479.8,78.2 480.0,78.4 480.2,78.6 480.4,78.8 480.6,79.0 480.8,79.1 481.0,79.3 481.2,79.4 481.4,79.5 481.6,79.6 481.9,79.7 482.1,79.9 482.3,80.0 482.5,80.2 482.7,80.4 482.9,80.6 483.1,80.8 483.3,81.0 483.5,81.2 483.7,81.4 483.9,81.6 484.1,81.8 484.3,81.9 484.5,82.0 484.7,82.1 484.9,82.2 485.1,82.2 485.3,82.1 485.5,82.1 485.7,82.0 485.9,81.9 486.1,81.6 486.3,81.4 486.5,81.2 486.7,80.9 486.9,80.7 487.1,80.5 487.3,80.3 487.5,80.0 487.7,79.7 487.9,79.4 488.1,79.1 488.3,78.8 488.5,78.4 488.7,78.0 488.9,77.5 489.1,77.1 489.3,76.6 489.5,76.1 489.7,75.7 489.9,75.2 490.1,74.7 490.3,74.3 490.5,73.9 490.7,73.5 490.9,73.1 491.1,72.7 491.3,72.3 491.5,71.9 491.7,71.6 491.9,71.2 492.1,70.8 492.3,70.4 492.5,70.0 492.7,69.6 492.9,69.1 493.1,68.7 493.3,68.2 493.5,67.7 493.7,67.2 493.9,66.8 494.1,66.3 494.3,65.9 494.6,65.5 494.8,65.1 495.0,64.7 495.2,64.4 495.4,64.1 495.6,63.8 495.8,63.6 496.0,63.3 496.2,63.1 496.4,62.9 496.6,62.6 496.8,62.4 497.0,62.2 497.2,61.9 497.4,61.6 497.6,61.4 497.8,61.3 498.0,61.3 498.2,61.3 498.4,61.2 498.6,61.2 498.8,61.2 499.0,61.2 499.2,61.2 499.4,61.2 499.6,61.2 499.8,61.3 500.0,61.4 500.2,61.5 500.4,61.6 500.6,61.8 500.8,62.0 501.0,62.2 501.2,62.4 501.4,62.6 501.6,62.8 501.8,63.0 502.0,63.2 502.2,63.4 502.4,63.6 502.6,63.8 502.8,63.9 503.0,64.1 503.2,64.2 503.4,64.4 503.6,64.5 503.8,64.7 504.0,64.9 504.2,65.1 504.4,65.3 504.6,65.5 504.8,65.8 505.0,66.1 505.2,66.4 505.4,66.7 505.6,66.9 505.8,67.2 506.0,67.5 506.2,67.8 506.4,68.0 506.6,68.2 506.8,68.3 507.0,68.5 507.2,68.6 507.5,68.7 507.7,68.8 507.9,68.9 508.1,69.0 508.3,69.1 508.5,69.2 508.7,69.3 508.9,69.4 509.1,69.5 509.3,69.6 509.5,69.8 509.7,69.9 509.9,69.8 510.1,69.6 510.3,69.4 510.5,69.2 510.7,68.9 510.9,68.6 511.1,68.3 511.3,67.9 511.5,67.6 511.7,67.3 511.9,66.9 512.1,66.6 512.3,66.3 512.5,66.0 512.7,65.7 512.9,65.4 513.1,65.1 513.3,64.9 513.5,64.6 513.7,64.4 513.9,64.1 514.1,63.8 514.3,63.5 514.5,63.1 514.7,62.8 514.9,62.4 515.1,62.0 515.3,61.6 515.5,61.2 515.7,60.8 515.9,60.3 516.1,59.9 516.3,59.6 516.5,59.2 516.7,58.9 516.9,58.6 517.1,58.3 517.3,58.0 517.5,57.8 517.7,57.6 517.9,57.4 518.1,57.1 518.3,56.9 518.5,56.7 518.7,56.5 518.9,56.3 519.1,56.0 519.3,55.8 519.5,55.5 519.7,55.3 519.9,55.0 520.1,54.8 520.4,54.6 520.6,54.4 520.8,54.2 521.0,54.0 521.2,54.0 521.4,54.0 521.6,54.0 521.8,54.0 522.0,54.0 522.2,54.2 522.4,54.3 522.6,54.5 522.8,54.8 523.0,55.0 523.2,55.3 523.4,55.5 523.6,55.8 523.8,56.0 524.0,56.3 524.2,56.5 524.4,56.7 524.6,57.0 524.8,57.2 525.0,57.4 525.2,57.6 525.4,57.8 525.6,58.0 525.8,58.3 526.0,58.6 526.2,58.9 526.4,59.2 526.6,59.6 526.8,59.9 527.0,60.3 527.2,60.7 527.4,61.2 527.6,61.6 527.8,62.0 528.0,62.4 528.2,62.8 528.4,63.1 528.6,63.5 528.8,63.8 529.0,64.1 529.2,64.4 529.4,64.6 529.6,64.9 529.8,65.2 530.0,65.4 530.2,65.7 530.4,66.0 530.6,66.3 530.8,66.6 531.0,66.9 531.2,67.2 531.4,67.6 531.6,67.9 531.8,68.3 532.0,68.6 532.2,68.9 532.4,69.2 532.6,69.4 532.8,69.6 533.1,69.8 533.3,69.9 533.5,69.8 533.7,69.7 533.9,69.5 534.1,69.4 534.3,69.3 534.5,69.2 534.7,69.1 534.9,69.0 535.1,68.9 535.3,68.8 535.5,68.7 535.7,68.6 535.9,68.5 536.1,68.3 536.3,68.2 536.5,68.0 536.7,67.8 536.9,67.5 537.1,67.2 537.3,67.0 537.5,66.7 537.7,66.4 537.9,66.1 538.1,65.8 538.3,65.5 538.5,65.3 538.7,65.1 538.9,64.9 539.1,64.7 539.3,64.5 539.5,64.4 539.7,64.2 539.9,64.1 540.1,63.9 540.3,63.8 540.5,63.6 540.7,63.4 540.9,63.2 541.1,63.0 541.3,62.8 541.5,62.6 541.7,62.4 541.9,62.2 542.1,62.0 542.3,61.8 542.5,61.6 542.7,61.5 542.9,61.4 543.1,61.3 543.3,61.2 543.5,61.2 543.7,61.2 543.9,61.2 544.1,61.2 544.3,61.2 544.5,61.2 544.7,61.2 544.9,61.3 545.1,61.3 545.3,61.4 545.5,61.6 545.7,61.9 546.0,62.2 546.2,62.4 546.4,62.7 546.6,62.9 546.8,63.1 547.0,63.3 547.2,63.6 547.4,63.8 547.6,64.1 547.8,64.4 548.0,64.7 548.2,65.1 548.4,65.5 548.6,65.9 548.8,66.3 549.0,66.8 549.2,67.2 549.4,67.7 549.6,68.2 549.8,68.7 550.0,69.1 550.2,69.6 550.4,70.0 550.6,70.4 550.8,70.8 551.0,71.2 551.2,71.6 551.4,72.0 551.6,72.3 551.8,72.7 552.0,73.1 552.2,73.5 552.4,73.9 552.6,74.3 552.8,74.7 553.0,75.2 553.2,75.7 553.4,76.1 553.6,76.6 553.8,77.1 554.0,77.5 554.2,78.0 554.4,78.4 554.6,78.8 554.8,79.1 555.0,79.4 555.2,79.7 555.4,80.0 555.6,80.3 555.8,80.5 556.0,80.7 556.2,81.0 556.4,81.2 556.6,81.4 556.8,81.6 557.0,81.9 557.2,82.0 557.4,82.1 557.6,82.1 557.8,82.2 558.0,82.2 558.2,82.1 558.4,82.0 558.7,81.9 558.9,81.8 559.1,81.6 559.3,81.4 559.5,81.2 559.7,81.0 559.9,80.8 560.1,80.6 560.3,80.4 560.5,80.2 560.7,80.0 560.9,79.9 561.1,79.7 561.3,79.6 561.5,79.5 561.7,79.4 561.9,79.2 562.1,79.1 562.3,79.0 562.5,78.8 562.7,78.6 562.9,78.4 563.1,78.2 563.3,78.0 563.5,77.7 563.7,77.5 563.9,77.2 564.1,77.0 564.3,76.7 564.5,76.5 564.7,76.4 564.9,76.2 565.1,76.1 565.3,76.0 565.5,75.9 565.7,75.8 565.9,75.8 566.1,75.8 566.3,75.7 566.5,75.7 566.7,75.7 566.9,75.6 567.1,75.6 567.3,75.5 567.5,75.5 567.7,75.4 567.9,75.3 568.1,75.3 568.3,75.3 568.5,75.3 568.7,75.3 568.9,75.3 569.1,75.5 569.3,75.6 569.5,75.8 569.7,76.0 569.9,76.3 570.1,76.6 570.3,76.9 570.5,77.2 570.7,77.6 570.9,78.0 571.1,78.3 571.3,78.8 571.6,79.2 571.8,79.6 572.0,80.0 572.2,80.3 572.4,80.7 572.6,81.1 572.8,81.4 573.0,81.7 573.2,82.1 573.4,82.4 573.6,82.7 573.8,83.0 574.0,83.4 574.2,83.8 574.4,84.1 574.6,84.6 574.8,85.0 575.0,85.4 575.2,85.9 575.4,86.4 575.6,86.8 575.8,87.3 576.0,87.7 576.2,88.2 576.4,88.6 576.6,89.0 576.8,89.3 577.0,89.7 577.2,90.0 577.4,90.3 577.6,90.5 577.8,90.8 578.0,91.1 578.2,91.3 578.4,91.6 578.6,91.8 578.8,92.1 579.0,92.4 579.2,92.7 579.4,93.0 579.6,93.3 579.8,93.6 580.0,93.8 580.2,94.1 580.4,94.4 580.6,94.3 580.8,94.1 581.0,94.0 581.2,93.8 581.4,93.6 581.6,93.3 581.8,93.1 582.0,92.9 582.2,92.7 582.4,92.5 582.6,92.3 582.8,92.2 583.0,92.0 583.2,91.8 583.4,91.7 583.6,91.5 583.8,91.3 584.0,91.1 584.2,90.9 584.5,90.7 584.7,90.4 584.9,90.1 585.1,89.8 585.3,89.5 585.5,89.1 585.7,88.8 585.9,88.4 586.1,88.1 586.3,87.7 586.5,87.4 586.7,87.1 586.9,86.8 587.1,86.6 587.3,86.3 587.5,86.1 587.7,85.9 587.9,85.7 588.1,85.6 588.3,85.4 588.5,85.2 588.7,85.0 588.9,84.8 589.1,84.5 589.3,84.3 589.5,84.0 589.7,83.8 589.9,83.5 590.1,83.3 590.3,83.0 590.5,82.8 590.7,82.6 590.9,82.4 591.1,82.2 591.3,82.1 591.5,82.0 591.7,82.0 591.9,82.0 592.1,82.0 592.3,82.0 592.5,82.1 592.7,82.3 592.9,82.5 593.1,82.7 593.3,83.0 593.5,83.2 593.7,83.4 593.9,83.6 594.1,83.8 594.3,84.0 594.5,84.2 594.7,84.3 594.9,84.5 595.1,84.7 595.3,84.8 595.5,85.0 595.7,85.2 595.9,85.4 596.1,85.6 596.3,85.9 596.5,86.2 596.7,86.5 596.9,86.8 597.2,87.1 597.4,87.5 597.6,87.8 597.8,88.2 598.0,88.5 598.2,88.9 598.4,89.2 598.6,89.5 598.8,89.7 599.0,90.0 599.2,90.2 599.4,90.4 599.6,90.6 599.8,90.8 600.0,91.0 600.2,91.2 600.4,91.4 600.6,91.6 600.8,91.8 601.0,92.0 601.2,92.3 601.4,92.5 601.6,92.8 601.8,93.0 602.0,93.3 602.2,93.5 602.4,93.7 602.6,93.9 602.8,94.0 603.0,94.2 603.2,94.3 603.4,94.2 603.6,94.0 603.8,93.7 604.0,93.5 604.2,93.2 604.4,93.0 604.6,92.8 604.8,92.6 605.0,92.4 605.2,92.1 605.4,91.9 605.6,91.7 605.8,91.5 606.0,91.2 606.2,90.9 606.4,90.6 606.6,90.2 606.8,89.9 607.0,89.5 607.2,89.0 607.4,88.6 607.6,88.1 607.8,87.7 608.0,87.2 608.2,86.8 608.4,86.4 608.6,86.0 608.8,85.6 609.0,85.2 609.2,84.8 609.4,84.5 609.6,84.2 609.8,83.8 610.1,83.5 610.3,83.1 610.5,82.8 610.7,82.4 610.9,82.0 611.1,81.6 611.3,81.2 611.5,80.8 611.7,80.4 611.9,79.9 612.1,79.5 612.3,79.1 612.5,78.7 612.7,78.3 612.9,77.9 613.1,77.6 613.3,77.3 613.5,77.0 613.7,76.8 613.9,76.6 614.1,76.4 614.3,76.2 614.5,76.0 614.7,75.8 614.9,75.6 615.1,75.5 615.3,75.5 615.5,75.5 615.7,75.5 615.9,75.5 616.1,75.4 616.3,75.4 616.5,75.4 616.7,75.4 616.9,75.4 617.1,75.4 617.3,75.4 617.5,75.4 617.7,75.5 617.9,75.5 618.1,75.6 618.3,75.7 618.5,75.9 618.7,76.0 618.9,76.2 619.1,76.5 619.3,76.7 619.5,76.9 619.7,77.1 619.9,77.4 620.1,77.6 620.3,77.8 620.5,78.0 620.7,78.1 620.9,78.3 621.1,78.4 621.3,78.5 621.5,78.7 621.7,78.8 621.9,78.9 622.1,79.0 622.3,79.2 622.5,79.4 622.8,79.6 623.0,79.8 623.2,80.0 623.4,80.2 623.6,80.5 623.8,80.7 624.0,80.9 624.2,81.2 624.4,81.3 624.6,81.5 624.8,81.7 625.0,81.8 625.2,81.9 625.4,81.9 625.6,82.0 625.8,82.0 626.0,82.0 626.2,82.0 626.4,82.0 626.6,82.0 626.8,82.0 627.0,81.9 627.2,81.7 627.4,81.6 627.6,81.4 627.8,81.1 628.0,80.9 628.2,80.6 628.4,80.3 628.6,80.0 628.8,79.6 629.0,79.2 629.2,78.8 629.4,78.4 629.6,77.9 629.8,77.5 630.0,77.0 630.2,76.6 630.4,76.2 630.6,75.8 630.8,75.4 631.0,75.0 631.2,74.6 631.4,74.2 631.6,73.9 631.8,73.5 632.0,73.2 632.2,72.8 632.4,72.4 632.6,72.0 632.8,71.5 633.0,71.1 633.2,70.6 633.4,70.1 633.6,69.6 633.8,69.1 634.0,68.6 634.2,68.1 634.4,67.7 634.6,67.2 634.8,66.8 635.0,66.4 635.2,66.0 635.4,65.7 635.7,65.4 635.9,65.1 636.1,64.8 636.3,64.5 636.5,64.3 636.7,64.0 636.9,63.7 637.1,63.4 637.3,63.1 637.5,62.8 637.7,62.5 637.9,62.2 638.1,61.8 638.3,61.5 638.5,61.2 638.7,61.1 638.9,61.0 639.1,61.0 639.3,61.0 639.5,61.0 639.7,61.0 639.9,61.0 640.1,61.1 640.3,61.1 640.5,61.2 640.7,61.3 640.9,61.4 641.1,61.6 641.3,61.8 641.5,62.0 641.7,62.1 641.9,62.3 642.1,62.5 642.3,62.7 642.5,62.8 642.7,62.9 642.9,63.1 643.1,63.2 643.3,63.3 643.5,63.4 643.7,63.6 643.9,63.7 644.1,63.9 644.3,64.1 644.5,64.3 644.7,64.5 644.9,64.8 645.1,65.0 645.3,65.3 645.5,65.6 645.7,65.9 645.9,66.2 646.1,66.5 646.3,66.8 646.5,67.0 646.7,67.2 646.9,67.4 647.1,67.6 647.3,67.8 647.5,67.9 647.7,68.0 647.9,68.2 648.1,68.3 648.3,68.4 648.6,68.5 648.8,68.7 649.0,68.8 649.2,69.0 649.4,69.1 649.6,69.3 649.8,69.5 650.0,69.7 650.2,69.8 650.4,70.0 650.6,70.1 650.8,69.9 651.0,69.6 651.2,69.3 651.4,69.1 651.6,68.8 651.8,68.4 652.0,68.1 652.2,67.9 652.4,67.6 652.6,67.3 652.8,67.0 653.0,66.8 653.2,66.6 653.4,66.3 653.6,66.1 653.8,65.8 654.0,65.6 654.2,65.3 654.4,65.0 654.6,64.7 654.8,64.3 655.0,64.0 655.2,63.6 655.4,63.2 655.6,62.7 655.8,62.3 656.0,61.9 656.2,61.5 656.4,61.1 656.6,60.7 656.8,60.4 657.0,60.0 657.2,59.7 657.4,59.4 657.6,59.2 657.8,58.9 658.0,58.7 658.2,58.4 658.4,58.2 658.6,57.9 658.8,57.7 659.0,57.4 659.2,57.1 659.4,56.8 659.6,56.5 659.8,56.2 660.0,55.9 660.2,55.6 660.4,55.4 660.6,55.1 660.8,54.9 661.0,54.7 661.3,54.5 661.5,54.4 661.7,54.3 661.9,54.2 662.1,54.1 662.3,54.1 662.5,54.1 662.5,67.8 662.3,67.9 662.1,68.1 661.9,68.3 661.7,68.4 661.5,68.6 661.3,68.7 661.0,68.8 660.8,69.0 660.6,69.1 660.4,69.3 660.2,69.5 660.0,69.8 659.8,70.0 659.6,70.3 659.4,70.6 659.2,71.0 659.0,71.3 658.8,71.7 658.6,72.1 658.4,72.5 658.2,72.9 658.0,73.3 657.8,73.6 657.6,74.0 657.4,74.3 657.2,74.6 657.0,74.9 656.8,75.2 656.6,75.5 656.4,75.8 656.2,76.0 656.0,76.3 655.8,76.6 655.6,76.9 655.4,77.3 655.2,77.6 655.0,78.0 654.8,78.4 654.6,78.8 654.4,79.1 654.2,79.5 654.0,79.9 653.8,80.3 653.6,80.6 653.4,80.9 653.2,81.2 653.0,81.4 652.8,81.6 652.6,81.8 652.4,82.0 652.2,82.2 652.0,82.3 651.8,82.5 651.6,82.6 651.4,82.8 651.2,82.9 651.0,82.9 650.8,82.9 650.6,82.9 650.4,82.9 650.2,82.9 650.0,82.9 649.8,82.9 649.6,82.8 649.4,82.8 649.2,82.8 649.0,82.7 648.8,82.7 648.6,82.6 648.3,82.5 648.1,82.4 647.9,82.2 647.7,82.1 647.5,81.9 647.3,81.6 647.1,81.4 646.9,81.1 646.7,80.8 646.5,80.6 646.3,80.3 646.1,80.1 645.9,79.8 645.7,79.6 645.5,79.4 645.3,79.3 645.1,79.1 644.9,78.9 644.7,78.8 644.5,78.6 644.3,78.5 644.1,78.3 643.9,78.1 643.7,77.9 643.5,77.7 643.3,77.4 643.1,77.2 642.9,76.9 642.7,76.6 642.5,76.4 642.3,76.1 642.1,75.9 641.9,75.6 641.7,75.4 641.5,75.3 641.3,75.1 641.1,75.0 640.9,74.9 640.7,74.9 640.5,74.8 640.3,74.8 640.1,74.8 639.9,74.7 639.7,74.7 639.5,74.7 639.3,74.7 639.1,74.7 638.9,74.8 638.7,75.0 638.5,75.2 638.3,75.5 638.1,75.7 637.9,76.0 637.7,76.3 637.5,76.7 637.3,77.1 637.1,77.5 636.9,77.9 636.7,78.3 636.5,78.7 636.3,79.2 636.1,79.6 635.9,80.0 635.7,80.4 635.4,80.8 635.2,81.2 635.0,81.5 634.8,81.9 634.6,82.2 634.4,82.6 634.2,82.9 634.0,83.3 633.8,83.7 633.6,84.1 633.4,84.6 633.2,85.0 633.0,85.5 632.8,86.0 632.6,86.5 632.4,87.0 632.2,87.5 632.0,88.0 631.8,88.5 631.6,88.9 631.4,89.4 631.2,89.8 631.0,90.1 630.8,90.5 630.6,90.8 630.4,91.1 630.2,91.4 630.0,91.7 629.8,92.0 629.6,92.3 629.4,92.6 629.2,92.9 629.0,93.2 628.8,93.5 628.6,93.9 628.4,94.2 628.2,94.6 628.0,94.9 627.8,95.2 627.6,95.5 627.4,95.6 627.2,95.6 627.0,95.6 626.8,95.6 626.6,95.6 626.4,95.6 626.2,95.6 626.0,95.5 625.8,95.5 625.6,95.4 625.4,95.3 625.2,95.1 625.0,95.0 624.8,94.8 624.6,94.7 624.4,94.5 624.2,94.4 624.0,94.3 623.8,94.1 623.6,94.0 623.4,93.9 623.2,93.9 623.0,93.8 622.8,93.7 622.5,93.6 622.3,93.5 622.1,93.3 621.9,93.2 621.7,93.0 621.5,92.8 621.3,92.5 621.1,92.3 620.9,92.0 620.7,91.8 620.5,91.5 620.3,91.3 620.1,91.0 619.9,90.8 619.7,90.6 619.5,90.4 619.3,90.2 619.1,90.1 618.9,90.0 618.7,89.9 618.5,89.8 618.3,89.7 618.1,89.6 617.9,89.5 617.7,89.4 617.5,89.3 617.3,89.2 617.1,89.1 616.9,88.9 616.7,88.8 616.5,88.7 616.3,88.5 616.1,88.4 615.9,88.3 615.7,88.3 615.5,88.6 615.3,88.9 615.1,89.2 614.9,89.5 614.7,89.9 614.5,90.2 614.3,90.6 614.1,90.9 613.9,91.2 613.7,91.5 613.5,91.8 613.3,92.1 613.1,92.4 612.9,92.7 612.7,93.0 612.5,93.3 612.3,93.6 612.1,93.9 611.9,94.3 611.7,94.6 611.5,95.0 611.3,95.5 611.1,95.9 610.9,96.4 610.7,96.9 610.5,97.3 610.3,97.8 610.1,98.3 609.8,98.7 609.6,99.2 609.4,99.6 609.2,99.9 609.0,100.3 608.8,100.7 608.6,101.0 608.4,101.3 608.2,101.6 608.0,101.9 607.8,102.2 607.6,102.5 607.4,102.9 607.2,103.2 607.0,103.5 606.8,103.9 606.6,104.3 606.4,104.6 606.2,105.0 606.0,105.4 605.8,105.7 605.6,106.0 605.4,106.3 605.2,106.6 605.0,106.8 604.8,107.0 604.6,107.2 604.4,107.3 604.2,107.5 604.0,107.5 603.8,107.5 603.6,107.5 603.4,107.5 603.2,107.4 603.0,107.3 602.8,107.2 602.6,107.0 602.4,106.9 602.2,106.8 602.0,106.7 601.8,106.5 601.6,106.4 601.4,106.3 601.2,106.3 601.0,106.2 600.8,106.0 600.6,105.9 600.4,105.8 600.2,105.6 600.0,105.4 599.8,105.2 599.6,104.9 599.4,104.6 599.2,104.3 599.0,104.0 598.8,103.7 598.6,103.3 598.4,103.0 598.2,102.7 598.0,102.3 597.8,102.1 597.6,101.8 597.4,101.5 597.2,101.3 596.9,101.1 596.7,100.8 596.5,100.6 596.3,100.4 596.1,100.2 595.9,100.0 595.7,99.7 595.5,99.5 595.3,99.2 595.1,98.9 594.9,98.6 594.7,98.3 594.5,98.0 594.3,97.7 594.1,97.4 593.9,97.1 593.7,96.8 593.5,96.6 593.3,96.4 593.1,96.2 592.9,96.1 592.7,96.0 592.5,95.9 592.3,95.8 592.1,95.7 591.9,95.8 591.7,96.0 591.5,96.1 591.3,96.2 591.1,96.3 590.9,96.4 590.7,96.5 590.5,96.6 590.3,96.8 590.1,96.9 589.9,97.1 589.7,97.4 589.5,97.6 589.3,97.9 589.1,98.2 588.9,98.5 588.7,98.8 588.5,99.2 588.3,99.5 588.1,99.8 587.9,100.1 587.7,100.4 587.5,100.7 587.3,101.0 587.1,101.2 586.9,101.4 586.7,101.7 586.5,101.9 586.3,102.1 586.1,102.3 585.9,102.5 585.7,102.8 585.5,103.0 585.3,103.3 585.1,103.6 584.9,103.9 584.7,104.2 584.5,104.5 584.2,104.8 584.0,105.1 583.8,105.4 583.6,105.7 583.4,105.9 583.2,106.1 583.0,106.3 582.8,106.5 582.6,106.6 582.4,106.7 582.2,106.8 582.0,106.8 581.8,106.9 581.6,106.9 581.4,107.0 581.2,107.0 581.0,107.1 580.8,107.2 580.6,107.2 580.4,107.2 580.2,107.2 580.0,107.2 579.8,107.2 579.6,107.1 579.4,107.0 579.2,106.9 579.0,106.7 578.8,106.6 578.6,106.4 578.4,106.2 578.2,106.0 578.0,105.7 577.8,105.4 577.6,105.1 577.4,104.7 577.2,104.4 577.0,104.0 576.8,103.6 576.6,103.2 576.4,102.7 576.2,102.3 576.0,102.0 575.8,101.6 575.6,101.2 575.4,100.9 575.2,100.5 575.0,100.2 574.8,99.9 574.6,99.6 574.4,99.2 574.2,98.9 574.0,98.5 573.8,98.1 573.6,97.7 573.4,97.3 573.2,96.9 573.0,96.4 572.8,96.0 572.6,95.5 572.4,95.0 572.2,94.6 572.0,94.1 571.8,93.7 571.6,93.3 571.3,92.9 571.1,92.6 570.9,92.3 570.7,92.0 570.5,91.7 570.3,91.4 570.1,91.2 569.9,90.9 569.7,90.7 569.5,90.4 569.3,90.2 569.1,89.9 568.9,89.6 568.7,89.3 568.5,89.0 568.3,88.7 568.1,88.4 567.9,88.3 567.7,88.2 567.5,88.3 567.3,88.5 567.1,88.6 566.9,88.8 566.7,88.9 566.5,89.1 566.3,89.3 566.1,89.5 565.9,89.6 565.7,89.8 565.5,89.9 565.3,90.1 565.1,90.2 564.9,90.3 564.7,90.4 564.5,90.5 564.3,90.6 564.1,90.7 563.9,90.9 563.7,91.0 563.5,91.2 563.3,91.4 563.1,91.7 562.9,91.9 562.7,92.1 562.5,92.4 562.3,92.7 562.1,92.9 561.9,93.2 561.7,93.4 561.5,93.6 561.3,93.8 561.1,93.9 560.9,94.1 560.7,94.2 560.5,94.3 560.3,94.3 560.1,94.4 559.9,94.5 559.7,94.5 559.5,94.6 559.3,94.7 559.1,94.7 558.9,94.8 558.7,94.9 558.4,95.1 558.2,95.2 558.0,95.3 557.8,95.4 557.6,95.5 557.4,95.5 557.2,95.6 557.0,95.6 556.8,95.6 556.6,95.6 556.4,95.6 556.2,95.5 556.0,95.2 555.8,95.0 555.6,94.7 555.4,94.3 555.2,94.0 555.0,93.6 554.8,93.2 554.6,92.9 554.4,92.5 554.2,92.1 554.0,91.7 553.8,91.4 553.6,91.0 553.4,90.7 553.2,90.4 553.0,90.0 552.8,89.7 552.6,89.4 552.4,89.0 552.2,88.7 552.0,88.3 551.8,87.9 551.6,87.5 551.4,87.0 551.2,86.5 551.0,86.0 550.8,85.5 550.6,85.0 550.4,84.5 550.2,84.0 550.0,83.5 549.8,83.1 549.6,82.6 549.4,82.2 549.2,81.8 549.0,81.4 548.8,81.1 548.6,80.7 548.4,80.4 548.2,80.1 548.0,79.7 547.8,79.4 547.6,79.0 547.4,78.7 547.2,78.3 547.0,77.9 546.8,77.5 546.6,77.1 546.4,76.8 546.2,76.4 546.0,76.0 545.7,75.7 545.5,75.3 545.3,75.0 545.1,74.8 544.9,74.5 544.7,74.4 544.5,74.5 544.3,74.7 544.1,74.8 543.9,74.9 543.7,75.0 543.5,75.0 543.3,75.1 543.1,75.2 542.9,75.2 542.7,75.3 542.5,75.4 542.3,75.5 542.1,75.6 541.9,75.7 541.7,75.9 541.5,76.0 541.3,76.3 541.1,76.5 540.9,76.7 540.7,77.0 540.5,77.3 540.3,77.6 540.1,77.9 539.9,78.2 539.7,78.4 539.5,78.7 539.3,78.9 539.1,79.1 538.9,79.3 538.7,79.5 538.5,79.6 538.3,79.8 538.1,79.9 537.9,80.1 537.7,80.2 537.5,80.4 537.3,80.6 537.1,80.8 536.9,81.0 536.7,81.2 536.5,81.5 536.3,81.7 536.1,81.9 535.9,82.2 535.7,82.4 535.5,82.6 535.3,82.7 535.1,82.9 534.9,83.0 534.7,83.1 534.5,83.1 534.3,83.1 534.1,83.1 533.9,83.1 533.7,83.1 533.5,83.1 533.3,83.1 533.1,83.1 532.8,83.1 532.6,82.9 532.4,82.7 532.2,82.5 532.0,82.2 531.8,82.0 531.6,81.8 531.4,81.6 531.2,81.5 531.0,81.3 530.8,81.1 530.6,80.9 530.4,80.7 530.2,80.4 530.0,80.2 529.8,79.9 529.6,79.6 529.4,79.2 529.2,78.8 529.0,78.5 528.8,78.1 528.6,77.6 528.4,77.2 528.2,76.8 528.0,76.5 527.8,76.1 527.6,75.7 527.4,75.4 527.2,75.1 527.0,74.8 526.8,74.5 526.6,74.2 526.4,73.9 526.2,73.7 526.0,73.4 525.8,73.1 525.6,72.8 525.4,72.5 525.2,72.1 525.0,71.8 524.8,71.4 524.6,71.1 524.4,70.7 524.2,70.3 524.0,70.0 523.8,69.7 523.6,69.4 523.4,69.1 523.2,68.9 523.0,68.7 522.8,68.5 522.6,68.3 522.4,68.2 522.2,68.1 522.0,68.0 521.8,67.9 521.6,67.8 521.4,67.8 521.2,67.9 521.0,68.0 520.8,68.1 520.6,68.2 520.4,68.3 520.1,68.5 519.9,68.7 519.7,68.9 519.5,69.1 519.3,69.4 519.1,69.7 518.9,70.0 518.7,70.4 518.5,70.7 518.3,71.1 518.1,71.4 517.9,71.8 517.7,72.1 517.5,72.5 517.3,72.8 517.1,73.1 516.9,73.4 516.7,73.7 516.5,73.9 516.3,74.2 516.1,74.5 515.9,74.8 515.7,75.1 515.5,75.4 515.3,75.7 515.1,76.1 514.9,76.5 514.7,76.9 514.5,77.3 514.3,77.7 514.1,78.1 513.9,78.5 513.7,78.9 513.5,79.2 513.3,79.6 513.1,79.9 512.9,80.2 512.7,80.4 512.5,80.7 512.3,80.9 512.1,81.1 511.9,81.3 511.7,81.4 511.5,81.6 511.3,81.8 511.1,82.0 510.9,82.2 510.7,82.5 510.5,82.7 510.3,82.9 510.1,83.1 509.9,83.1 509.7,83.1 509.5,83.1 509.3,83.1 509.1,83.1 508.9,83.1 508.7,83.1 508.5,83.1 508.3,83.1 508.1,83.0 507.9,82.9 507.7,82.7 507.5,82.6 507.2,82.4 507.0,82.1 506.8,81.9 506.6,81.7 506.4,81.4 506.2,81.2 506.0,81.0 505.8,80.8 505.6,80.6 505.4,80.4 505.2,80.2 505.0,80.1 504.8,79.9 504.6,79.8 504.4,79.6 504.2,79.5 504.0,79.3 503.8,79.1 503.6,78.9 503.4,78.7 503.2,78.4 503.0,78.1 502.8,77.9 502.6,77.6 502.4,77.3 502.2,77.0 502.0,76.7 501.8,76.5 501.6,76.2 501.4,76.0 501.2,75.9 501.0,75.7 500.8,75.6 500.6,75.5 500.4,75.4 500.2,75.3 500.0,75.3 499.8,75.2 499.6,75.1 499.4,75.0 499.2,75.0 499.0,74.9 498.8,74.8 498.6,74.6 498.4,74.5 498.2,74.4 498.0,74.5 497.8,74.8 497.6,75.0 497.4,75.3 497.2,75.7 497.0,76.0 496.8,76.4 496.6,76.8 496.4,77.2 496.2,77.6 496.0,77.9 495.8,78.3 495.6,78.7 495.4,79.0 495.2,79.4 495.0,79.7 494.8,80.0 494.6,80.4 494.3,80.7 494.1,81.0 493.9,81.4 493.7,81.8 493.5,82.2 493.3,82.6 493.1,83.1 492.9,83.5 492.7,84.0 492.5,84.5 492.3,85.0 492.1,85.6 491.9,86.1 491.7,86.5 491.5,87.0 491.3,87.5 491.1,87.9 490.9,88.3 490.7,88.7 490.5,89.0 490.3,89.4 490.1,89.7 489.9,90.0 489.7,90.3 489.5,90.7 489.3,91.0 489.1,91.4 488.9,91.7 488.7,92.1 488.5,92.5 488.3,92.9 488.1,93.3 487.9,93.6 487.7,94.0 487.5,94.4 487.3,94.7 487.1,95.0 486.9,95.2 486.7,95.5 486.5,95.6 486.3,95.6 486.1,95.6 485.9,95.6 485.7,95.6 485.5,95.5 485.3,95.4 485.1,95.4 484.9,95.3 484.7,95.2 484.5,95.0 484.3,94.9 484.1,94.8 483.9,94.7 483.7,94.7 483.5,94.6 483.3,94.5 483.1,94.5 482.9,94.4 482.7,94.4 482.5,94.3 482.3,94.2 482.1,94.1 481.9,93.9 481.6,93.8 481.4,93.6 481.2,93.4 481.0,93.2 480.8,92.9 480.6,92.7 480.4,92.4 480.2,92.1 480.0,91.9 479.8,91.6 479.6,91.4 479.4,91.2 479.2,91.0 479.0,90.9 478.8,90.8 478.6,90.6 478.4,90.5 478.2,90.4 478.0,90.3 477.8,90.2 477.6,90.1 477.4,89.9 477.2,89.8 477.0,89.6 476.8,89.5 476.6,89.3 476.4,89.1 476.2,88.9 476.0,88.7 475.8,88.6 475.6,88.4 475.4,88.3 475.2,88.2 475.0,88.3 474.8,88.4 474.6,88.7 474.4,89.0 474.2,89.3 474.0,89.6 473.8,89.9 473.6,90.2 473.4,90.4 473.2,90.7 473.0,90.9 472.8,91.2 472.6,91.4 472.4,91.7 472.2,92.0 472.0,92.3 471.8,92.6 471.6,92.9 471.4,93.3 471.2,93.7 471.0,94.1 470.8,94.6 470.6,95.0 470.4,95.5 470.2,96.0 470.0,96.4 469.8,96.9 469.6,97.3 469.4,97.7 469.2,98.1 469.0,98.5 468.7,98.9 468.5,99.2 468.3,99.5 468.1,99.9 467.9,100.2 467.7,100.5 467.5,100.9 467.3,101.2 467.1,101.6 466.9,102.0 466.7,102.4 466.5,102.8 466.3,103.2 466.1,103.6 465.9,104.0 465.7,104.4 465.5,104.7 465.3,105.1 465.1,105.4 464.9,105.7 464.7,105.9 464.5,106.2 464.3,106.4 464.1,106.5 463.9,106.7 463.7,106.8 463.5,107.0 463.3,107.1 463.1,107.2 462.9,107.2 462.7,107.2 462.5,107.2 462.3,107.2 462.1,107.2 461.9,107.1 461.7,107.0 461.5,107.0 461.3,106.9 461.1,106.9 460.9,106.8 460.7,106.8 460.5,106.7 460.3,106.6 460.1,106.5 459.9,106.3 459.7,106.1 459.5,105.9 459.3,105.7 459.1,105.4 458.9,105.1 458.7,104.8 458.5,104.5 458.3,104.2 458.1,103.9 457.9,103.6 457.7,103.3 457.5,103.0 457.3,102.8 457.1,102.5 456.9,102.3 456.7,102.1 456.5,101.9 456.3,101.7 456.0,101.5 455.8,101.2 455.6,101.0 455.4,100.7 455.2,100.4 455.0,100.1 454.8,99.8 454.6,99.5 454.4,99.1 454.2,98.8 454.0,98.5 453.8,98.2 453.6,97.9 453.4,97.6 453.2,97.4 453.0,97.1 452.8,96.9 452.6,96.8 452.4,96.6 452.2,96.5 452.0,96.4 451.8,96.3 451.6,96.2 451.4,96.1 451.2,96.0 451.0,95.8 450.8,95.7 450.6,95.8 450.4,95.8 450.2,95.9 450.0,96.1 449.8,96.2 449.6,96.4 449.4,96.6 449.2,96.9 449.0,97.1 448.8,97.4 448.6,97.7 448.4,98.0 448.2,98.3 448.0,98.6 447.8,98.9 447.6,99.2 447.4,99.5 447.2,99.7 447.0,100.0 446.8,100.2 446.6,100.4 446.4,100.6 446.2,100.8 446.0,101.0 445.8,101.3 445.6,101.5 445.4,101.8 445.2,102.1 445.0,102.4 444.8,102.7 444.6,103.0 444.4,103.3 444.2,103.7 444.0,104.0 443.8,104.3 443.6,104.6 443.4,104.9 443.1,105.2 442.9,105.4 442.7,105.6 442.5,105.8 442.3,105.9 442.1,106.0 441.9,106.1 441.7,106.2 441.5,106.3 441.3,106.4 441.1,106.5 440.9,106.7 440.7,106.8 440.5,106.9 440.3,107.0 440.1,107.2 439.9,107.3 439.7,107.4 439.5,107.5 439.3,107.5 439.1,107.5 438.9,107.5 438.7,107.5 438.5,107.3 438.3,107.2 438.1,107.0 437.9,106.8 437.7,106.6 437.5,106.3 437.3,106.0 437.1,105.7 436.9,105.3 436.7,105.0 436.5,104.6 436.3,104.3 436.1,103.9 435.9,103.5 435.7,103.2 435.5,102.9 435.3,102.5 435.1,102.2 434.9,101.9 434.7,101.6 434.5,101.3 434.3,101.0 434.1,100.7 433.9,100.3 433.7,100.0 433.5,99.6 433.3,99.1 433.1,98.7 432.9,98.3 432.7,97.8 432.5,97.3 432.3,96.8 432.1,96.4 431.9,95.9 431.7,95.5 431.5,95.0 431.3,94.6 431.1,94.3 430.9,93.9 430.7,93.6 430.4,93.3 430.2,93.0 430.0,92.7 429.8,92.4 429.6,92.1 429.4,91.8 429.2,91.5 429.0,91.2 428.8,90.9 428.6,90.5 428.4,90.2 428.2,89.8 428.0,89.5 427.8,89.2 427.6,88.9 427.4,88.6 427.2,88.3 427.0,88.3 426.8,88.4 426.6,88.5 426.4,88.7 426.2,88.8 426.0,89.0 425.8,89.1 425.6,89.2 425.4,89.3 425.2,89.4 425.0,89.5 424.8,89.6 424.6,89.7 424.4,89.8 424.2,89.8 424.0,89.9 423.8,90.1 423.6,90.2 423.4,90.4 423.2,90.6 423.0,90.8 422.8,91.0 422.6,91.3 422.4,91.5 422.2,91.8 422.0,92.1 421.8,92.3 421.6,92.6 421.4,92.8 421.2,93.0 421.0,93.2 420.8,93.3 420.6,93.4 420.4,93.6 420.2,93.7 420.0,93.7 419.8,93.8 419.6,93.9 419.4,94.0 419.2,94.1 419.0,94.3 418.8,94.4 418.6,94.5 418.4,94.7 418.2,94.9 418.0,95.0 417.8,95.2 417.5,95.3 417.3,95.4 417.1,95.5 416.9,95.6 416.7,95.6 416.5,95.6 416.3,95.6 416.1,95.6 415.9,95.6 415.7,95.6 415.5,95.5 415.3,95.5 415.1,95.2 414.9,94.9 414.7,94.6 414.5,94.2 414.3,93.9 414.1,93.5 413.9,93.2 413.7,92.9 413.5,92.6 413.3,92.3 413.1,92.0 412.9,91.7 412.7,91.4 412.5,91.1 412.3,90.8 412.1,90.5 411.9,90.1 411.7,89.8 411.5,89.3 411.3,88.9 411.1,88.5 410.9,88.0 410.7,87.5 410.5,87.0 410.3,86.5 410.1,86.0 409.9,85.5 409.7,85.0 409.5,84.6 409.3,84.1 409.1,83.7 408.9,83.3 408.7,83.0 408.5,82.6 408.3,82.2 408.1,81.9 407.9,81.5 407.7,81.2 407.5,80.8 407.3,80.4 407.1,80.0 406.9,79.6 406.7,79.2 406.5,78.7 406.3,78.3 406.1,77.9 405.9,77.5 405.7,77.1 405.5,76.7 405.3,76.3 405.1,76.0 404.9,75.7 404.6,75.5 404.4,75.2 404.2,75.0 404.0,74.9 403.8,74.7 403.6,74.7 403.4,74.7 403.2,74.7 403.0,74.7 402.8,74.8 402.6,74.8 402.4,74.8 402.2,74.8 402.0,74.9 401.8,75.0 401.6,75.1 401.4,75.3 401.2,75.4 401.0,75.6 400.8,75.9 400.6,76.1 400.4,76.4 400.2,76.6 400.0,76.9 399.8,77.2 399.6,77.4 399.4,77.7 399.2,77.9 399.0,78.1 398.8,78.3 398.6,78.4 398.4,78.6 398.2,78.8 398.0,78.9 397.8,79.1 397.6,79.2 397.4,79.4 397.2,79.6 397.0,79.9 396.8,80.1 396.6,80.3 396.4,80.6 396.2,80.9 396.0,81.1 395.8,81.4 395.6,81.6 395.4,81.9 395.2,82.1 395.0,82.2 394.8,82.4 394.6,82.5 394.4,82.6 394.2,82.7 394.0,82.7 393.8,82.8 393.6,82.8 393.4,82.8 393.2,82.8 393.0,82.9 392.8,82.9 392.6,82.9 392.4,82.9 392.2,82.9 391.9,82.9 391.7,82.9 391.5,82.8 391.3,82.6 391.1,82.5 390.9,82.3 390.7,82.2 390.5,82.0 390.3,81.8 390.1,81.6 389.9,81.4 389.7,81.2 389.5,80.9 389.3,80.6 389.1,80.2 388.9,79.9 388.7,79.5 388.5,79.1 388.3,78.7 388.1,78.4 387.9,78.0 387.7,77.6 387.5,77.3 387.3,76.9 387.1,76.6 386.9,76.3 386.7,76.1 386.5,75.8 386.3,75.5 386.1,75.2 385.9,74.9 385.7,74.6 385.5,74.3 385.3,74.0 385.1,73.6 384.9,73.2 384.7,72.9 384.5,72.5 384.3,72.1 384.1,71.7 383.9,71.3 383.7,71.0 383.5,70.6 383.3,70.3 383.1,70.0 382.9,69.8 382.7,69.5 382.5,69.3 382.3,69.2 382.1,69.0 381.9,68.9 381.7,68.7 381.5,68.6 381.3,68.4 381.1,68.3 380.9,68.1 380.7,67.9 380.5,67.8" fill="#000"/>
<text x="521.32" y="152.70" text-anchor="middle" font-size="13.6" font-weight="bold">imf 1</text>
<rect x="369.17" y="160.85" width="304.29" height="57.95" fill="none" stroke="#1a1a1a" stroke-width="1.15"/>
<line x1="380.46" y1="218.80" x2="380.46" y2="225.55" stroke="#222" stroke-width="1.1"/>
<text x="380.46" y="242.20" text-anchor="middle" font-size="10.9">0.0</text>
<line x1="436.86" y1="218.80" x2="436.86" y2="225.55" stroke="#222" stroke-width="1.1"/>
<text x="436.86" y="242.20" text-anchor="middle" font-size="10.9">0.2</text>
<line x1="493.26" y1="218.80" x2="493.26" y2="225.55" stroke="#222" stroke-width="1.1"/>
<text x="493.26" y="242.20" text-anchor="middle" font-size="10.9">0.4</text>
<line x1="549.66" y1="218.80" x2="549.66" y2="225.55" stroke="#222" stroke-width="1.1"/>
<text x="549.66" y="242.20" text-anchor="middle" font-size="10.9">0.6</text>
<line x1="606.06" y1="218.80" x2="606.06" y2="225.55" stroke="#222" stroke-width="1.1"/>
<text x="606.06" y="242.20" text-anchor="middle" font-size="10.9">0.8</text>
<line x1="662.46" y1="218.80" x2="662.46" y2="225.55" stroke="#222" stroke-width="1.1"/>
<text x="662.46" y="242.20" text-anchor="middle" font-size="10.9">1.0</text>
<line x1="362.42" y1="217.82" x2="369.17" y2="217.82" stroke="#222" stroke-width="1.1"/>
<text x="354.37" y="217.82" transform="rotate(-90 354.37 217.82)" text-anchor="middle" font-size="10.9">−0.4</text>
<line x1="362.42" y1="203.82" x2="369.17" y2="203.82" stroke="#222" stroke-width="1.1"/>
<line x1="362.42" y1="189.82" x2="369.17" y2="189.82" stroke="#222" stroke-width="1.1"/>
<text x="354.37" y="189.82" transform="rotate(-90 354.37 189.82)" text-anchor="middle" font-size="10.9">0.0</text>
<line x1="362.42" y1="175.82" x2="369.17" y2="175.82" stroke="#222" stroke-width="1.1"/>
<line x1="362.42" y1="161.82" x2="369.17" y2="161.82" stroke="#222" stroke-width="1.1"/>
<text x="354.37" y="161.82" transform="rotate(-90 354.37 161.82)" text-anchor="middle" font-size="10.9">0.4</text>
<line x1="369.17" y1="189.82" x2="673.46" y2="189.82" stroke="#000" stroke-width="1.1" stroke-dasharray="4.9 6.016" stroke-dashoffset="1.19"/>
<polygon points="380.5,183.1 380.7,183.0 380.9,182.9 381.1,182.9 381.3,182.9 381.5,182.9 381.7,182.9 381.9,182.9 382.1,183.0 382.3,183.1 382.5,183.2 382.7,183.3 382.9,183.5 383.1,183.6 383.3,183.8 383.5,183.9 383.7,183.9 383.9,183.7 384.1,183.6 384.3,183.4 384.5,183.3 384.7,183.1 384.9,183.0 385.1,183.0 385.3,182.9 385.5,182.9 385.7,182.9 385.9,182.9 386.1,182.9 386.3,182.9 386.5,183.0 386.7,183.1 386.9,183.2 387.1,183.4 387.3,183.5 387.5,183.7 387.7,183.8 387.9,183.9 388.1,183.8 388.3,183.7 388.5,183.6 388.7,183.4 388.9,183.2 389.1,183.1 389.3,183.0 389.5,182.9 389.7,182.9 389.9,182.9 390.1,182.9 390.3,182.9 390.5,182.9 390.7,183.0 390.9,183.0 391.1,183.1 391.3,183.3 391.5,183.4 391.7,183.6 391.9,183.7 392.2,183.9 392.4,183.9 392.6,183.8 392.8,183.7 393.0,183.5 393.2,183.3 393.4,183.2 393.6,183.1 393.8,183.0 394.0,182.9 394.2,182.9 394.4,182.9 394.6,182.9 394.8,182.9 395.0,182.9 395.2,183.0 395.4,183.0 395.6,183.2 395.8,183.3 396.0,183.5 396.2,183.6 396.4,183.8 396.6,183.9 396.8,183.9 397.0,183.8 397.2,183.6 397.4,183.5 397.6,183.3 397.8,183.2 398.0,183.0 398.2,183.0 398.4,182.9 398.6,182.9 398.8,182.9 399.0,182.9 399.2,182.9 399.4,182.9 399.6,183.0 399.8,183.1 400.0,183.2 400.2,183.4 400.4,183.5 400.6,183.7 400.8,183.8 401.0,183.9 401.2,183.9 401.4,183.7 401.6,183.6 401.8,183.4 402.0,183.3 402.2,183.1 402.4,183.0 402.6,183.0 402.8,182.9 403.0,182.9 403.2,182.9 403.4,182.9 403.6,182.9 403.8,182.9 404.0,183.0 404.2,183.1 404.4,183.2 404.6,183.4 404.9,183.6 405.1,183.7 405.3,183.8 405.5,183.9 405.7,183.8 405.9,183.7 406.1,183.5 406.3,183.4 406.5,183.2 406.7,183.1 406.9,183.0 407.1,182.9 407.3,182.9 407.5,182.9 407.7,182.9 407.9,182.9 408.1,182.9 408.3,183.0 408.5,183.0 408.7,183.1 408.9,183.3 409.1,183.4 409.3,183.6 409.5,183.7 409.7,183.9 409.9,183.9 410.1,183.8 410.3,183.6 410.5,183.5 410.7,183.3 410.9,183.2 411.1,183.1 411.3,183.0 411.5,182.9 411.7,182.9 411.9,182.9 412.1,182.9 412.3,182.9 412.5,182.9 412.7,183.0 412.9,183.1 413.1,183.2 413.3,183.3 413.5,183.5 413.7,183.6 413.9,183.8 414.1,183.9 414.3,183.9 414.5,183.8 414.7,183.6 414.9,183.4 415.1,183.3 415.3,183.2 415.5,183.0 415.7,183.0 415.9,182.9 416.1,182.9 416.3,182.9 416.5,182.9 416.7,182.9 416.9,182.9 417.1,183.0 417.3,183.1 417.5,183.2 417.8,183.4 418.0,183.5 418.2,183.7 418.4,183.8 418.6,183.9 418.8,183.8 419.0,183.7 419.2,183.6 419.4,183.4 419.6,183.2 419.8,183.1 420.0,183.0 420.2,182.9 420.4,182.9 420.6,182.9 420.8,182.9 421.0,182.9 421.2,182.9 421.4,182.9 421.6,183.0 421.8,183.1 422.0,183.3 422.2,183.4 422.4,183.6 422.6,183.7 422.8,183.9 423.0,183.9 423.2,183.8 423.4,183.7 423.6,183.5 423.8,183.4 424.0,183.2 424.2,183.1 424.4,183.0 424.6,182.9 424.8,182.9 425.0,182.9 425.2,182.9 425.4,182.9 425.6,182.9 425.8,183.0 426.0,183.0 426.2,183.2 426.4,183.3 426.6,183.5 426.8,183.6 427.0,183.8 427.2,183.9 427.4,183.9 427.6,183.8 427.8,183.6 428.0,183.5 428.2,183.3 428.4,183.2 428.6,183.1 428.8,183.0 429.0,182.9 429.2,182.9 429.4,182.9 429.6,182.9 429.8,182.9 430.0,182.9 430.2,183.0 430.4,183.1 430.7,183.2 430.9,183.3 431.1,183.5 431.3,183.7 431.5,183.8 431.7,183.9 431.9,183.9 432.1,183.7 432.3,183.6 432.5,183.4 432.7,183.3 432.9,183.1 433.1,183.0 433.3,183.0 433.5,182.9 433.7,182.9 433.9,182.9 434.1,182.9 434.3,182.9 434.5,182.9 434.7,183.0 434.9,183.1 435.1,183.2 435.3,183.4 435.5,183.5 435.7,183.7 435.9,183.8 436.1,183.9 436.3,183.8 436.5,183.7 436.7,183.5 436.9,183.4 437.1,183.2 437.3,183.1 437.5,183.0 437.7,182.9 437.9,182.9 438.1,182.9 438.3,182.9 438.5,182.9 438.7,182.9 438.9,183.0 439.1,183.0 439.3,183.1 439.5,183.3 439.7,183.4 439.9,183.6 440.1,183.7 440.3,183.9 440.5,183.9 440.7,183.8 440.9,183.7 441.1,183.5 441.3,183.3 441.5,183.2 441.7,183.1 441.9,183.0 442.1,182.9 442.3,182.9 442.5,182.9 442.7,182.9 442.9,182.9 443.1,182.9 443.4,183.0 443.6,183.1 443.8,183.2 444.0,183.3 444.2,183.5 444.4,183.6 444.6,183.8 444.8,183.9 445.0,183.9 445.2,183.8 445.4,183.6 445.6,183.5 445.8,183.3 446.0,183.2 446.2,183.0 446.4,183.0 446.6,182.9 446.8,182.9 447.0,182.9 447.2,182.9 447.4,182.9 447.6,182.9 447.8,183.0 448.0,183.1 448.2,183.2 448.4,183.4 448.6,183.5 448.8,183.7 449.0,183.8 449.2,183.9 449.4,183.9 449.6,183.7 449.8,183.6 450.0,183.4 450.2,183.3 450.4,183.1 450.6,183.0 450.8,182.9 451.0,182.9 451.2,182.9 451.4,182.9 451.6,182.9 451.8,182.9 452.0,182.9 452.2,183.0 452.4,183.1 452.6,183.2 452.8,183.4 453.0,183.6 453.2,183.7 453.4,183.8 453.6,183.9 453.8,183.8 454.0,183.7 454.2,183.5 454.4,183.4 454.6,183.2 454.8,183.1 455.0,183.0 455.2,182.9 455.4,182.9 455.6,182.9 455.8,182.9 456.0,182.9 456.3,182.9 456.5,183.0 456.7,183.0 456.9,183.1 457.1,183.3 457.3,183.4 457.5,183.6 457.7,183.7 457.9,183.9 458.1,183.9 458.3,183.8 458.5,183.6 458.7,183.5 458.9,183.3 459.1,183.2 459.3,183.1 459.5,183.0 459.7,182.9 459.9,182.9 460.1,182.9 460.3,182.9 460.5,182.9 460.7,182.9 460.9,183.0 461.1,183.1 461.3,183.2 461.5,183.3 461.7,183.5 461.9,183.6 462.1,183.8 462.3,183.9 462.5,183.9 462.7,183.7 462.9,183.6 463.1,183.4 463.3,183.3 463.5,183.1 463.7,183.0 463.9,183.0 464.1,182.9 464.3,182.9 464.5,182.9 464.7,182.9 464.9,182.9 465.1,182.9 465.3,183.0 465.5,183.1 465.7,183.2 465.9,183.4 466.1,183.5 466.3,183.7 466.5,183.8 466.7,183.9 466.9,183.8 467.1,183.7 467.3,183.6 467.5,183.4 467.7,183.2 467.9,183.1 468.1,183.0 468.3,182.9 468.5,182.9 468.7,182.9 469.0,182.9 469.2,182.9 469.4,182.9 469.6,183.0 469.8,183.0 470.0,183.1 470.2,183.3 470.4,183.4 470.6,183.6 470.8,183.7 471.0,183.9 471.2,183.9 471.4,183.8 471.6,183.7 471.8,183.5 472.0,183.4 472.2,183.2 472.4,183.1 472.6,183.0 472.8,182.9 473.0,182.9 473.2,182.9 473.4,182.9 473.6,182.9 473.8,182.9 474.0,183.0 474.2,183.0 474.4,183.2 474.6,183.3 474.8,183.5 475.0,183.6 475.2,183.8 475.4,183.9 475.6,183.9 475.8,183.8 476.0,183.6 476.2,183.5 476.4,183.3 476.6,183.2 476.8,183.1 477.0,183.0 477.2,182.9 477.4,182.9 477.6,182.9 477.8,182.9 478.0,182.9 478.2,182.9 478.4,183.0 478.6,183.1 478.8,183.2 479.0,183.3 479.2,183.5 479.4,183.7 479.6,183.8 479.8,183.9 480.0,183.9 480.2,183.7 480.4,183.6 480.6,183.4 480.8,183.3 481.0,183.1 481.2,183.0 481.4,183.0 481.6,182.9 481.9,182.9 482.1,182.9 482.3,182.9 482.5,182.9 482.7,182.9 482.9,183.0 483.1,183.1 483.3,183.2 483.5,183.4 483.7,183.5 483.9,183.7 484.1,183.8 484.3,183.9 484.5,183.8 484.7,183.7 484.9,183.5 485.1,183.4 485.3,183.2 485.5,183.1 485.7,183.0 485.9,182.9 486.1,182.9 486.3,182.9 486.5,182.9 486.7,182.9 486.9,182.9 487.1,183.0 487.3,183.0 487.5,183.1 487.7,183.3 487.9,183.4 488.1,183.6 488.3,183.7 488.5,183.9 488.7,183.9 488.9,183.8 489.1,183.6 489.3,183.5 489.5,183.3 489.7,183.2 489.9,183.1 490.1,183.0 490.3,182.9 490.5,182.9 490.7,182.9 490.9,182.9 491.1,182.9 491.3,182.9 491.5,183.0 491.7,183.1 491.9,183.2 492.1,183.3 492.3,183.5 492.5,183.6 492.7,183.8 492.9,183.9 493.1,183.9 493.3,183.8 493.5,183.6 493.7,183.5 493.9,183.3 494.1,183.2 494.3,183.0 494.6,183.0 494.8,182.9 495.0,182.9 495.2,182.9 495.4,182.9 495.6,182.9 495.8,182.9 496.0,183.0 496.2,183.1 496.4,183.2 496.6,183.4 496.8,183.5 497.0,183.7 497.2,183.8 497.4,183.9 497.6,183.8 497.8,183.7 498.0,183.6 498.2,183.4 498.4,183.3 498.6,183.1 498.8,183.0 499.0,182.9 499.2,182.9 499.4,182.9 499.6,182.9 499.8,182.9 500.0,182.9 500.2,182.9 500.4,183.0 500.6,183.1 500.8,183.3 501.0,183.4 501.2,183.6 501.4,183.7 501.6,183.8 501.8,183.9 502.0,183.8 502.2,183.7 502.4,183.5 502.6,183.4 502.8,183.2 503.0,183.1 503.2,183.0 503.4,182.9 503.6,182.9 503.8,182.9 504.0,182.9 504.2,182.9 504.4,182.9 504.6,183.0 504.8,183.0 505.0,183.2 505.2,183.3 505.4,183.5 505.6,183.6 505.8,183.8 506.0,183.9 506.2,183.9 506.4,183.8 506.6,183.6 506.8,183.5 507.0,183.3 507.2,183.2 507.5,183.1 507.7,183.0 507.9,182.9 508.1,182.9 508.3,182.9 508.5,182.9 508.7,182.9 508.9,182.9 509.1,183.0 509.3,183.1 509.5,183.2 509.7,183.3 509.9,183.5 510.1,183.7 510.3,183.8 510.5,183.9 510.7,183.9 510.9,183.7 511.1,183.6 511.3,183.4 511.5,183.3 511.7,183.1 511.9,183.0 512.1,183.0 512.3,182.9 512.5,182.9 512.7,182.9 512.9,182.9 513.1,182.9 513.3,182.9 513.5,183.0 513.7,183.1 513.9,183.2 514.1,183.4 514.3,183.5 514.5,183.7 514.7,183.8 514.9,183.9 515.1,183.8 515.3,183.7 515.5,183.5 515.7,183.4 515.9,183.2 516.1,183.1 516.3,183.0 516.5,182.9 516.7,182.9 516.9,182.9 517.1,182.9 517.3,182.9 517.5,182.9 517.7,183.0 517.9,183.0 518.1,183.1 518.3,183.3 518.5,183.4 518.7,183.6 518.9,183.7 519.1,183.9 519.3,183.9 519.5,183.8 519.7,183.7 519.9,183.5 520.1,183.3 520.4,183.2 520.6,183.1 520.8,183.0 521.0,182.9 521.2,182.9 521.4,182.9 521.6,182.9 521.8,182.9 522.0,182.9 522.2,183.0 522.4,183.1 522.6,183.2 522.8,183.3 523.0,183.5 523.2,183.6 523.4,183.8 523.6,183.9 523.8,183.9 524.0,183.8 524.2,183.6 524.4,183.5 524.6,183.3 524.8,183.2 525.0,183.0 525.2,183.0 525.4,182.9 525.6,182.9 525.8,182.9 526.0,182.9 526.2,182.9 526.4,182.9 526.6,183.0 526.8,183.1 527.0,183.2 527.2,183.4 527.4,183.5 527.6,183.7 527.8,183.8 528.0,183.9 528.2,183.9 528.4,183.7 528.6,183.6 528.8,183.4 529.0,183.3 529.2,183.1 529.4,183.0 529.6,183.0 529.8,182.9 530.0,182.9 530.2,182.9 530.4,182.9 530.6,182.9 530.8,182.9 531.0,183.0 531.2,183.1 531.4,183.2 531.6,183.4 531.8,183.6 532.0,183.7 532.2,183.8 532.4,183.9 532.6,183.8 532.8,183.7 533.1,183.5 533.3,183.4 533.5,183.2 533.7,183.1 533.9,183.0 534.1,182.9 534.3,182.9 534.5,182.9 534.7,182.9 534.9,182.9 535.1,182.9 535.3,183.0 535.5,183.0 535.7,183.1 535.9,183.3 536.1,183.4 536.3,183.6 536.5,183.7 536.7,183.9 536.9,183.9 537.1,183.8 537.3,183.6 537.5,183.5 537.7,183.3 537.9,183.2 538.1,183.1 538.3,183.0 538.5,182.9 538.7,182.9 538.9,182.9 539.1,182.9 539.3,182.9 539.5,182.9 539.7,183.0 539.9,183.1 540.1,183.2 540.3,183.3 540.5,183.5 540.7,183.6 540.9,183.8 541.1,183.9 541.3,183.9 541.5,183.7 541.7,183.6 541.9,183.4 542.1,183.3 542.3,183.1 542.5,183.0 542.7,183.0 542.9,182.9 543.1,182.9 543.3,182.9 543.5,182.9 543.7,182.9 543.9,182.9 544.1,183.0 544.3,183.1 544.5,183.2 544.7,183.4 544.9,183.5 545.1,183.7 545.3,183.8 545.5,183.9 545.7,183.8 546.0,183.7 546.2,183.6 546.4,183.4 546.6,183.2 546.8,183.1 547.0,183.0 547.2,182.9 547.4,182.9 547.6,182.9 547.8,182.9 548.0,182.9 548.2,182.9 548.4,182.9 548.6,183.0 548.8,183.1 549.0,183.3 549.2,183.4 549.4,183.6 549.6,183.7 549.8,183.9 550.0,183.9 550.2,183.8 550.4,183.7 550.6,183.5 550.8,183.4 551.0,183.2 551.2,183.1 551.4,183.0 551.6,182.9 551.8,182.9 552.0,182.9 552.2,182.9 552.4,182.9 552.6,182.9 552.8,183.0 553.0,183.0 553.2,183.2 553.4,183.3 553.6,183.5 553.8,183.6 554.0,183.8 554.2,183.9 554.4,183.9 554.6,183.8 554.8,183.6 555.0,183.5 555.2,183.3 555.4,183.2 555.6,183.1 555.8,183.0 556.0,182.9 556.2,182.9 556.4,182.9 556.6,182.9 556.8,182.9 557.0,182.9 557.2,183.0 557.4,183.1 557.6,183.2 557.8,183.3 558.0,183.5 558.2,183.7 558.4,183.8 558.7,183.9 558.9,183.9 559.1,183.7 559.3,183.6 559.5,183.4 559.7,183.3 559.9,183.1 560.1,183.0 560.3,183.0 560.5,182.9 560.7,182.9 560.9,182.9 561.1,182.9 561.3,182.9 561.5,182.9 561.7,183.0 561.9,183.1 562.1,183.2 562.3,183.4 562.5,183.5 562.7,183.7 562.9,183.8 563.1,183.9 563.3,183.8 563.5,183.7 563.7,183.5 563.9,183.4 564.1,183.2 564.3,183.1 564.5,183.0 564.7,182.9 564.9,182.9 565.1,182.9 565.3,182.9 565.5,182.9 565.7,182.9 565.9,183.0 566.1,183.0 566.3,183.1 566.5,183.3 566.7,183.4 566.9,183.6 567.1,183.7 567.3,183.9 567.5,183.9 567.7,183.8 567.9,183.7 568.1,183.5 568.3,183.3 568.5,183.2 568.7,183.1 568.9,183.0 569.1,182.9 569.3,182.9 569.5,182.9 569.7,182.9 569.9,182.9 570.1,182.9 570.3,183.0 570.5,183.1 570.7,183.2 570.9,183.3 571.1,183.5 571.3,183.6 571.6,183.8 571.8,183.9 572.0,183.9 572.2,183.8 572.4,183.6 572.6,183.5 572.8,183.3 573.0,183.2 573.2,183.0 573.4,183.0 573.6,182.9 573.8,182.9 574.0,182.9 574.2,182.9 574.4,182.9 574.6,182.9 574.8,183.0 575.0,183.1 575.2,183.2 575.4,183.4 575.6,183.5 575.8,183.7 576.0,183.8 576.2,183.9 576.4,183.8 576.6,183.7 576.8,183.6 577.0,183.4 577.2,183.3 577.4,183.1 577.6,183.0 577.8,182.9 578.0,182.9 578.2,182.9 578.4,182.9 578.6,182.9 578.8,182.9 579.0,182.9 579.2,183.0 579.4,183.1 579.6,183.3 579.8,183.4 580.0,183.6 580.2,183.7 580.4,183.8 580.6,183.9 580.8,183.8 581.0,183.7 581.2,183.5 581.4,183.4 581.6,183.2 581.8,183.1 582.0,183.0 582.2,182.9 582.4,182.9 582.6,182.9 582.8,182.9 583.0,182.9 583.2,182.9 583.4,183.0 583.6,183.0 583.8,183.2 584.0,183.3 584.2,183.4 584.5,183.6 584.7,183.8 584.9,183.9 585.1,183.9 585.3,183.8 585.5,183.6 585.7,183.5 585.9,183.3 586.1,183.2 586.3,183.1 586.5,183.0 586.7,182.9 586.9,182.9 587.1,182.9 587.3,182.9 587.5,182.9 587.7,182.9 587.9,183.0 588.1,183.1 588.3,183.2 588.5,183.3 588.7,183.5 588.9,183.6 589.1,183.8 589.3,183.9 589.5,183.9 589.7,183.7 589.9,183.6 590.1,183.4 590.3,183.3 590.5,183.1 590.7,183.0 590.9,183.0 591.1,182.9 591.3,182.9 591.5,182.9 591.7,182.9 591.9,182.9 592.1,182.9 592.3,183.0 592.5,183.1 592.7,183.2 592.9,183.4 593.1,183.5 593.3,183.7 593.5,183.8 593.7,183.9 593.9,183.8 594.1,183.7 594.3,183.6 594.5,183.4 594.7,183.2 594.9,183.1 595.1,183.0 595.3,182.9 595.5,182.9 595.7,182.9 595.9,182.9 596.1,182.9 596.3,182.9 596.5,183.0 596.7,183.0 596.9,183.1 597.2,183.3 597.4,183.4 597.6,183.6 597.8,183.7 598.0,183.9 598.2,183.9 598.4,183.8 598.6,183.7 598.8,183.5 599.0,183.4 599.2,183.2 599.4,183.1 599.6,183.0 599.8,182.9 600.0,182.9 600.2,182.9 600.4,182.9 600.6,182.9 600.8,182.9 601.0,183.0 601.2,183.0 601.4,183.2 601.6,183.3 601.8,183.5 602.0,183.6 602.2,183.8 602.4,183.9 602.6,183.9 602.8,183.8 603.0,183.6 603.2,183.5 603.4,183.3 603.6,183.2 603.8,183.0 604.0,183.0 604.2,182.9 604.4,182.9 604.6,182.9 604.8,182.9 605.0,182.9 605.2,182.9 605.4,183.0 605.6,183.1 605.8,183.2 606.0,183.3 606.2,183.5 606.4,183.7 606.6,183.8 606.8,183.9 607.0,183.9 607.2,183.7 607.4,183.6 607.6,183.4 607.8,183.3 608.0,183.1 608.2,183.0 608.4,183.0 608.6,182.9 608.8,182.9 609.0,182.9 609.2,182.9 609.4,182.9 609.6,182.9 609.8,183.0 610.1,183.1 610.3,183.2 610.5,183.4 610.7,183.6 610.9,183.7 611.1,183.8 611.3,183.9 611.5,183.8 611.7,183.7 611.9,183.5 612.1,183.4 612.3,183.2 612.5,183.1 612.7,183.0 612.9,182.9 613.1,182.9 613.3,182.9 613.5,182.9 613.7,182.9 613.9,182.9 614.1,183.0 614.3,183.0 614.5,183.1 614.7,183.3 614.9,183.4 615.1,183.6 615.3,183.7 615.5,183.9 615.7,183.9 615.9,183.8 616.1,183.6 616.3,183.5 616.5,183.3 616.7,183.2 616.9,183.1 617.1,183.0 617.3,182.9 617.5,182.9 617.7,182.9 617.9,182.9 618.1,182.9 618.3,182.9 618.5,183.0 618.7,183.1 618.9,183.2 619.1,183.3 619.3,183.5 619.5,183.6 619.7,183.8 619.9,183.9 620.1,183.9 620.3,183.8 620.5,183.6 620.7,183.4 620.9,183.3 621.1,183.2 621.3,183.0 621.5,183.0 621.7,182.9 621.9,182.9 622.1,182.9 622.3,182.9 622.5,182.9 622.8,182.9 623.0,183.0 623.2,183.1 623.4,183.2 623.6,183.4 623.8,183.5 624.0,183.7 624.2,183.8 624.4,183.9 624.6,183.8 624.8,183.7 625.0,183.6 625.2,183.4 625.4,183.3 625.6,183.1 625.8,183.0 626.0,182.9 626.2,182.9 626.4,182.9 626.6,182.9 626.8,182.9 627.0,182.9 627.2,182.9 627.4,183.0 627.6,183.1 627.8,183.3 628.0,183.4 628.2,183.6 628.4,183.7 628.6,183.8 628.8,183.9 629.0,183.8 629.2,183.7 629.4,183.5 629.6,183.4 629.8,183.2 630.0,183.1 630.2,183.0 630.4,182.9 630.6,182.9 630.8,182.9 631.0,182.9 631.2,182.9 631.4,182.9 631.6,183.0 631.8,183.0 632.0,183.2 632.2,183.3 632.4,183.5 632.6,183.6 632.8,183.8 633.0,183.9 633.2,183.9 633.4,183.8 633.6,183.6 633.8,183.5 634.0,183.3 634.2,183.2 634.4,183.1 634.6,183.0 634.8,182.9 635.0,182.9 635.2,182.9 635.4,182.9 635.7,182.9 635.9,182.9 636.1,183.0 636.3,183.1 636.5,183.2 636.7,183.3 636.9,183.5 637.1,183.7 637.3,183.8 637.5,183.9 637.7,183.9 637.9,183.7 638.1,183.6 638.3,183.4 638.5,183.3 638.7,183.1 638.9,183.0 639.1,183.0 639.3,182.9 639.5,182.9 639.7,182.9 639.9,182.9 640.1,182.9 640.3,182.9 640.5,183.0 640.7,183.1 640.9,183.2 641.1,183.4 641.3,183.5 641.5,183.7 641.7,183.8 641.9,183.9 642.1,183.8 642.3,183.7 642.5,183.5 642.7,183.4 642.9,183.2 643.1,183.1 643.3,183.0 643.5,182.9 643.7,182.9 643.9,182.9 644.1,182.9 644.3,182.9 644.5,182.9 644.7,183.0 644.9,183.0 645.1,183.1 645.3,183.3 645.5,183.4 645.7,183.6 645.9,183.7 646.1,183.9 646.3,183.9 646.5,183.8 646.7,183.7 646.9,183.5 647.1,183.3 647.3,183.2 647.5,183.1 647.7,183.0 647.9,182.9 648.1,182.9 648.3,182.9 648.6,182.9 648.8,182.9 649.0,182.9 649.2,183.0 649.4,183.1 649.6,183.2 649.8,183.3 650.0,183.5 650.2,183.6 650.4,183.8 650.6,183.9 650.8,183.9 651.0,183.8 651.2,183.6 651.4,183.5 651.6,183.3 651.8,183.2 652.0,183.0 652.2,183.0 652.4,182.9 652.6,182.9 652.8,182.9 653.0,182.9 653.2,182.9 653.4,182.9 653.6,183.0 653.8,183.1 654.0,183.2 654.2,183.4 654.4,183.5 654.6,183.7 654.8,183.8 655.0,183.9 655.2,183.9 655.4,183.7 655.6,183.6 655.8,183.4 656.0,183.3 656.2,183.1 656.4,183.0 656.6,183.0 656.8,182.9 657.0,182.9 657.2,182.9 657.4,182.9 657.6,182.9 657.8,182.9 658.0,183.0 658.2,183.1 658.4,183.2 658.6,183.4 658.8,183.6 659.0,183.7 659.2,183.8 659.4,183.9 659.6,183.8 659.8,183.7 660.0,183.5 660.2,183.4 660.4,183.2 660.6,183.1 660.8,183.0 661.0,182.9 661.3,182.9 661.5,182.9 661.7,182.9 661.9,182.9 662.1,182.9 662.3,183.0 662.5,183.0 662.5,196.6 662.3,196.7 662.1,196.7 661.9,196.7 661.7,196.7 661.5,196.7 661.3,196.7 661.0,196.7 660.8,196.7 660.6,196.6 660.4,196.4 660.2,196.3 660.0,196.1 659.8,196.0 659.6,195.8 659.4,195.7 659.2,195.8 659.0,195.9 658.8,196.1 658.6,196.3 658.4,196.4 658.2,196.5 658.0,196.6 657.8,196.7 657.6,196.7 657.4,196.7 657.2,196.7 657.0,196.7 656.8,196.7 656.6,196.7 656.4,196.6 656.2,196.5 656.0,196.4 655.8,196.2 655.6,196.1 655.4,195.9 655.2,195.8 655.0,195.7 654.8,195.8 654.6,196.0 654.4,196.1 654.2,196.3 654.0,196.4 653.8,196.6 653.6,196.7 653.4,196.7 653.2,196.7 653.0,196.7 652.8,196.7 652.6,196.7 652.4,196.7 652.2,196.7 652.0,196.6 651.8,196.5 651.6,196.3 651.4,196.2 651.2,196.0 651.0,195.9 650.8,195.8 650.6,195.8 650.4,195.9 650.2,196.0 650.0,196.2 649.8,196.3 649.6,196.5 649.4,196.6 649.2,196.7 649.0,196.7 648.8,196.7 648.6,196.7 648.3,196.7 648.1,196.7 647.9,196.7 647.7,196.7 647.5,196.6 647.3,196.5 647.1,196.3 646.9,196.1 646.7,196.0 646.5,195.9 646.3,195.7 646.1,195.8 645.9,195.9 645.7,196.1 645.5,196.2 645.3,196.4 645.1,196.5 644.9,196.6 644.7,196.7 644.5,196.7 644.3,196.7 644.1,196.7 643.9,196.7 643.7,196.7 643.5,196.7 643.3,196.6 643.1,196.5 642.9,196.4 642.7,196.3 642.5,196.1 642.3,196.0 642.1,195.8 641.9,195.7 641.7,195.8 641.5,196.0 641.3,196.1 641.1,196.3 640.9,196.4 640.7,196.5 640.5,196.6 640.3,196.7 640.1,196.7 639.9,196.7 639.7,196.7 639.5,196.7 639.3,196.7 639.1,196.7 638.9,196.6 638.7,196.5 638.5,196.4 638.3,196.2 638.1,196.1 637.9,195.9 637.7,195.8 637.5,195.7 637.3,195.9 637.1,196.0 636.9,196.2 636.7,196.3 636.5,196.5 636.3,196.6 636.1,196.7 635.9,196.7 635.7,196.7 635.4,196.7 635.2,196.7 635.0,196.7 634.8,196.7 634.6,196.7 634.4,196.6 634.2,196.5 634.0,196.3 633.8,196.2 633.6,196.0 633.4,195.9 633.2,195.8 633.0,195.8 632.8,195.9 632.6,196.0 632.4,196.2 632.2,196.4 632.0,196.5 631.8,196.6 631.6,196.7 631.4,196.7 631.2,196.7 631.0,196.7 630.8,196.7 630.6,196.7 630.4,196.7 630.2,196.7 630.0,196.6 629.8,196.4 629.6,196.3 629.4,196.1 629.2,196.0 629.0,195.8 628.8,195.7 628.6,195.8 628.4,195.9 628.2,196.1 628.0,196.2 627.8,196.4 627.6,196.5 627.4,196.6 627.2,196.7 627.0,196.7 626.8,196.7 626.6,196.7 626.4,196.7 626.2,196.7 626.0,196.7 625.8,196.6 625.6,196.5 625.4,196.4 625.2,196.2 625.0,196.1 624.8,195.9 624.6,195.8 624.4,195.7 624.2,195.8 624.0,196.0 623.8,196.1 623.6,196.3 623.4,196.4 623.2,196.6 623.0,196.7 622.8,196.7 622.5,196.7 622.3,196.7 622.1,196.7 621.9,196.7 621.7,196.7 621.5,196.7 621.3,196.6 621.1,196.5 620.9,196.4 620.7,196.2 620.5,196.0 620.3,195.9 620.1,195.8 619.9,195.8 619.7,195.9 619.5,196.0 619.3,196.2 619.1,196.3 618.9,196.5 618.7,196.6 618.5,196.7 618.3,196.7 618.1,196.7 617.9,196.7 617.7,196.7 617.5,196.7 617.3,196.7 617.1,196.7 616.9,196.6 616.7,196.5 616.5,196.3 616.3,196.2 616.1,196.0 615.9,195.9 615.7,195.7 615.5,195.8 615.3,195.9 615.1,196.1 614.9,196.2 614.7,196.4 614.5,196.5 614.3,196.6 614.1,196.7 613.9,196.7 613.7,196.7 613.5,196.7 613.3,196.7 613.1,196.7 612.9,196.7 612.7,196.7 612.5,196.6 612.3,196.4 612.1,196.3 611.9,196.1 611.7,196.0 611.5,195.8 611.3,195.7 611.1,195.8 610.9,195.9 610.7,196.1 610.5,196.3 610.3,196.4 610.1,196.5 609.8,196.6 609.6,196.7 609.4,196.7 609.2,196.7 609.0,196.7 608.8,196.7 608.6,196.7 608.4,196.7 608.2,196.6 608.0,196.5 607.8,196.4 607.6,196.2 607.4,196.1 607.2,195.9 607.0,195.8 606.8,195.7 606.6,195.8 606.4,196.0 606.2,196.1 606.0,196.3 605.8,196.4 605.6,196.6 605.4,196.7 605.2,196.7 605.0,196.7 604.8,196.7 604.6,196.7 604.4,196.7 604.2,196.7 604.0,196.7 603.8,196.6 603.6,196.5 603.4,196.3 603.2,196.2 603.0,196.0 602.8,195.9 602.6,195.8 602.4,195.8 602.2,195.9 602.0,196.0 601.8,196.2 601.6,196.3 601.4,196.5 601.2,196.6 601.0,196.7 600.8,196.7 600.6,196.7 600.4,196.7 600.2,196.7 600.0,196.7 599.8,196.7 599.6,196.7 599.4,196.6 599.2,196.4 599.0,196.3 598.8,196.1 598.6,196.0 598.4,195.8 598.2,195.7 598.0,195.8 597.8,195.9 597.6,196.1 597.4,196.2 597.2,196.4 596.9,196.5 596.7,196.6 596.5,196.7 596.3,196.7 596.1,196.7 595.9,196.7 595.7,196.7 595.5,196.7 595.3,196.7 595.1,196.6 594.9,196.5 594.7,196.4 594.5,196.3 594.3,196.1 594.1,195.9 593.9,195.8 593.7,195.7 593.5,195.8 593.3,196.0 593.1,196.1 592.9,196.3 592.7,196.4 592.5,196.6 592.3,196.7 592.1,196.7 591.9,196.7 591.7,196.7 591.5,196.7 591.3,196.7 591.1,196.7 590.9,196.7 590.7,196.6 590.5,196.5 590.3,196.4 590.1,196.2 589.9,196.1 589.7,195.9 589.5,195.8 589.3,195.7 589.1,195.9 588.9,196.0 588.7,196.2 588.5,196.3 588.3,196.5 588.1,196.6 587.9,196.7 587.7,196.7 587.5,196.7 587.3,196.7 587.1,196.7 586.9,196.7 586.7,196.7 586.5,196.7 586.3,196.6 586.1,196.5 585.9,196.3 585.7,196.2 585.5,196.0 585.3,195.9 585.1,195.8 584.9,195.8 584.7,195.9 584.5,196.0 584.2,196.2 584.0,196.4 583.8,196.5 583.6,196.6 583.4,196.7 583.2,196.7 583.0,196.7 582.8,196.7 582.6,196.7 582.4,196.7 582.2,196.7 582.0,196.7 581.8,196.6 581.6,196.4 581.4,196.3 581.2,196.1 581.0,196.0 580.8,195.8 580.6,195.7 580.4,195.8 580.2,195.9 580.0,196.1 579.8,196.2 579.6,196.4 579.4,196.5 579.2,196.6 579.0,196.7 578.8,196.7 578.6,196.7 578.4,196.7 578.2,196.7 578.0,196.7 577.8,196.7 577.6,196.6 577.4,196.5 577.2,196.4 577.0,196.2 576.8,196.1 576.6,195.9 576.4,195.8 576.2,195.7 576.0,195.8 575.8,196.0 575.6,196.1 575.4,196.3 575.2,196.4 575.0,196.6 574.8,196.7 574.6,196.7 574.4,196.7 574.2,196.7 574.0,196.7 573.8,196.7 573.6,196.7 573.4,196.7 573.2,196.6 573.0,196.5 572.8,196.4 572.6,196.2 572.4,196.0 572.2,195.9 572.0,195.8 571.8,195.8 571.6,195.9 571.3,196.0 571.1,196.2 570.9,196.3 570.7,196.5 570.5,196.6 570.3,196.7 570.1,196.7 569.9,196.7 569.7,196.7 569.5,196.7 569.3,196.7 569.1,196.7 568.9,196.7 568.7,196.6 568.5,196.5 568.3,196.3 568.1,196.2 567.9,196.0 567.7,195.9 567.5,195.7 567.3,195.8 567.1,195.9 566.9,196.1 566.7,196.2 566.5,196.4 566.3,196.5 566.1,196.6 565.9,196.7 565.7,196.7 565.5,196.7 565.3,196.7 565.1,196.7 564.9,196.7 564.7,196.7 564.5,196.6 564.3,196.5 564.1,196.4 563.9,196.3 563.7,196.1 563.5,196.0 563.3,195.8 563.1,195.7 562.9,195.8 562.7,196.0 562.5,196.1 562.3,196.3 562.1,196.4 561.9,196.5 561.7,196.6 561.5,196.7 561.3,196.7 561.1,196.7 560.9,196.7 560.7,196.7 560.5,196.7 560.3,196.7 560.1,196.6 559.9,196.5 559.7,196.4 559.5,196.2 559.3,196.1 559.1,195.9 558.9,195.8 558.7,195.7 558.4,195.9 558.2,196.0 558.0,196.1 557.8,196.3 557.6,196.5 557.4,196.6 557.2,196.7 557.0,196.7 556.8,196.7 556.6,196.7 556.4,196.7 556.2,196.7 556.0,196.7 555.8,196.7 555.6,196.6 555.4,196.5 555.2,196.3 555.0,196.2 554.8,196.0 554.6,195.9 554.4,195.8 554.2,195.8 554.0,195.9 553.8,196.0 553.6,196.2 553.4,196.3 553.2,196.5 553.0,196.6 552.8,196.7 552.6,196.7 552.4,196.7 552.2,196.7 552.0,196.7 551.8,196.7 551.6,196.7 551.4,196.7 551.2,196.6 551.0,196.4 550.8,196.3 550.6,196.1 550.4,196.0 550.2,195.8 550.0,195.7 549.8,195.8 549.6,195.9 549.4,196.1 549.2,196.2 549.0,196.4 548.8,196.5 548.6,196.6 548.4,196.7 548.2,196.7 548.0,196.7 547.8,196.7 547.6,196.7 547.4,196.7 547.2,196.7 547.0,196.6 546.8,196.5 546.6,196.4 546.4,196.3 546.2,196.1 546.0,195.9 545.7,195.8 545.5,195.7 545.3,195.8 545.1,196.0 544.9,196.1 544.7,196.3 544.5,196.4 544.3,196.6 544.1,196.7 543.9,196.7 543.7,196.7 543.5,196.7 543.3,196.7 543.1,196.7 542.9,196.7 542.7,196.7 542.5,196.6 542.3,196.5 542.1,196.4 541.9,196.2 541.7,196.0 541.5,195.9 541.3,195.8 541.1,195.7 540.9,195.9 540.7,196.0 540.5,196.2 540.3,196.3 540.1,196.5 539.9,196.6 539.7,196.7 539.5,196.7 539.3,196.7 539.1,196.7 538.9,196.7 538.7,196.7 538.5,196.7 538.3,196.7 538.1,196.6 537.9,196.5 537.7,196.3 537.5,196.2 537.3,196.0 537.1,195.9 536.9,195.7 536.7,195.8 536.5,195.9 536.3,196.1 536.1,196.2 535.9,196.4 535.7,196.5 535.5,196.6 535.3,196.7 535.1,196.7 534.9,196.7 534.7,196.7 534.5,196.7 534.3,196.7 534.1,196.7 533.9,196.7 533.7,196.6 533.5,196.4 533.3,196.3 533.1,196.1 532.8,196.0 532.6,195.8 532.4,195.7 532.2,195.8 532.0,195.9 531.8,196.1 531.6,196.3 531.4,196.4 531.2,196.5 531.0,196.6 530.8,196.7 530.6,196.7 530.4,196.7 530.2,196.7 530.0,196.7 529.8,196.7 529.6,196.7 529.4,196.6 529.2,196.5 529.0,196.4 528.8,196.2 528.6,196.1 528.4,195.9 528.2,195.8 528.0,195.7 527.8,195.8 527.6,196.0 527.4,196.1 527.2,196.3 527.0,196.4 526.8,196.6 526.6,196.7 526.4,196.7 526.2,196.7 526.0,196.7 525.8,196.7 525.6,196.7 525.4,196.7 525.2,196.7 525.0,196.6 524.8,196.5 524.6,196.3 524.4,196.2 524.2,196.0 524.0,195.9 523.8,195.8 523.6,195.8 523.4,195.9 523.2,196.0 523.0,196.2 522.8,196.3 522.6,196.5 522.4,196.6 522.2,196.7 522.0,196.7 521.8,196.7 521.6,196.7 521.4,196.7 521.2,196.7 521.0,196.7 520.8,196.7 520.6,196.6 520.4,196.5 520.1,196.3 519.9,196.1 519.7,196.0 519.5,195.9 519.3,195.7 519.1,195.8 518.9,195.9 518.7,196.1 518.5,196.2 518.3,196.4 518.1,196.5 517.9,196.6 517.7,196.7 517.5,196.7 517.3,196.7 517.1,196.7 516.9,196.7 516.7,196.7 516.5,196.7 516.3,196.6 516.1,196.5 515.9,196.4 515.7,196.3 515.5,196.1 515.3,195.9 515.1,195.8 514.9,195.7 514.7,195.8 514.5,196.0 514.3,196.1 514.1,196.3 513.9,196.4 513.7,196.6 513.5,196.6 513.3,196.7 513.1,196.7 512.9,196.7 512.7,196.7 512.5,196.7 512.3,196.7 512.1,196.7 511.9,196.6 511.7,196.5 511.5,196.4 511.3,196.2 511.1,196.1 510.9,195.9 510.7,195.8 510.5,195.7 510.3,195.9 510.1,196.0 509.9,196.2 509.7,196.3 509.5,196.5 509.3,196.6 509.1,196.7 508.9,196.7 508.7,196.7 508.5,196.7 508.3,196.7 508.1,196.7 507.9,196.7 507.7,196.7 507.5,196.6 507.2,196.5 507.0,196.3 506.8,196.2 506.6,196.0 506.4,195.9 506.2,195.8 506.0,195.8 505.8,195.9 505.6,196.0 505.4,196.2 505.2,196.4 505.0,196.5 504.8,196.6 504.6,196.7 504.4,196.7 504.2,196.7 504.0,196.7 503.8,196.7 503.6,196.7 503.4,196.7 503.2,196.7 503.0,196.6 502.8,196.4 502.6,196.3 502.4,196.1 502.2,196.0 502.0,195.8 501.8,195.7 501.6,195.8 501.4,195.9 501.2,196.1 501.0,196.2 500.8,196.4 500.6,196.5 500.4,196.6 500.2,196.7 500.0,196.7 499.8,196.7 499.6,196.7 499.4,196.7 499.2,196.7 499.0,196.7 498.8,196.6 498.6,196.5 498.4,196.4 498.2,196.2 498.0,196.1 497.8,195.9 497.6,195.8 497.4,195.7 497.2,195.8 497.0,196.0 496.8,196.1 496.6,196.3 496.4,196.4 496.2,196.6 496.0,196.7 495.8,196.7 495.6,196.7 495.4,196.7 495.2,196.7 495.0,196.7 494.8,196.7 494.6,196.7 494.3,196.6 494.1,196.5 493.9,196.4 493.7,196.2 493.5,196.0 493.3,195.9 493.1,195.8 492.9,195.8 492.7,195.9 492.5,196.0 492.3,196.2 492.1,196.3 491.9,196.5 491.7,196.6 491.5,196.7 491.3,196.7 491.1,196.7 490.9,196.7 490.7,196.7 490.5,196.7 490.3,196.7 490.1,196.7 489.9,196.6 489.7,196.5 489.5,196.3 489.3,196.2 489.1,196.0 488.9,195.9 488.7,195.7 488.5,195.8 488.3,195.9 488.1,196.1 487.9,196.2 487.7,196.4 487.5,196.5 487.3,196.6 487.1,196.7 486.9,196.7 486.7,196.7 486.5,196.7 486.3,196.7 486.1,196.7 485.9,196.7 485.7,196.7 485.5,196.6 485.3,196.4 485.1,196.3 484.9,196.1 484.7,196.0 484.5,195.8 484.3,195.7 484.1,195.8 483.9,195.9 483.7,196.1 483.5,196.3 483.3,196.4 483.1,196.5 482.9,196.6 482.7,196.7 482.5,196.7 482.3,196.7 482.1,196.7 481.9,196.7 481.6,196.7 481.4,196.7 481.2,196.6 481.0,196.5 480.8,196.4 480.6,196.2 480.4,196.1 480.2,195.9 480.0,195.8 479.8,195.7 479.6,195.8 479.4,196.0 479.2,196.1 479.0,196.3 478.8,196.4 478.6,196.6 478.4,196.7 478.2,196.7 478.0,196.7 477.8,196.7 477.6,196.7 477.4,196.7 477.2,196.7 477.0,196.7 476.8,196.6 476.6,196.5 476.4,196.3 476.2,196.2 476.0,196.0 475.8,195.9 475.6,195.8 475.4,195.8 475.2,195.9 475.0,196.0 474.8,196.2 474.6,196.3 474.4,196.5 474.2,196.6 474.0,196.7 473.8,196.7 473.6,196.7 473.4,196.7 473.2,196.7 473.0,196.7 472.8,196.7 472.6,196.7 472.4,196.6 472.2,196.4 472.0,196.3 471.8,196.1 471.6,196.0 471.4,195.8 471.2,195.7 471.0,195.8 470.8,195.9 470.6,196.1 470.4,196.2 470.2,196.4 470.0,196.5 469.8,196.6 469.6,196.7 469.4,196.7 469.2,196.7 469.0,196.7 468.7,196.7 468.5,196.7 468.3,196.7 468.1,196.6 467.9,196.5 467.7,196.4 467.5,196.3 467.3,196.1 467.1,195.9 466.9,195.8 466.7,195.7 466.5,195.8 466.3,196.0 466.1,196.1 465.9,196.3 465.7,196.4 465.5,196.6 465.3,196.7 465.1,196.7 464.9,196.7 464.7,196.7 464.5,196.7 464.3,196.7 464.1,196.7 463.9,196.7 463.7,196.6 463.5,196.5 463.3,196.4 463.1,196.2 462.9,196.1 462.7,195.9 462.5,195.8 462.3,195.7 462.1,195.9 461.9,196.0 461.7,196.2 461.5,196.3 461.3,196.5 461.1,196.6 460.9,196.7 460.7,196.7 460.5,196.7 460.3,196.7 460.1,196.7 459.9,196.7 459.7,196.7 459.5,196.7 459.3,196.6 459.1,196.5 458.9,196.3 458.7,196.2 458.5,196.0 458.3,195.9 458.1,195.7 457.9,195.8 457.7,195.9 457.5,196.0 457.3,196.2 457.1,196.4 456.9,196.5 456.7,196.6 456.5,196.7 456.3,196.7 456.0,196.7 455.8,196.7 455.6,196.7 455.4,196.7 455.2,196.7 455.0,196.7 454.8,196.6 454.6,196.4 454.4,196.3 454.2,196.1 454.0,196.0 453.8,195.8 453.6,195.7 453.4,195.8 453.2,195.9 453.0,196.1 452.8,196.2 452.6,196.4 452.4,196.5 452.2,196.6 452.0,196.7 451.8,196.7 451.6,196.7 451.4,196.7 451.2,196.7 451.0,196.7 450.8,196.7 450.6,196.6 450.4,196.5 450.2,196.4 450.0,196.2 449.8,196.1 449.6,195.9 449.4,195.8 449.2,195.7 449.0,195.8 448.8,196.0 448.6,196.1 448.4,196.3 448.2,196.4 448.0,196.6 447.8,196.7 447.6,196.7 447.4,196.7 447.2,196.7 447.0,196.7 446.8,196.7 446.6,196.7 446.4,196.7 446.2,196.6 446.0,196.5 445.8,196.3 445.6,196.2 445.4,196.0 445.2,195.9 445.0,195.8 444.8,195.8 444.6,195.9 444.4,196.0 444.2,196.2 444.0,196.3 443.8,196.5 443.6,196.6 443.4,196.7 443.1,196.7 442.9,196.7 442.7,196.7 442.5,196.7 442.3,196.7 442.1,196.7 441.9,196.7 441.7,196.6 441.5,196.5 441.3,196.3 441.1,196.1 440.9,196.0 440.7,195.9 440.5,195.7 440.3,195.8 440.1,195.9 439.9,196.1 439.7,196.2 439.5,196.4 439.3,196.5 439.1,196.6 438.9,196.7 438.7,196.7 438.5,196.7 438.3,196.7 438.1,196.7 437.9,196.7 437.7,196.7 437.5,196.6 437.3,196.5 437.1,196.4 436.9,196.3 436.7,196.1 436.5,196.0 436.3,195.8 436.1,195.7 435.9,195.8 435.7,196.0 435.5,196.1 435.3,196.3 435.1,196.4 434.9,196.5 434.7,196.6 434.5,196.7 434.3,196.7 434.1,196.7 433.9,196.7 433.7,196.7 433.5,196.7 433.3,196.7 433.1,196.6 432.9,196.5 432.7,196.4 432.5,196.2 432.3,196.1 432.1,195.9 431.9,195.8 431.7,195.7 431.5,195.9 431.3,196.0 431.1,196.2 430.9,196.3 430.7,196.5 430.4,196.6 430.2,196.7 430.0,196.7 429.8,196.7 429.6,196.7 429.4,196.7 429.2,196.7 429.0,196.7 428.8,196.7 428.6,196.6 428.4,196.5 428.2,196.3 428.0,196.2 427.8,196.0 427.6,195.9 427.4,195.8 427.2,195.8 427.0,195.9 426.8,196.0 426.6,196.2 426.4,196.4 426.2,196.5 426.0,196.6 425.8,196.7 425.6,196.7 425.4,196.7 425.2,196.7 425.0,196.7 424.8,196.7 424.6,196.7 424.4,196.7 424.2,196.6 424.0,196.4 423.8,196.3 423.6,196.1 423.4,196.0 423.2,195.8 423.0,195.7 422.8,195.8 422.6,195.9 422.4,196.1 422.2,196.2 422.0,196.4 421.8,196.5 421.6,196.6 421.4,196.7 421.2,196.7 421.0,196.7 420.8,196.7 420.6,196.7 420.4,196.7 420.2,196.7 420.0,196.6 419.8,196.5 419.6,196.4 419.4,196.2 419.2,196.1 419.0,195.9 418.8,195.8 418.6,195.7 418.4,195.8 418.2,196.0 418.0,196.1 417.8,196.3 417.5,196.4 417.3,196.6 417.1,196.7 416.9,196.7 416.7,196.7 416.5,196.7 416.3,196.7 416.1,196.7 415.9,196.7 415.7,196.7 415.5,196.6 415.3,196.5 415.1,196.4 414.9,196.2 414.7,196.0 414.5,195.9 414.3,195.8 414.1,195.8 413.9,195.9 413.7,196.0 413.5,196.2 413.3,196.3 413.1,196.5 412.9,196.6 412.7,196.7 412.5,196.7 412.3,196.7 412.1,196.7 411.9,196.7 411.7,196.7 411.5,196.7 411.3,196.7 411.1,196.6 410.9,196.5 410.7,196.3 410.5,196.2 410.3,196.0 410.1,195.9 409.9,195.7 409.7,195.8 409.5,195.9 409.3,196.1 409.1,196.2 408.9,196.4 408.7,196.5 408.5,196.6 408.3,196.7 408.1,196.7 407.9,196.7 407.7,196.7 407.5,196.7 407.3,196.7 407.1,196.7 406.9,196.7 406.7,196.6 406.5,196.4 406.3,196.3 406.1,196.1 405.9,196.0 405.7,195.8 405.5,195.7 405.3,195.8 405.1,195.9 404.9,196.1 404.6,196.3 404.4,196.4 404.2,196.5 404.0,196.6 403.8,196.7 403.6,196.7 403.4,196.7 403.2,196.7 403.0,196.7 402.8,196.7 402.6,196.7 402.4,196.6 402.2,196.5 402.0,196.4 401.8,196.2 401.6,196.1 401.4,195.9 401.2,195.8 401.0,195.7 400.8,195.8 400.6,196.0 400.4,196.1 400.2,196.3 400.0,196.4 399.8,196.6 399.6,196.7 399.4,196.7 399.2,196.7 399.0,196.7 398.8,196.7 398.6,196.7 398.4,196.7 398.2,196.7 398.0,196.6 397.8,196.5 397.6,196.3 397.4,196.2 397.2,196.0 397.0,195.9 396.8,195.8 396.6,195.8 396.4,195.9 396.2,196.0 396.0,196.2 395.8,196.3 395.6,196.5 395.4,196.6 395.2,196.7 395.0,196.7 394.8,196.7 394.6,196.7 394.4,196.7 394.2,196.7 394.0,196.7 393.8,196.7 393.6,196.6 393.4,196.4 393.2,196.3 393.0,196.1 392.8,196.0 392.6,195.8 392.4,195.7 392.2,195.8 391.9,195.9 391.7,196.1 391.5,196.2 391.3,196.4 391.1,196.5 390.9,196.6 390.7,196.7 390.5,196.7 390.3,196.7 390.1,196.7 389.9,196.7 389.7,196.7 389.5,196.7 389.3,196.6 389.1,196.5 388.9,196.4 388.7,196.3 388.5,196.1 388.3,195.9 388.1,195.8 387.9,195.7 387.7,195.8 387.5,196.0 387.3,196.1 387.1,196.3 386.9,196.4 386.7,196.6 386.5,196.7 386.3,196.7 386.1,196.7 385.9,196.7 385.7,196.7 385.5,196.7 385.3,196.7 385.1,196.7 384.9,196.6 384.7,196.5 384.5,196.4 384.3,196.2 384.1,196.1 383.9,195.9 383.7,195.8 383.5,195.7 383.3,195.9 383.1,196.0 382.9,196.2 382.7,196.3 382.5,196.5 382.3,196.6 382.1,196.7 381.9,196.7 381.7,196.7 381.5,196.7 381.3,196.7 381.1,196.7 380.9,196.7 380.7,196.7 380.5,196.6" fill="#000"/>
<text x="521.32" y="262.40" text-anchor="middle" font-size="13.6" font-weight="bold">imf 2</text>
<rect x="369.17" y="270.55" width="304.29" height="57.80" fill="none" stroke="#1a1a1a" stroke-width="1.15"/>
<line x1="380.46" y1="328.35" x2="380.46" y2="335.10" stroke="#222" stroke-width="1.1"/>
<text x="380.46" y="351.75" text-anchor="middle" font-size="10.9">0.0</text>
<line x1="436.86" y1="328.35" x2="436.86" y2="335.10" stroke="#222" stroke-width="1.1"/>
<text x="436.86" y="351.75" text-anchor="middle" font-size="10.9">0.2</text>
<line x1="493.26" y1="328.35" x2="493.26" y2="335.10" stroke="#222" stroke-width="1.1"/>
<text x="493.26" y="351.75" text-anchor="middle" font-size="10.9">0.4</text>
<line x1="549.66" y1="328.35" x2="549.66" y2="335.10" stroke="#222" stroke-width="1.1"/>
<text x="549.66" y="351.75" text-anchor="middle" font-size="10.9">0.6</text>
<line x1="606.06" y1="328.35" x2="606.06" y2="335.10" stroke="#222" stroke-width="1.1"/>
<text x="606.06" y="351.75" text-anchor="middle" font-size="10.9">0.8</text>
<line x1="662.46" y1="328.35" x2="662.46" y2="335.10" stroke="#222" stroke-width="1.1"/>
<text x="662.46" y="351.75" text-anchor="middle" font-size="10.9">1.0</text>
<line x1="362.42" y1="327.45" x2="369.17" y2="327.45" stroke="#222" stroke-width="1.1"/>
<text x="354.37" y="327.45" transform="rotate(-90 354.37 327.45)" text-anchor="middle" font-size="10.9">−0.4</text>
<line x1="362.42" y1="313.45" x2="369.17" y2="313.45" stroke="#222" stroke-width="1.1"/>
<line x1="362.42" y1="299.45" x2="369.17" y2="299.45" stroke="#222" stroke-width="1.1"/>
<text x="354.37" y="299.45" transform="rotate(-90 354.37 299.45)" text-anchor="middle" font-size="10.9">0.0</text>
<line x1="362.42" y1="285.45" x2="369.17" y2="285.45" stroke="#222" stroke-width="1.1"/>
<line x1="362.42" y1="271.45" x2="369.17" y2="271.45" stroke="#222" stroke-width="1.1"/>
<text x="354.37" y="271.45" transform="rotate(-90 354.37 271.45)" text-anchor="middle" font-size="10.9">0.4</text>
<line x1="369.17" y1="299.45" x2="673.46" y2="299.45" stroke="#000" stroke-width="1.1" stroke-dasharray="4.9 6.016" stroke-dashoffset="1.19"/>
<polyline points="380.5,292.5 380.8,292.5 381.2,292.6 381.5,292.7 381.9,292.9 382.2,293.2 382.6,293.5 382.9,293.9 383.3,294.4 383.6,294.8 384.0,295.3 384.3,295.9 384.7,296.5 385.0,297.1 385.4,297.7 385.8,298.4 386.1,299.0 386.5,299.7 386.8,300.3 387.2,301.0 387.5,301.6 387.9,302.2 388.2,302.8 388.6,303.4 388.9,303.9 389.3,304.4 389.6,304.9 390.0,305.3 390.3,305.6 390.7,305.9 391.0,306.1 391.4,306.3 391.8,306.4 392.1,306.4 392.5,306.4 392.8,306.4 393.2,306.2 393.5,306.0 393.9,305.8 394.2,305.5 394.6,305.1 394.9,304.7 395.3,304.2 395.6,303.7 396.0,303.2 396.3,302.6 396.7,302.0 397.0,301.4 397.4,300.7 397.8,300.1 398.1,299.4 398.5,298.7 398.8,298.1 399.2,297.5 399.5,296.8 399.9,296.2 400.2,295.7 400.6,295.1 400.9,294.6 401.3,294.2 401.6,293.8 402.0,293.4 402.3,293.1 402.7,292.8 403.0,292.7 403.4,292.5 403.8,292.5 404.1,292.5 404.5,292.5 404.8,292.6 405.2,292.8 405.5,293.0 405.9,293.3 406.2,293.7 406.6,294.1 406.9,294.5 407.3,295.0 407.6,295.6 408.0,296.1 408.3,296.7 408.7,297.3 409.0,298.0 409.4,298.6 409.8,299.3 410.1,300.0 410.5,300.6 410.8,301.3 411.2,301.9 411.5,302.5 411.9,303.1 412.2,303.6 412.6,304.1 412.9,304.6 413.3,305.0 413.6,305.4 414.0,305.7 414.3,306.0 414.7,306.2 415.0,306.3 415.4,306.4 415.8,306.4 416.1,306.4 416.5,306.3 416.8,306.1 417.2,305.9 417.5,305.6 417.9,305.3 418.2,304.9 418.6,304.5 418.9,304.0 419.3,303.5 419.6,302.9 420.0,302.3 420.3,301.7 420.7,301.1 421.0,300.5 421.4,299.8 421.8,299.1 422.1,298.5 422.5,297.8 422.8,297.2 423.2,296.6 423.5,296.0 423.9,295.4 424.2,294.9 424.6,294.4 424.9,294.0 425.3,293.6 425.6,293.3 426.0,293.0 426.3,292.8 426.7,292.6 427.0,292.5 427.4,292.5 427.8,292.5 428.1,292.6 428.5,292.7 428.8,292.9 429.2,293.2 429.5,293.5 429.9,293.9 430.2,294.3 430.6,294.7 430.9,295.3 431.3,295.8 431.6,296.4 432.0,297.0 432.3,297.6 432.7,298.3 433.0,298.9 433.4,299.6 433.8,300.2 434.1,300.9 434.5,301.5 434.8,302.1 435.2,302.7 435.5,303.3 435.9,303.8 436.2,304.3 436.6,304.8 436.9,305.2 437.3,305.5 437.6,305.8 438.0,306.1 438.3,306.3 438.7,306.4 439.0,306.4 439.4,306.4 439.8,306.4 440.1,306.2 440.5,306.1 440.8,305.8 441.2,305.5 441.5,305.2 441.9,304.8 442.2,304.3 442.6,303.8 442.9,303.3 443.3,302.7 443.6,302.1 444.0,301.5 444.3,300.8 444.7,300.2 445.0,299.5 445.4,298.9 445.8,298.2 446.1,297.6 446.5,296.9 446.8,296.3 447.2,295.8 447.5,295.2 447.9,294.7 448.2,294.2 448.6,293.8 448.9,293.5 449.3,293.1 449.6,292.9 450.0,292.7 450.3,292.5 450.7,292.5 451.0,292.5 451.4,292.5 451.8,292.6 452.1,292.8 452.5,293.0 452.8,293.3 453.2,293.6 453.5,294.0 453.9,294.5 454.2,295.0 454.6,295.5 454.9,296.0 455.3,296.6 455.6,297.2 456.0,297.9 456.3,298.5 456.7,299.2 457.0,299.8 457.4,300.5 457.8,301.2 458.1,301.8 458.5,302.4 458.8,303.0 459.2,303.5 459.5,304.1 459.9,304.5 460.2,305.0 460.6,305.3 460.9,305.7 461.3,305.9 461.6,306.2 462.0,306.3 462.3,306.4 462.7,306.4 463.0,306.4 463.4,306.3 463.8,306.2 464.1,306.0 464.5,305.7 464.8,305.4 465.2,305.0 465.5,304.6 465.9,304.1 466.2,303.6 466.6,303.0 466.9,302.4 467.3,301.8 467.6,301.2 468.0,300.6 468.3,299.9 468.7,299.2 469.0,298.6 469.4,297.9 469.8,297.3 470.1,296.7 470.5,296.1 470.8,295.5 471.2,295.0 471.5,294.5 471.9,294.1 472.2,293.7 472.6,293.3 472.9,293.0 473.3,292.8 473.6,292.6 474.0,292.5 474.3,292.5 474.7,292.5 475.0,292.5 475.4,292.7 475.8,292.9 476.1,293.1 476.5,293.4 476.8,293.8 477.2,294.2 477.5,294.7 477.9,295.2 478.2,295.7 478.6,296.3 478.9,296.9 479.3,297.5 479.6,298.2 480.0,298.8 480.3,299.5 480.7,300.1 481.0,300.8 481.4,301.4 481.8,302.0 482.1,302.6 482.5,303.2 482.8,303.8 483.2,304.3 483.5,304.7 483.9,305.1 484.2,305.5 484.6,305.8 484.9,306.0 485.3,306.2 485.6,306.4 486.0,306.4 486.3,306.4 486.7,306.4 487.0,306.3 487.4,306.1 487.8,305.9 488.1,305.6 488.5,305.2 488.8,304.8 489.2,304.4 489.5,303.9 489.9,303.4 490.2,302.8 490.6,302.2 490.9,301.6 491.3,300.9 491.6,300.3 492.0,299.6 492.3,299.0 492.7,298.3 493.0,297.7 493.4,297.0 493.8,296.4 494.1,295.8 494.5,295.3 494.8,294.8 495.2,294.3 495.5,293.9 495.9,293.5 496.2,293.2 496.6,292.9 496.9,292.7 497.3,292.6 497.6,292.5 498.0,292.5 498.3,292.5 498.7,292.6 499.0,292.7 499.4,293.0 499.8,293.2 500.1,293.6 500.5,294.0 500.8,294.4 501.2,294.9 501.5,295.4 501.9,295.9 502.2,296.5 502.6,297.1 502.9,297.8 503.3,298.4 503.6,299.1 504.0,299.7 504.3,300.4 504.7,301.0 505.0,301.7 505.4,302.3 505.8,302.9 506.1,303.4 506.5,304.0 506.8,304.5 507.2,304.9 507.5,305.3 507.9,305.6 508.2,305.9 508.6,306.1 508.9,306.3 509.3,306.4 509.6,306.4 510.0,306.4 510.3,306.4 510.7,306.2 511.0,306.0 511.4,305.7 511.8,305.4 512.1,305.1 512.5,304.6 512.8,304.2 513.2,303.7 513.5,303.1 513.9,302.5 514.2,301.9 514.6,301.3 514.9,300.7 515.3,300.0 515.6,299.4 516.0,298.7 516.3,298.0 516.7,297.4 517.0,296.8 517.4,296.2 517.8,295.6 518.1,295.1 518.5,294.6 518.8,294.1 519.2,293.7 519.5,293.4 519.9,293.1 520.2,292.8 520.6,292.6 520.9,292.5 521.3,292.5 521.6,292.5 522.0,292.5 522.3,292.6 522.7,292.8 523.0,293.1 523.4,293.4 523.8,293.7 524.1,294.1 524.5,294.6 524.8,295.1 525.2,295.6 525.5,296.2 525.9,296.8 526.2,297.4 526.6,298.0 526.9,298.7 527.3,299.4 527.6,300.0 528.0,300.7 528.3,301.3 528.7,301.9 529.0,302.5 529.4,303.1 529.8,303.7 530.1,304.2 530.5,304.6 530.8,305.1 531.2,305.4 531.5,305.7 531.9,306.0 532.2,306.2 532.6,306.4 532.9,306.4 533.3,306.4 533.6,306.4 534.0,306.3 534.3,306.1 534.7,305.9 535.0,305.6 535.4,305.3 535.8,304.9 536.1,304.5 536.5,304.0 536.8,303.4 537.2,302.9 537.5,302.3 537.9,301.7 538.2,301.0 538.6,300.4 538.9,299.7 539.3,299.1 539.6,298.4 540.0,297.8 540.3,297.1 540.7,296.5 541.0,295.9 541.4,295.4 541.8,294.9 542.1,294.4 542.5,294.0 542.8,293.6 543.2,293.2 543.5,293.0 543.9,292.7 544.2,292.6 544.6,292.5 544.9,292.5 545.3,292.5 545.6,292.6 546.0,292.7 546.3,292.9 546.7,293.2 547.0,293.5 547.4,293.9 547.8,294.3 548.1,294.8 548.5,295.3 548.8,295.8 549.2,296.4 549.5,297.0 549.9,297.7 550.2,298.3 550.6,299.0 550.9,299.6 551.3,300.3 551.6,300.9 552.0,301.6 552.3,302.2 552.7,302.8 553.0,303.4 553.4,303.9 553.8,304.4 554.1,304.8 554.5,305.2 554.8,305.6 555.2,305.9 555.5,306.1 555.9,306.3 556.2,306.4 556.6,306.4 556.9,306.4 557.3,306.4 557.6,306.2 558.0,306.0 558.3,305.8 558.7,305.5 559.0,305.1 559.4,304.7 559.8,304.3 560.1,303.8 560.5,303.2 560.8,302.6 561.2,302.0 561.5,301.4 561.9,300.8 562.2,300.1 562.6,299.5 562.9,298.8 563.3,298.2 563.6,297.5 564.0,296.9 564.3,296.3 564.7,295.7 565.0,295.2 565.4,294.7 565.8,294.2 566.1,293.8 566.5,293.4 566.8,293.1 567.2,292.9 567.5,292.7 567.9,292.5 568.2,292.5 568.6,292.5 568.9,292.5 569.3,292.6 569.6,292.8 570.0,293.0 570.3,293.3 570.7,293.7 571.0,294.1 571.4,294.5 571.8,295.0 572.1,295.5 572.5,296.1 572.8,296.7 573.2,297.3 573.5,297.9 573.9,298.6 574.2,299.2 574.6,299.9 574.9,300.6 575.3,301.2 575.6,301.8 576.0,302.4 576.3,303.0 576.7,303.6 577.0,304.1 577.4,304.6 577.8,305.0 578.1,305.4 578.5,305.7 578.8,306.0 579.2,306.2 579.5,306.3 579.9,306.4 580.2,306.4 580.6,306.4 580.9,306.3 581.3,306.2 581.6,305.9 582.0,305.7 582.3,305.3 582.7,305.0 583.0,304.5 583.4,304.1 583.8,303.5 584.1,303.0 584.5,302.4 584.8,301.8 585.2,301.2 585.5,300.5 585.9,299.8 586.2,299.2 586.6,298.5 586.9,297.9 587.3,297.2 587.6,296.6 588.0,296.0 588.3,295.5 588.7,295.0 589.0,294.5 589.4,294.0 589.8,293.6 590.1,293.3 590.5,293.0 590.8,292.8 591.2,292.6 591.5,292.5 591.9,292.5 592.2,292.5 592.6,292.5 592.9,292.7 593.3,292.9 593.6,293.1 594.0,293.5 594.3,293.8 594.7,294.2 595.0,294.7 595.4,295.2 595.8,295.8 596.1,296.3 596.5,296.9 596.8,297.6 597.2,298.2 597.5,298.9 597.9,299.5 598.2,300.2 598.6,300.8 598.9,301.5 599.3,302.1 599.6,302.7 600.0,303.3 600.3,303.8 600.7,304.3 601.0,304.8 601.4,305.2 601.8,305.5 602.1,305.8 602.5,306.1 602.8,306.2 603.2,306.4 603.5,306.4 603.9,306.4 604.2,306.4 604.6,306.3 604.9,306.1 605.3,305.8 605.6,305.5 606.0,305.2 606.3,304.8 606.7,304.3 607.0,303.8 607.4,303.3 607.8,302.7 608.1,302.1 608.5,301.5 608.8,300.9 609.2,300.2 609.5,299.6 609.9,298.9 610.2,298.3 610.6,297.6 610.9,297.0 611.3,296.4 611.6,295.8 612.0,295.3 612.3,294.7 612.7,294.3 613.0,293.9 613.4,293.5 613.8,293.2 614.1,292.9 614.5,292.7 614.8,292.6 615.2,292.5 615.5,292.5 615.9,292.5 616.2,292.6 616.6,292.8 616.9,293.0 617.3,293.3 617.6,293.6 618.0,294.0 618.3,294.4 618.7,294.9 619.0,295.4 619.4,296.0 619.8,296.6 620.1,297.2 620.5,297.8 620.8,298.5 621.2,299.1 621.5,299.8 621.9,300.5 622.2,301.1 622.6,301.7 622.9,302.3 623.3,302.9 623.6,303.5 624.0,304.0 624.3,304.5 624.7,304.9 625.0,305.3 625.4,305.6 625.8,305.9 626.1,306.1 626.5,306.3 626.8,306.4 627.2,306.4 627.5,306.4 627.9,306.3 628.2,306.2 628.6,306.0 628.9,305.7 629.3,305.4 629.6,305.0 630.0,304.6 630.3,304.1 630.7,303.6 631.0,303.1 631.4,302.5 631.8,301.9 632.1,301.3 632.5,300.6 632.8,300.0 633.2,299.3 633.5,298.6 633.9,298.0 634.2,297.3 634.6,296.7 634.9,296.1 635.3,295.6 635.6,295.0 636.0,294.5 636.3,294.1 636.7,293.7 637.0,293.3 637.4,293.0 637.8,292.8 638.1,292.6 638.5,292.5 638.8,292.5 639.2,292.5 639.5,292.5 639.9,292.7 640.2,292.8 640.6,293.1 640.9,293.4 641.3,293.8 641.6,294.2 642.0,294.6 642.3,295.1 642.7,295.7 643.0,296.2 643.4,296.8 643.8,297.5 644.1,298.1 644.5,298.7 644.8,299.4 645.2,300.1 645.5,300.7 645.9,301.4 646.2,302.0 646.6,302.6 646.9,303.2 647.3,303.7 647.6,304.2 648.0,304.7 648.3,305.1 648.7,305.5 649.0,305.8 649.4,306.0 649.8,306.2 650.1,306.4 650.5,306.4 650.8,306.4 651.2,306.4 651.5,306.3 651.9,306.1 652.2,305.9 652.6,305.6 652.9,305.3 653.3,304.9 653.6,304.4 654.0,303.9 654.3,303.4 654.7,302.8 655.0,302.2 655.4,301.6 655.8,301.0 656.1,300.3 656.5,299.7 656.8,299.0 657.2,298.4 657.5,297.7 657.9,297.1 658.2,296.5 658.6,295.9 658.9,295.3 659.3,294.8 659.6,294.4 660.0,293.9 660.3,293.5 660.7,293.2 661.0,292.9 661.4,292.7 661.8,292.6 662.1,292.5 662.5,292.5" fill="none" stroke="#000" stroke-width="1.2" stroke-linejoin="round"/>
<text x="521.32" y="372.10" text-anchor="middle" font-size="13.6" font-weight="bold">remaining signal</text>
<rect x="369.17" y="380.48" width="304.29" height="57.32" fill="none" stroke="#1a1a1a" stroke-width="1.15"/>
<line x1="380.46" y1="437.80" x2="380.46" y2="444.55" stroke="#222" stroke-width="1.1"/>
<text x="380.46" y="461.20" text-anchor="middle" font-size="10.9">0.0</text>
<line x1="436.86" y1="437.80" x2="436.86" y2="444.55" stroke="#222" stroke-width="1.1"/>
<text x="436.86" y="461.20" text-anchor="middle" font-size="10.9">0.2</text>
<line x1="493.26" y1="437.80" x2="493.26" y2="444.55" stroke="#222" stroke-width="1.1"/>
<text x="493.26" y="461.20" text-anchor="middle" font-size="10.9">0.4</text>
<line x1="549.66" y1="437.80" x2="549.66" y2="444.55" stroke="#222" stroke-width="1.1"/>
<text x="549.66" y="461.20" text-anchor="middle" font-size="10.9">0.6</text>
<line x1="606.06" y1="437.80" x2="606.06" y2="444.55" stroke="#222" stroke-width="1.1"/>
<text x="606.06" y="461.20" text-anchor="middle" font-size="10.9">0.8</text>
<line x1="662.46" y1="437.80" x2="662.46" y2="444.55" stroke="#222" stroke-width="1.1"/>
<text x="662.46" y="461.20" text-anchor="middle" font-size="10.9">1.0</text>
<line x1="362.42" y1="431.12" x2="369.17" y2="431.12" stroke="#222" stroke-width="1.1"/>
<text x="354.37" y="431.12" transform="rotate(-90 354.37 431.12)" text-anchor="middle" font-size="10.9">0.2</text>
<line x1="362.42" y1="417.12" x2="369.17" y2="417.12" stroke="#222" stroke-width="1.1"/>
<line x1="362.42" y1="403.12" x2="369.17" y2="403.12" stroke="#222" stroke-width="1.1"/>
<text x="354.37" y="403.12" transform="rotate(-90 354.37 403.12)" text-anchor="middle" font-size="10.9">0.6</text>
<line x1="362.42" y1="389.12" x2="369.17" y2="389.12" stroke="#222" stroke-width="1.1"/>
<polyline points="380.5,396.1 380.8,396.1 381.2,396.1 381.5,396.1 381.9,396.1 382.2,396.2 382.6,396.2 382.9,396.2 383.3,396.2 383.6,396.3 384.0,396.3 384.3,396.3 384.7,396.4 385.0,396.4 385.4,396.5 385.8,396.5 386.1,396.6 386.5,396.6 386.8,396.7 387.2,396.7 387.5,396.8 387.9,396.9 388.2,396.9 388.6,397.0 388.9,397.1 389.3,397.2 389.6,397.3 390.0,397.4 390.3,397.5 390.7,397.6 391.0,397.6 391.4,397.8 391.8,397.9 392.1,398.0 392.5,398.1 392.8,398.2 393.2,398.3 393.5,398.4 393.9,398.5 394.2,398.7 394.6,398.8 394.9,398.9 395.3,399.1 395.6,399.2 396.0,399.3 396.3,399.5 396.7,399.6 397.0,399.8 397.4,399.9 397.8,400.1 398.1,400.2 398.5,400.4 398.8,400.5 399.2,400.7 399.5,400.9 399.9,401.0 400.2,401.2 400.6,401.4 400.9,401.6 401.3,401.7 401.6,401.9 402.0,402.1 402.3,402.3 402.7,402.4 403.0,402.6 403.4,402.8 403.8,403.0 404.1,403.2 404.5,403.4 404.8,403.6 405.2,403.8 405.5,404.0 405.9,404.2 406.2,404.4 406.6,404.6 406.9,404.8 407.3,405.0 407.6,405.2 408.0,405.4 408.3,405.6 408.7,405.8 409.0,406.0 409.4,406.2 409.8,406.4 410.1,406.7 410.5,406.9 410.8,407.1 411.2,407.3 411.5,407.5 411.9,407.7 412.2,408.0 412.6,408.2 412.9,408.4 413.3,408.6 413.6,408.8 414.0,409.0 414.3,409.3 414.7,409.5 415.0,409.7 415.4,409.9 415.8,410.1 416.1,410.4 416.5,410.6 416.8,410.8 417.2,411.0 417.5,411.2 417.9,411.5 418.2,411.7 418.6,411.9 418.9,412.1 419.3,412.3 419.6,412.6 420.0,412.8 420.3,413.0 420.7,413.2 421.0,413.4 421.4,413.6 421.8,413.8 422.1,414.1 422.5,414.3 422.8,414.5 423.2,414.7 423.5,414.9 423.9,415.1 424.2,415.3 424.6,415.5 424.9,415.7 425.3,415.9 425.6,416.1 426.0,416.3 426.3,416.5 426.7,416.7 427.0,416.9 427.4,417.1 427.8,417.3 428.1,417.5 428.5,417.7 428.8,417.8 429.2,418.0 429.5,418.2 429.9,418.4 430.2,418.6 430.6,418.7 430.9,418.9 431.3,419.1 431.6,419.2 432.0,419.4 432.3,419.6 432.7,419.7 433.0,419.9 433.4,420.0 433.8,420.2 434.1,420.4 434.5,420.5 434.8,420.6 435.2,420.8 435.5,420.9 435.9,421.1 436.2,421.2 436.6,421.3 436.9,421.5 437.3,421.6 437.6,421.7 438.0,421.8 438.3,422.0 438.7,422.1 439.0,422.2 439.4,422.3 439.8,422.4 440.1,422.5 440.5,422.6 440.8,422.7 441.2,422.8 441.5,422.9 441.9,423.0 442.2,423.1 442.6,423.2 442.9,423.2 443.3,423.3 443.6,423.4 444.0,423.5 444.3,423.5 444.7,423.6 445.0,423.6 445.4,423.7 445.8,423.7 446.1,423.8 446.5,423.8 446.8,423.9 447.2,423.9 447.5,424.0 447.9,424.0 448.2,424.0 448.6,424.0 448.9,424.1 449.3,424.1 449.6,424.1 450.0,424.1 450.3,424.1 450.7,424.1 451.0,424.1 451.4,424.1 451.8,424.1 452.1,424.1 452.5,424.1 452.8,424.1 453.2,424.1 453.5,424.0 453.9,424.0 454.2,424.0 454.6,423.9 454.9,423.9 455.3,423.9 455.6,423.8 456.0,423.8 456.3,423.7 456.7,423.7 457.0,423.6 457.4,423.5 457.8,423.5 458.1,423.4 458.5,423.3 458.8,423.3 459.2,423.2 459.5,423.1 459.9,423.0 460.2,422.9 460.6,422.9 460.9,422.8 461.3,422.7 461.6,422.6 462.0,422.5 462.3,422.4 462.7,422.2 463.0,422.1 463.4,422.0 463.8,421.9 464.1,421.8 464.5,421.7 464.8,421.5 465.2,421.4 465.5,421.3 465.9,421.1 466.2,421.0 466.6,420.9 466.9,420.7 467.3,420.6 467.6,420.4 468.0,420.3 468.3,420.1 468.7,420.0 469.0,419.8 469.4,419.7 469.8,419.5 470.1,419.3 470.5,419.2 470.8,419.0 471.2,418.8 471.5,418.6 471.9,418.5 472.2,418.3 472.6,418.1 472.9,417.9 473.3,417.7 473.6,417.6 474.0,417.4 474.3,417.2 474.7,417.0 475.0,416.8 475.4,416.6 475.8,416.4 476.1,416.2 476.5,416.0 476.8,415.8 477.2,415.6 477.5,415.4 477.9,415.2 478.2,415.0 478.6,414.8 478.9,414.6 479.3,414.4 479.6,414.2 480.0,414.0 480.3,413.7 480.7,413.5 481.0,413.3 481.4,413.1 481.8,412.9 482.1,412.7 482.5,412.4 482.8,412.2 483.2,412.0 483.5,411.8 483.9,411.6 484.2,411.4 484.6,411.1 484.9,410.9 485.3,410.7 485.6,410.5 486.0,410.3 486.3,410.0 486.7,409.8 487.0,409.6 487.4,409.4 487.8,409.2 488.1,408.9 488.5,408.7 488.8,408.5 489.2,408.3 489.5,408.1 489.9,407.8 490.2,407.6 490.6,407.4 490.9,407.2 491.3,407.0 491.6,406.8 492.0,406.6 492.3,406.3 492.7,406.1 493.0,405.9 493.4,405.7 493.8,405.5 494.1,405.3 494.5,405.1 494.8,404.9 495.2,404.7 495.5,404.5 495.9,404.3 496.2,404.1 496.6,403.9 496.9,403.7 497.3,403.5 497.6,403.3 498.0,403.1 498.3,402.9 498.7,402.7 499.0,402.5 499.4,402.4 499.8,402.2 500.1,402.0 500.5,401.8 500.8,401.6 501.2,401.5 501.5,401.3 501.9,401.1 502.2,401.0 502.6,400.8 502.9,400.6 503.3,400.5 503.6,400.3 504.0,400.2 504.3,400.0 504.7,399.8 505.0,399.7 505.4,399.6 505.8,399.4 506.1,399.3 506.5,399.1 506.8,399.0 507.2,398.9 507.5,398.7 507.9,398.6 508.2,398.5 508.6,398.4 508.9,398.2 509.3,398.1 509.6,398.0 510.0,397.9 510.3,397.8 510.7,397.7 511.0,397.6 511.4,397.5 511.8,397.4 512.1,397.3 512.5,397.2 512.8,397.1 513.2,397.1 513.5,397.0 513.9,396.9 514.2,396.8 514.6,396.8 514.9,396.7 515.3,396.6 515.6,396.6 516.0,396.5 516.3,396.5 516.7,396.4 517.0,396.4 517.4,396.3 517.8,396.3 518.1,396.3 518.5,396.2 518.8,396.2 519.2,396.2 519.5,396.2 519.9,396.2 520.2,396.1 520.6,396.1 520.9,396.1 521.3,396.1 521.6,396.1 522.0,396.1 522.3,396.1 522.7,396.1 523.0,396.2 523.4,396.2 523.8,396.2 524.1,396.2 524.5,396.2 524.8,396.3 525.2,396.3 525.5,396.3 525.9,396.4 526.2,396.4 526.6,396.5 526.9,396.5 527.3,396.6 527.6,396.6 528.0,396.7 528.3,396.8 528.7,396.8 529.0,396.9 529.4,397.0 529.8,397.1 530.1,397.1 530.5,397.2 530.8,397.3 531.2,397.4 531.5,397.5 531.9,397.6 532.2,397.7 532.6,397.8 532.9,397.9 533.3,398.0 533.6,398.1 534.0,398.2 534.3,398.4 534.7,398.5 535.0,398.6 535.4,398.7 535.8,398.9 536.1,399.0 536.5,399.1 536.8,399.3 537.2,399.4 537.5,399.6 537.9,399.7 538.2,399.8 538.6,400.0 538.9,400.2 539.3,400.3 539.6,400.5 540.0,400.6 540.3,400.8 540.7,401.0 541.0,401.1 541.4,401.3 541.8,401.5 542.1,401.6 542.5,401.8 542.8,402.0 543.2,402.2 543.5,402.4 543.9,402.5 544.2,402.7 544.6,402.9 544.9,403.1 545.3,403.3 545.6,403.5 546.0,403.7 546.3,403.9 546.7,404.1 547.0,404.3 547.4,404.5 547.8,404.7 548.1,404.9 548.5,405.1 548.8,405.3 549.2,405.5 549.5,405.7 549.9,405.9 550.2,406.1 550.6,406.3 550.9,406.6 551.3,406.8 551.6,407.0 552.0,407.2 552.3,407.4 552.7,407.6 553.0,407.8 553.4,408.1 553.8,408.3 554.1,408.5 554.5,408.7 554.8,408.9 555.2,409.2 555.5,409.4 555.9,409.6 556.2,409.8 556.6,410.0 556.9,410.3 557.3,410.5 557.6,410.7 558.0,410.9 558.3,411.1 558.7,411.4 559.0,411.6 559.4,411.8 559.8,412.0 560.1,412.2 560.5,412.4 560.8,412.7 561.2,412.9 561.5,413.1 561.9,413.3 562.2,413.5 562.6,413.7 562.9,414.0 563.3,414.2 563.6,414.4 564.0,414.6 564.3,414.8 564.7,415.0 565.0,415.2 565.4,415.4 565.8,415.6 566.1,415.8 566.5,416.0 566.8,416.2 567.2,416.4 567.5,416.6 567.9,416.8 568.2,417.0 568.6,417.2 568.9,417.4 569.3,417.6 569.6,417.7 570.0,417.9 570.3,418.1 570.7,418.3 571.0,418.5 571.4,418.6 571.8,418.8 572.1,419.0 572.5,419.2 572.8,419.3 573.2,419.5 573.5,419.7 573.9,419.8 574.2,420.0 574.6,420.1 574.9,420.3 575.3,420.4 575.6,420.6 576.0,420.7 576.3,420.9 576.7,421.0 577.0,421.1 577.4,421.3 577.8,421.4 578.1,421.5 578.5,421.7 578.8,421.8 579.2,421.9 579.5,422.0 579.9,422.1 580.2,422.2 580.6,422.4 580.9,422.5 581.3,422.6 581.6,422.7 582.0,422.8 582.3,422.9 582.7,422.9 583.0,423.0 583.4,423.1 583.8,423.2 584.1,423.3 584.5,423.3 584.8,423.4 585.2,423.5 585.5,423.5 585.9,423.6 586.2,423.7 586.6,423.7 586.9,423.8 587.3,423.8 587.6,423.9 588.0,423.9 588.3,423.9 588.7,424.0 589.0,424.0 589.4,424.0 589.8,424.1 590.1,424.1 590.5,424.1 590.8,424.1 591.2,424.1 591.5,424.1 591.9,424.1 592.2,424.1 592.6,424.1 592.9,424.1 593.3,424.1 593.6,424.1 594.0,424.1 594.3,424.0 594.7,424.0 595.0,424.0 595.4,424.0 595.8,423.9 596.1,423.9 596.5,423.8 596.8,423.8 597.2,423.7 597.5,423.7 597.9,423.6 598.2,423.6 598.6,423.5 598.9,423.5 599.3,423.4 599.6,423.3 600.0,423.2 600.3,423.2 600.7,423.1 601.0,423.0 601.4,422.9 601.8,422.8 602.1,422.7 602.5,422.6 602.8,422.5 603.2,422.4 603.5,422.3 603.9,422.2 604.2,422.1 604.6,422.0 604.9,421.8 605.3,421.7 605.6,421.6 606.0,421.5 606.3,421.3 606.7,421.2 607.0,421.1 607.4,420.9 607.8,420.8 608.1,420.6 608.5,420.5 608.8,420.4 609.2,420.2 609.5,420.0 609.9,419.9 610.2,419.7 610.6,419.6 610.9,419.4 611.3,419.2 611.6,419.1 612.0,418.9 612.3,418.7 612.7,418.6 613.0,418.4 613.4,418.2 613.8,418.0 614.1,417.8 614.5,417.7 614.8,417.5 615.2,417.3 615.5,417.1 615.9,416.9 616.2,416.7 616.6,416.5 616.9,416.3 617.3,416.1 617.6,415.9 618.0,415.7 618.3,415.5 618.7,415.3 619.0,415.1 619.4,414.9 619.8,414.7 620.1,414.5 620.5,414.3 620.8,414.1 621.2,413.8 621.5,413.6 621.9,413.4 622.2,413.2 622.6,413.0 622.9,412.8 623.3,412.6 623.6,412.3 624.0,412.1 624.3,411.9 624.7,411.7 625.0,411.5 625.4,411.2 625.8,411.0 626.1,410.8 626.5,410.6 626.8,410.4 627.2,410.1 627.5,409.9 627.9,409.7 628.2,409.5 628.6,409.3 628.9,409.0 629.3,408.8 629.6,408.6 630.0,408.4 630.3,408.2 630.7,408.0 631.0,407.7 631.4,407.5 631.8,407.3 632.1,407.1 632.5,406.9 632.8,406.7 633.2,406.4 633.5,406.2 633.9,406.0 634.2,405.8 634.6,405.6 634.9,405.4 635.3,405.2 635.6,405.0 636.0,404.8 636.3,404.6 636.7,404.4 637.0,404.2 637.4,404.0 637.8,403.8 638.1,403.6 638.5,403.4 638.8,403.2 639.2,403.0 639.5,402.8 639.9,402.6 640.2,402.4 640.6,402.3 640.9,402.1 641.3,401.9 641.6,401.7 642.0,401.6 642.3,401.4 642.7,401.2 643.0,401.0 643.4,400.9 643.8,400.7 644.1,400.5 644.5,400.4 644.8,400.2 645.2,400.1 645.5,399.9 645.9,399.8 646.2,399.6 646.6,399.5 646.9,399.3 647.3,399.2 647.6,399.1 648.0,398.9 648.3,398.8 648.7,398.7 649.0,398.5 649.4,398.4 649.8,398.3 650.1,398.2 650.5,398.1 650.8,398.0 651.2,397.9 651.5,397.8 651.9,397.6 652.2,397.6 652.6,397.5 652.9,397.4 653.3,397.3 653.6,397.2 654.0,397.1 654.3,397.0 654.7,396.9 655.0,396.9 655.4,396.8 655.8,396.7 656.1,396.7 656.5,396.6 656.8,396.6 657.2,396.5 657.5,396.5 657.9,396.4 658.2,396.4 658.6,396.3 658.9,396.3 659.3,396.3 659.6,396.2 660.0,396.2 660.3,396.2 660.7,396.2 661.0,396.1 661.4,396.1 661.8,396.1 662.1,396.1 662.5,396.1" fill="none" stroke="#000" stroke-width="1.2" stroke-linejoin="round"/>
</svg>
</body></html>
